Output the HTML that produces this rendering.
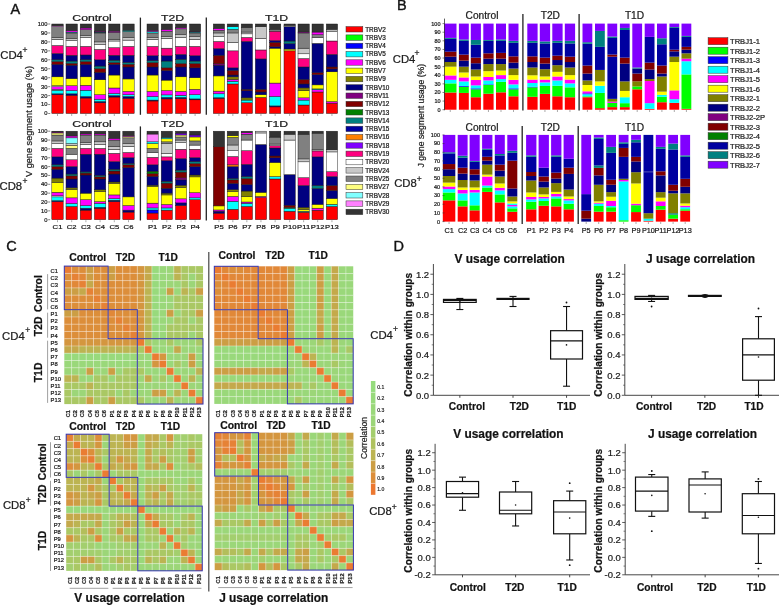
<!DOCTYPE html>
<html><head><meta charset="utf-8"><style>
html,body{margin:0;padding:0;background:#fff;width:779px;height:605px;overflow:hidden}
svg{display:block;font-family:"Liberation Sans", sans-serif;filter:blur(0.3px)}
text{stroke:#1a1a1a;stroke-width:0.22px}
</style></head><body>
<svg width="779" height="605" viewBox="0 0 779 605" font-family='"Liberation Sans", sans-serif'>
<rect width="779" height="605" fill="#fff"/>
<text x="10.6" y="13.5" font-size="14.5" text-anchor="start" fill="#111" style="stroke-width:0.4px">A</text>
<rect x="51.80" y="94.70" width="11.40" height="18.80" fill="#ff0000" stroke="#1a1a1a" stroke-width="0.45"/>
<rect x="51.80" y="93.81" width="11.40" height="0.89" fill="#000080" stroke="#1a1a1a" stroke-width="0.45"/>
<rect x="51.80" y="90.23" width="11.40" height="3.58" fill="#00ffff" stroke="#1a1a1a" stroke-width="0.45"/>
<rect x="51.80" y="89.33" width="11.40" height="0.90" fill="#ffffff" stroke="#1a1a1a" stroke-width="0.45"/>
<rect x="51.80" y="86.65" width="11.40" height="2.68" fill="#ff00ff" stroke="#1a1a1a" stroke-width="0.45"/>
<rect x="51.80" y="85.75" width="11.40" height="0.90" fill="#ffffff" stroke="#1a1a1a" stroke-width="0.45"/>
<rect x="51.80" y="76.81" width="11.40" height="8.95" fill="#ffff00" stroke="#1a1a1a" stroke-width="0.45"/>
<rect x="51.80" y="64.28" width="11.40" height="12.53" fill="#000080" stroke="#1a1a1a" stroke-width="0.45"/>
<rect x="51.80" y="61.59" width="11.40" height="2.69" fill="#800000" stroke="#1a1a1a" stroke-width="0.45"/>
<rect x="51.80" y="59.80" width="11.40" height="1.79" fill="#008080" stroke="#1a1a1a" stroke-width="0.45"/>
<rect x="51.80" y="53.53" width="11.40" height="6.27" fill="#000080" stroke="#1a1a1a" stroke-width="0.45"/>
<rect x="51.80" y="45.48" width="11.40" height="8.05" fill="#ff0080" stroke="#1a1a1a" stroke-width="0.45"/>
<rect x="51.80" y="39.22" width="11.40" height="6.27" fill="#ffffff" stroke="#1a1a1a" stroke-width="0.45"/>
<rect x="51.80" y="37.42" width="11.40" height="1.79" fill="#c8c8c8" stroke="#1a1a1a" stroke-width="0.45"/>
<rect x="51.80" y="26.69" width="11.40" height="10.74" fill="#808080" stroke="#1a1a1a" stroke-width="0.45"/>
<rect x="51.80" y="25.79" width="11.40" height="0.89" fill="#ff80ff" stroke="#1a1a1a" stroke-width="0.45"/>
<rect x="51.80" y="24.00" width="11.40" height="1.79" fill="#333333" stroke="#1a1a1a" stroke-width="0.45"/>
<rect x="66.00" y="95.24" width="11.40" height="18.26" fill="#ff0000" stroke="#1a1a1a" stroke-width="0.45"/>
<rect x="66.00" y="93.81" width="11.40" height="1.43" fill="#000080" stroke="#1a1a1a" stroke-width="0.45"/>
<rect x="66.00" y="90.59" width="11.40" height="3.22" fill="#00ffff" stroke="#1a1a1a" stroke-width="0.45"/>
<rect x="66.00" y="85.75" width="11.40" height="4.83" fill="#ff00ff" stroke="#1a1a1a" stroke-width="0.45"/>
<rect x="66.00" y="78.59" width="11.40" height="7.16" fill="#ffff00" stroke="#1a1a1a" stroke-width="0.45"/>
<rect x="66.00" y="65.17" width="11.40" height="13.43" fill="#000080" stroke="#1a1a1a" stroke-width="0.45"/>
<rect x="66.00" y="63.38" width="11.40" height="1.79" fill="#800000" stroke="#1a1a1a" stroke-width="0.45"/>
<rect x="66.00" y="61.05" width="11.40" height="2.33" fill="#008080" stroke="#1a1a1a" stroke-width="0.45"/>
<rect x="66.00" y="55.32" width="11.40" height="5.73" fill="#000080" stroke="#1a1a1a" stroke-width="0.45"/>
<rect x="66.00" y="46.38" width="11.40" height="8.95" fill="#ff0080" stroke="#1a1a1a" stroke-width="0.45"/>
<rect x="66.00" y="40.65" width="11.40" height="5.73" fill="#ffffff" stroke="#1a1a1a" stroke-width="0.45"/>
<rect x="66.00" y="38.32" width="11.40" height="2.33" fill="#c8c8c8" stroke="#1a1a1a" stroke-width="0.45"/>
<rect x="66.00" y="32.95" width="11.40" height="5.37" fill="#808080" stroke="#1a1a1a" stroke-width="0.45"/>
<rect x="66.00" y="32.05" width="11.40" height="0.90" fill="#00ffff" stroke="#1a1a1a" stroke-width="0.45"/>
<rect x="66.00" y="30.62" width="11.40" height="1.43" fill="#ff00ff" stroke="#1a1a1a" stroke-width="0.45"/>
<rect x="66.00" y="24.00" width="11.40" height="6.62" fill="#333333" stroke="#1a1a1a" stroke-width="0.45"/>
<rect x="80.20" y="98.02" width="11.40" height="15.48" fill="#ff0000" stroke="#1a1a1a" stroke-width="0.45"/>
<rect x="80.20" y="96.50" width="11.40" height="1.52" fill="#000080" stroke="#1a1a1a" stroke-width="0.45"/>
<rect x="80.20" y="90.23" width="11.40" height="6.27" fill="#00ffff" stroke="#1a1a1a" stroke-width="0.45"/>
<rect x="80.20" y="85.31" width="11.40" height="4.92" fill="#ff00ff" stroke="#1a1a1a" stroke-width="0.45"/>
<rect x="80.20" y="76.81" width="11.40" height="8.50" fill="#ffff00" stroke="#1a1a1a" stroke-width="0.45"/>
<rect x="80.20" y="64.28" width="11.40" height="12.53" fill="#000080" stroke="#1a1a1a" stroke-width="0.45"/>
<rect x="80.20" y="61.59" width="11.40" height="2.69" fill="#800000" stroke="#1a1a1a" stroke-width="0.45"/>
<rect x="80.20" y="59.80" width="11.40" height="1.79" fill="#008080" stroke="#1a1a1a" stroke-width="0.45"/>
<rect x="80.20" y="54.97" width="11.40" height="4.83" fill="#000080" stroke="#1a1a1a" stroke-width="0.45"/>
<rect x="80.20" y="46.38" width="11.40" height="8.59" fill="#ff0080" stroke="#1a1a1a" stroke-width="0.45"/>
<rect x="80.20" y="37.42" width="11.40" height="8.95" fill="#ffffff" stroke="#1a1a1a" stroke-width="0.45"/>
<rect x="80.20" y="35.64" width="11.40" height="1.79" fill="#c8c8c8" stroke="#1a1a1a" stroke-width="0.45"/>
<rect x="80.20" y="29.73" width="11.40" height="5.91" fill="#808080" stroke="#1a1a1a" stroke-width="0.45"/>
<rect x="80.20" y="28.03" width="11.40" height="1.70" fill="#ff00ff" stroke="#1a1a1a" stroke-width="0.45"/>
<rect x="80.20" y="24.00" width="11.40" height="4.03" fill="#333333" stroke="#1a1a1a" stroke-width="0.45"/>
<rect x="94.40" y="102.76" width="11.40" height="10.74" fill="#ff0000" stroke="#1a1a1a" stroke-width="0.45"/>
<rect x="94.40" y="101.51" width="11.40" height="1.25" fill="#000080" stroke="#1a1a1a" stroke-width="0.45"/>
<rect x="94.40" y="99.18" width="11.40" height="2.33" fill="#00ffff" stroke="#1a1a1a" stroke-width="0.45"/>
<rect x="94.40" y="94.70" width="11.40" height="4.48" fill="#ff00ff" stroke="#1a1a1a" stroke-width="0.45"/>
<rect x="94.40" y="79.76" width="11.40" height="14.95" fill="#ffff00" stroke="#1a1a1a" stroke-width="0.45"/>
<rect x="94.40" y="72.33" width="11.40" height="7.43" fill="#000080" stroke="#1a1a1a" stroke-width="0.45"/>
<rect x="94.40" y="68.75" width="11.40" height="3.58" fill="#800000" stroke="#1a1a1a" stroke-width="0.45"/>
<rect x="94.40" y="66.06" width="11.40" height="2.69" fill="#008080" stroke="#1a1a1a" stroke-width="0.45"/>
<rect x="94.40" y="59.80" width="11.40" height="6.26" fill="#000080" stroke="#1a1a1a" stroke-width="0.45"/>
<rect x="94.40" y="49.42" width="11.40" height="10.38" fill="#ff0080" stroke="#1a1a1a" stroke-width="0.45"/>
<rect x="94.40" y="44.58" width="11.40" height="4.83" fill="#ffffff" stroke="#1a1a1a" stroke-width="0.45"/>
<rect x="94.40" y="41.90" width="11.40" height="2.69" fill="#c8c8c8" stroke="#1a1a1a" stroke-width="0.45"/>
<rect x="94.40" y="32.95" width="11.40" height="8.95" fill="#808080" stroke="#1a1a1a" stroke-width="0.45"/>
<rect x="94.40" y="32.05" width="11.40" height="0.90" fill="#008080" stroke="#1a1a1a" stroke-width="0.45"/>
<rect x="94.40" y="31.16" width="11.40" height="0.89" fill="#ff00ff" stroke="#1a1a1a" stroke-width="0.45"/>
<rect x="94.40" y="24.00" width="11.40" height="7.16" fill="#333333" stroke="#1a1a1a" stroke-width="0.45"/>
<rect x="108.60" y="97.03" width="11.40" height="16.47" fill="#ff0000" stroke="#1a1a1a" stroke-width="0.45"/>
<rect x="108.60" y="95.60" width="11.40" height="1.43" fill="#000080" stroke="#1a1a1a" stroke-width="0.45"/>
<rect x="108.60" y="93.54" width="11.40" height="2.06" fill="#00ffff" stroke="#1a1a1a" stroke-width="0.45"/>
<rect x="108.60" y="87.99" width="11.40" height="5.55" fill="#ff00ff" stroke="#1a1a1a" stroke-width="0.45"/>
<rect x="108.60" y="75.02" width="11.40" height="12.98" fill="#ffff00" stroke="#1a1a1a" stroke-width="0.45"/>
<rect x="108.60" y="64.28" width="11.40" height="10.74" fill="#000080" stroke="#1a1a1a" stroke-width="0.45"/>
<rect x="108.60" y="62.75" width="11.40" height="1.52" fill="#800000" stroke="#1a1a1a" stroke-width="0.45"/>
<rect x="108.60" y="60.16" width="11.40" height="2.60" fill="#008080" stroke="#1a1a1a" stroke-width="0.45"/>
<rect x="108.60" y="55.32" width="11.40" height="4.83" fill="#000080" stroke="#1a1a1a" stroke-width="0.45"/>
<rect x="108.60" y="47.63" width="11.40" height="7.70" fill="#ff0080" stroke="#1a1a1a" stroke-width="0.45"/>
<rect x="108.60" y="41.00" width="11.40" height="6.62" fill="#ffffff" stroke="#1a1a1a" stroke-width="0.45"/>
<rect x="108.60" y="39.22" width="11.40" height="1.79" fill="#c8c8c8" stroke="#1a1a1a" stroke-width="0.45"/>
<rect x="108.60" y="32.32" width="11.40" height="6.89" fill="#808080" stroke="#1a1a1a" stroke-width="0.45"/>
<rect x="108.60" y="31.16" width="11.40" height="1.16" fill="#ff00ff" stroke="#1a1a1a" stroke-width="0.45"/>
<rect x="108.60" y="24.00" width="11.40" height="7.16" fill="#333333" stroke="#1a1a1a" stroke-width="0.45"/>
<rect x="122.80" y="98.28" width="11.40" height="15.22" fill="#ff0000" stroke="#1a1a1a" stroke-width="0.45"/>
<rect x="122.80" y="96.50" width="11.40" height="1.79" fill="#000080" stroke="#1a1a1a" stroke-width="0.45"/>
<rect x="122.80" y="94.70" width="11.40" height="1.79" fill="#00ffff" stroke="#1a1a1a" stroke-width="0.45"/>
<rect x="122.80" y="91.39" width="11.40" height="3.31" fill="#ff00ff" stroke="#1a1a1a" stroke-width="0.45"/>
<rect x="122.80" y="78.95" width="11.40" height="12.44" fill="#ffff00" stroke="#1a1a1a" stroke-width="0.45"/>
<rect x="122.80" y="66.96" width="11.40" height="11.99" fill="#000080" stroke="#1a1a1a" stroke-width="0.45"/>
<rect x="122.80" y="64.28" width="11.40" height="2.69" fill="#800000" stroke="#1a1a1a" stroke-width="0.45"/>
<rect x="122.80" y="62.49" width="11.40" height="1.79" fill="#008080" stroke="#1a1a1a" stroke-width="0.45"/>
<rect x="122.80" y="55.32" width="11.40" height="7.16" fill="#000080" stroke="#1a1a1a" stroke-width="0.45"/>
<rect x="122.80" y="46.38" width="11.40" height="8.95" fill="#ff0080" stroke="#1a1a1a" stroke-width="0.45"/>
<rect x="122.80" y="40.11" width="11.40" height="6.27" fill="#ffffff" stroke="#1a1a1a" stroke-width="0.45"/>
<rect x="122.80" y="37.42" width="11.40" height="2.69" fill="#c8c8c8" stroke="#1a1a1a" stroke-width="0.45"/>
<rect x="122.80" y="31.52" width="11.40" height="5.91" fill="#808080" stroke="#1a1a1a" stroke-width="0.45"/>
<rect x="122.80" y="30.27" width="11.40" height="1.25" fill="#00ffff" stroke="#1a1a1a" stroke-width="0.45"/>
<rect x="122.80" y="24.00" width="11.40" height="6.27" fill="#333333" stroke="#1a1a1a" stroke-width="0.45"/>
<rect x="147.00" y="100.97" width="11.20" height="12.53" fill="#ff0000" stroke="#1a1a1a" stroke-width="0.45"/>
<rect x="147.00" y="100.08" width="11.20" height="0.89" fill="#000080" stroke="#1a1a1a" stroke-width="0.45"/>
<rect x="147.00" y="96.50" width="11.20" height="3.58" fill="#00ffff" stroke="#1a1a1a" stroke-width="0.45"/>
<rect x="147.00" y="91.39" width="11.20" height="5.10" fill="#ff00ff" stroke="#1a1a1a" stroke-width="0.45"/>
<rect x="147.00" y="75.02" width="11.20" height="16.38" fill="#ffff00" stroke="#1a1a1a" stroke-width="0.45"/>
<rect x="147.00" y="66.96" width="11.20" height="8.05" fill="#000080" stroke="#1a1a1a" stroke-width="0.45"/>
<rect x="147.00" y="62.75" width="11.20" height="4.21" fill="#800000" stroke="#1a1a1a" stroke-width="0.45"/>
<rect x="147.00" y="60.70" width="11.20" height="2.06" fill="#008080" stroke="#1a1a1a" stroke-width="0.45"/>
<rect x="147.00" y="55.77" width="11.20" height="4.92" fill="#000080" stroke="#1a1a1a" stroke-width="0.45"/>
<rect x="147.00" y="46.38" width="11.20" height="9.40" fill="#ff0080" stroke="#1a1a1a" stroke-width="0.45"/>
<rect x="147.00" y="39.22" width="11.20" height="7.16" fill="#ffffff" stroke="#1a1a1a" stroke-width="0.45"/>
<rect x="147.00" y="37.42" width="11.20" height="1.79" fill="#c8c8c8" stroke="#1a1a1a" stroke-width="0.45"/>
<rect x="147.00" y="32.95" width="11.20" height="4.47" fill="#808080" stroke="#1a1a1a" stroke-width="0.45"/>
<rect x="147.00" y="31.52" width="11.20" height="1.43" fill="#00ffff" stroke="#1a1a1a" stroke-width="0.45"/>
<rect x="147.00" y="30.27" width="11.20" height="1.25" fill="#ff00ff" stroke="#1a1a1a" stroke-width="0.45"/>
<rect x="147.00" y="24.00" width="11.20" height="6.27" fill="#333333" stroke="#1a1a1a" stroke-width="0.45"/>
<rect x="161.20" y="98.91" width="11.20" height="14.59" fill="#ff0000" stroke="#1a1a1a" stroke-width="0.45"/>
<rect x="161.20" y="97.39" width="11.20" height="1.52" fill="#000080" stroke="#1a1a1a" stroke-width="0.45"/>
<rect x="161.20" y="94.88" width="11.20" height="2.51" fill="#00ffff" stroke="#1a1a1a" stroke-width="0.45"/>
<rect x="161.20" y="90.59" width="11.20" height="4.30" fill="#ff00ff" stroke="#1a1a1a" stroke-width="0.45"/>
<rect x="161.20" y="80.12" width="11.20" height="10.47" fill="#ffff00" stroke="#1a1a1a" stroke-width="0.45"/>
<rect x="161.20" y="70.54" width="11.20" height="9.58" fill="#000080" stroke="#1a1a1a" stroke-width="0.45"/>
<rect x="161.20" y="67.85" width="11.20" height="2.69" fill="#800000" stroke="#1a1a1a" stroke-width="0.45"/>
<rect x="161.20" y="61.05" width="11.20" height="6.80" fill="#008080" stroke="#1a1a1a" stroke-width="0.45"/>
<rect x="161.20" y="55.77" width="11.20" height="5.28" fill="#000080" stroke="#1a1a1a" stroke-width="0.45"/>
<rect x="161.20" y="48.17" width="11.20" height="7.61" fill="#ff0080" stroke="#1a1a1a" stroke-width="0.45"/>
<rect x="161.20" y="38.32" width="11.20" height="9.84" fill="#ffffff" stroke="#1a1a1a" stroke-width="0.45"/>
<rect x="161.20" y="36.53" width="11.20" height="1.79" fill="#c8c8c8" stroke="#1a1a1a" stroke-width="0.45"/>
<rect x="161.20" y="31.16" width="11.20" height="5.37" fill="#808080" stroke="#1a1a1a" stroke-width="0.45"/>
<rect x="161.20" y="29.37" width="11.20" height="1.79" fill="#ff00ff" stroke="#1a1a1a" stroke-width="0.45"/>
<rect x="161.20" y="24.00" width="11.20" height="5.37" fill="#333333" stroke="#1a1a1a" stroke-width="0.45"/>
<rect x="175.50" y="98.73" width="11.20" height="14.77" fill="#ff0000" stroke="#1a1a1a" stroke-width="0.45"/>
<rect x="175.50" y="97.39" width="11.20" height="1.34" fill="#000080" stroke="#1a1a1a" stroke-width="0.45"/>
<rect x="175.50" y="95.24" width="11.20" height="2.15" fill="#00ffff" stroke="#1a1a1a" stroke-width="0.45"/>
<rect x="175.50" y="91.39" width="11.20" height="3.85" fill="#ff00ff" stroke="#1a1a1a" stroke-width="0.45"/>
<rect x="175.50" y="76.81" width="11.20" height="14.59" fill="#ffff00" stroke="#1a1a1a" stroke-width="0.45"/>
<rect x="175.50" y="66.96" width="11.20" height="9.84" fill="#000080" stroke="#1a1a1a" stroke-width="0.45"/>
<rect x="175.50" y="63.65" width="11.20" height="3.31" fill="#800000" stroke="#1a1a1a" stroke-width="0.45"/>
<rect x="175.50" y="59.26" width="11.20" height="4.39" fill="#008080" stroke="#1a1a1a" stroke-width="0.45"/>
<rect x="175.50" y="54.43" width="11.20" height="4.83" fill="#000080" stroke="#1a1a1a" stroke-width="0.45"/>
<rect x="175.50" y="46.38" width="11.20" height="8.05" fill="#ff0080" stroke="#1a1a1a" stroke-width="0.45"/>
<rect x="175.50" y="37.42" width="11.20" height="8.95" fill="#ffffff" stroke="#1a1a1a" stroke-width="0.45"/>
<rect x="175.50" y="34.74" width="11.20" height="2.69" fill="#c8c8c8" stroke="#1a1a1a" stroke-width="0.45"/>
<rect x="175.50" y="28.83" width="11.20" height="5.91" fill="#808080" stroke="#1a1a1a" stroke-width="0.45"/>
<rect x="175.50" y="27.58" width="11.20" height="1.25" fill="#ff00ff" stroke="#1a1a1a" stroke-width="0.45"/>
<rect x="175.50" y="24.00" width="11.20" height="3.58" fill="#333333" stroke="#1a1a1a" stroke-width="0.45"/>
<rect x="189.50" y="99.81" width="11.20" height="13.69" fill="#ff0000" stroke="#1a1a1a" stroke-width="0.45"/>
<rect x="189.50" y="98.91" width="11.20" height="0.89" fill="#000080" stroke="#1a1a1a" stroke-width="0.45"/>
<rect x="189.50" y="94.70" width="11.20" height="4.21" fill="#00ffff" stroke="#1a1a1a" stroke-width="0.45"/>
<rect x="189.50" y="89.33" width="11.20" height="5.37" fill="#ff00ff" stroke="#1a1a1a" stroke-width="0.45"/>
<rect x="189.50" y="77.70" width="11.20" height="11.64" fill="#ffff00" stroke="#1a1a1a" stroke-width="0.45"/>
<rect x="189.50" y="67.85" width="11.20" height="9.84" fill="#000080" stroke="#1a1a1a" stroke-width="0.45"/>
<rect x="189.50" y="63.65" width="11.20" height="4.21" fill="#800000" stroke="#1a1a1a" stroke-width="0.45"/>
<rect x="189.50" y="61.05" width="11.20" height="2.60" fill="#008080" stroke="#1a1a1a" stroke-width="0.45"/>
<rect x="189.50" y="55.77" width="11.20" height="5.28" fill="#000080" stroke="#1a1a1a" stroke-width="0.45"/>
<rect x="189.50" y="46.38" width="11.20" height="9.40" fill="#ff0080" stroke="#1a1a1a" stroke-width="0.45"/>
<rect x="189.50" y="39.22" width="11.20" height="7.16" fill="#ffffff" stroke="#1a1a1a" stroke-width="0.45"/>
<rect x="189.50" y="36.53" width="11.20" height="2.69" fill="#c8c8c8" stroke="#1a1a1a" stroke-width="0.45"/>
<rect x="189.50" y="32.95" width="11.20" height="3.58" fill="#808080" stroke="#1a1a1a" stroke-width="0.45"/>
<rect x="189.50" y="32.05" width="11.20" height="0.90" fill="#00ffff" stroke="#1a1a1a" stroke-width="0.45"/>
<rect x="189.50" y="31.52" width="11.20" height="0.54" fill="#ff00ff" stroke="#1a1a1a" stroke-width="0.45"/>
<rect x="189.50" y="24.00" width="11.20" height="7.52" fill="#333333" stroke="#1a1a1a" stroke-width="0.45"/>
<rect x="213.30" y="98.28" width="11.30" height="15.22" fill="#ff0000" stroke="#1a1a1a" stroke-width="0.45"/>
<rect x="213.30" y="97.75" width="11.30" height="0.54" fill="#000080" stroke="#1a1a1a" stroke-width="0.45"/>
<rect x="213.30" y="93.81" width="11.30" height="3.94" fill="#00ffff" stroke="#1a1a1a" stroke-width="0.45"/>
<rect x="213.30" y="91.12" width="11.30" height="2.69" fill="#ff00ff" stroke="#1a1a1a" stroke-width="0.45"/>
<rect x="213.30" y="75.91" width="11.30" height="15.22" fill="#ffff00" stroke="#1a1a1a" stroke-width="0.45"/>
<rect x="213.30" y="65.17" width="11.30" height="10.74" fill="#000080" stroke="#1a1a1a" stroke-width="0.45"/>
<rect x="213.30" y="63.83" width="11.30" height="1.34" fill="#800080" stroke="#1a1a1a" stroke-width="0.45"/>
<rect x="213.30" y="55.32" width="11.30" height="8.50" fill="#800000" stroke="#1a1a1a" stroke-width="0.45"/>
<rect x="213.30" y="48.61" width="11.30" height="6.71" fill="#000080" stroke="#1a1a1a" stroke-width="0.45"/>
<rect x="213.30" y="41.45" width="11.30" height="7.16" fill="#ff0080" stroke="#1a1a1a" stroke-width="0.45"/>
<rect x="213.30" y="36.53" width="11.30" height="4.92" fill="#ffffff" stroke="#1a1a1a" stroke-width="0.45"/>
<rect x="213.30" y="32.95" width="11.30" height="3.58" fill="#c8c8c8" stroke="#1a1a1a" stroke-width="0.45"/>
<rect x="213.30" y="30.27" width="11.30" height="2.69" fill="#808080" stroke="#1a1a1a" stroke-width="0.45"/>
<rect x="213.30" y="28.48" width="11.30" height="1.79" fill="#ff00ff" stroke="#1a1a1a" stroke-width="0.45"/>
<rect x="213.30" y="24.00" width="11.30" height="4.48" fill="#333333" stroke="#1a1a1a" stroke-width="0.45"/>
<rect x="227.20" y="83.97" width="11.30" height="29.53" fill="#ff0000" stroke="#1a1a1a" stroke-width="0.45"/>
<rect x="227.20" y="81.28" width="11.30" height="2.69" fill="#00ffff" stroke="#1a1a1a" stroke-width="0.45"/>
<rect x="227.20" y="79.49" width="11.30" height="1.79" fill="#ff00ff" stroke="#1a1a1a" stroke-width="0.45"/>
<rect x="227.20" y="76.81" width="11.30" height="2.69" fill="#808000" stroke="#1a1a1a" stroke-width="0.45"/>
<rect x="227.20" y="75.02" width="11.30" height="1.79" fill="#000080" stroke="#1a1a1a" stroke-width="0.45"/>
<rect x="227.20" y="70.54" width="11.30" height="4.48" fill="#800000" stroke="#1a1a1a" stroke-width="0.45"/>
<rect x="227.20" y="67.85" width="11.30" height="2.69" fill="#000080" stroke="#1a1a1a" stroke-width="0.45"/>
<rect x="227.20" y="50.85" width="11.30" height="17.00" fill="#ff0080" stroke="#1a1a1a" stroke-width="0.45"/>
<rect x="227.20" y="42.35" width="11.30" height="8.50" fill="#ffffff" stroke="#1a1a1a" stroke-width="0.45"/>
<rect x="227.20" y="32.95" width="11.30" height="9.40" fill="#c8c8c8" stroke="#1a1a1a" stroke-width="0.45"/>
<rect x="227.20" y="29.37" width="11.30" height="3.58" fill="#808080" stroke="#1a1a1a" stroke-width="0.45"/>
<rect x="227.20" y="26.69" width="11.30" height="2.69" fill="#00ffff" stroke="#1a1a1a" stroke-width="0.45"/>
<rect x="227.20" y="24.00" width="11.30" height="2.69" fill="#333333" stroke="#1a1a1a" stroke-width="0.45"/>
<rect x="241.20" y="102.76" width="11.30" height="10.74" fill="#ff0000" stroke="#1a1a1a" stroke-width="0.45"/>
<rect x="241.20" y="100.08" width="11.30" height="2.69" fill="#00ffff" stroke="#1a1a1a" stroke-width="0.45"/>
<rect x="241.20" y="97.84" width="11.30" height="2.24" fill="#808000" stroke="#1a1a1a" stroke-width="0.45"/>
<rect x="241.20" y="90.77" width="11.30" height="7.07" fill="#000080" stroke="#1a1a1a" stroke-width="0.45"/>
<rect x="241.20" y="89.33" width="11.30" height="1.43" fill="#800000" stroke="#1a1a1a" stroke-width="0.45"/>
<rect x="241.20" y="41.45" width="11.30" height="47.88" fill="#000080" stroke="#1a1a1a" stroke-width="0.45"/>
<rect x="241.20" y="37.42" width="11.30" height="4.03" fill="#ff0080" stroke="#1a1a1a" stroke-width="0.45"/>
<rect x="241.20" y="33.84" width="11.30" height="3.58" fill="#ffffff" stroke="#1a1a1a" stroke-width="0.45"/>
<rect x="241.20" y="32.05" width="11.30" height="1.79" fill="#c8c8c8" stroke="#1a1a1a" stroke-width="0.45"/>
<rect x="241.20" y="27.58" width="11.30" height="4.47" fill="#808080" stroke="#1a1a1a" stroke-width="0.45"/>
<rect x="241.20" y="24.00" width="11.30" height="3.58" fill="#333333" stroke="#1a1a1a" stroke-width="0.45"/>
<rect x="255.30" y="97.39" width="11.30" height="16.11" fill="#ff0000" stroke="#1a1a1a" stroke-width="0.45"/>
<rect x="255.30" y="94.70" width="11.30" height="2.69" fill="#ffff00" stroke="#1a1a1a" stroke-width="0.45"/>
<rect x="255.30" y="92.02" width="11.30" height="2.69" fill="#000080" stroke="#1a1a1a" stroke-width="0.45"/>
<rect x="255.30" y="89.33" width="11.30" height="2.69" fill="#800000" stroke="#1a1a1a" stroke-width="0.45"/>
<rect x="255.30" y="58.91" width="11.30" height="30.43" fill="#000080" stroke="#1a1a1a" stroke-width="0.45"/>
<rect x="255.30" y="49.96" width="11.30" height="8.95" fill="#ff0080" stroke="#1a1a1a" stroke-width="0.45"/>
<rect x="255.30" y="38.32" width="11.30" height="11.63" fill="#ffffff" stroke="#1a1a1a" stroke-width="0.45"/>
<rect x="255.30" y="26.69" width="11.30" height="11.64" fill="#c8c8c8" stroke="#1a1a1a" stroke-width="0.45"/>
<rect x="255.30" y="24.00" width="11.30" height="2.69" fill="#333333" stroke="#1a1a1a" stroke-width="0.45"/>
<rect x="269.50" y="106.88" width="11.30" height="6.62" fill="#ff0000" stroke="#1a1a1a" stroke-width="0.45"/>
<rect x="269.50" y="105.89" width="11.30" height="0.98" fill="#000080" stroke="#1a1a1a" stroke-width="0.45"/>
<rect x="269.50" y="96.50" width="11.30" height="9.40" fill="#00ffff" stroke="#1a1a1a" stroke-width="0.45"/>
<rect x="269.50" y="83.07" width="11.30" height="13.43" fill="#ff00ff" stroke="#1a1a1a" stroke-width="0.45"/>
<rect x="269.50" y="48.17" width="11.30" height="34.90" fill="#ffff00" stroke="#1a1a1a" stroke-width="0.45"/>
<rect x="269.50" y="46.82" width="11.30" height="1.34" fill="#000080" stroke="#1a1a1a" stroke-width="0.45"/>
<rect x="269.50" y="42.35" width="11.30" height="4.48" fill="#800000" stroke="#1a1a1a" stroke-width="0.45"/>
<rect x="269.50" y="40.56" width="11.30" height="1.79" fill="#000080" stroke="#1a1a1a" stroke-width="0.45"/>
<rect x="269.50" y="31.16" width="11.30" height="9.40" fill="#ff0080" stroke="#1a1a1a" stroke-width="0.45"/>
<rect x="269.50" y="29.37" width="11.30" height="1.79" fill="#808080" stroke="#1a1a1a" stroke-width="0.45"/>
<rect x="269.50" y="24.00" width="11.30" height="5.37" fill="#333333" stroke="#1a1a1a" stroke-width="0.45"/>
<rect x="284.00" y="50.85" width="11.30" height="62.65" fill="#ff0000" stroke="#1a1a1a" stroke-width="0.45"/>
<rect x="284.00" y="49.06" width="11.30" height="1.79" fill="#ffff00" stroke="#1a1a1a" stroke-width="0.45"/>
<rect x="284.00" y="43.69" width="11.30" height="5.37" fill="#000080" stroke="#1a1a1a" stroke-width="0.45"/>
<rect x="284.00" y="41.00" width="11.30" height="2.69" fill="#008080" stroke="#1a1a1a" stroke-width="0.45"/>
<rect x="284.00" y="26.69" width="11.30" height="14.32" fill="#000080" stroke="#1a1a1a" stroke-width="0.45"/>
<rect x="284.00" y="25.34" width="11.30" height="1.34" fill="#c8c8c8" stroke="#1a1a1a" stroke-width="0.45"/>
<rect x="284.00" y="24.00" width="11.30" height="1.34" fill="#333333" stroke="#1a1a1a" stroke-width="0.45"/>
<rect x="298.00" y="105.00" width="11.30" height="8.50" fill="#ff0000" stroke="#1a1a1a" stroke-width="0.45"/>
<rect x="298.00" y="100.08" width="11.30" height="4.92" fill="#00ffff" stroke="#1a1a1a" stroke-width="0.45"/>
<rect x="298.00" y="97.84" width="11.30" height="2.24" fill="#ff00ff" stroke="#1a1a1a" stroke-width="0.45"/>
<rect x="298.00" y="90.77" width="11.30" height="7.07" fill="#ffff00" stroke="#1a1a1a" stroke-width="0.45"/>
<rect x="298.00" y="87.90" width="11.30" height="2.86" fill="#808000" stroke="#1a1a1a" stroke-width="0.45"/>
<rect x="298.00" y="83.97" width="11.30" height="3.94" fill="#000080" stroke="#1a1a1a" stroke-width="0.45"/>
<rect x="298.00" y="79.49" width="11.30" height="4.47" fill="#800000" stroke="#1a1a1a" stroke-width="0.45"/>
<rect x="298.00" y="66.96" width="11.30" height="12.53" fill="#000080" stroke="#1a1a1a" stroke-width="0.45"/>
<rect x="298.00" y="58.55" width="11.30" height="8.41" fill="#ff0080" stroke="#1a1a1a" stroke-width="0.45"/>
<rect x="298.00" y="53.80" width="11.30" height="4.74" fill="#ffffff" stroke="#1a1a1a" stroke-width="0.45"/>
<rect x="298.00" y="48.17" width="11.30" height="5.64" fill="#c8c8c8" stroke="#1a1a1a" stroke-width="0.45"/>
<rect x="298.00" y="32.95" width="11.30" height="15.22" fill="#808080" stroke="#1a1a1a" stroke-width="0.45"/>
<rect x="298.00" y="32.05" width="11.30" height="0.90" fill="#ff00ff" stroke="#1a1a1a" stroke-width="0.45"/>
<rect x="298.00" y="24.00" width="11.30" height="8.05" fill="#333333" stroke="#1a1a1a" stroke-width="0.45"/>
<rect x="312.00" y="92.02" width="11.30" height="21.48" fill="#ff0000" stroke="#1a1a1a" stroke-width="0.45"/>
<rect x="312.00" y="89.78" width="11.30" height="2.24" fill="#ff00ff" stroke="#1a1a1a" stroke-width="0.45"/>
<rect x="312.00" y="88.89" width="11.30" height="0.89" fill="#00ffff" stroke="#1a1a1a" stroke-width="0.45"/>
<rect x="312.00" y="84.86" width="11.30" height="4.03" fill="#ffff00" stroke="#1a1a1a" stroke-width="0.45"/>
<rect x="312.00" y="74.66" width="11.30" height="10.20" fill="#000080" stroke="#1a1a1a" stroke-width="0.45"/>
<rect x="312.00" y="72.78" width="11.30" height="1.88" fill="#800000" stroke="#1a1a1a" stroke-width="0.45"/>
<rect x="312.00" y="43.33" width="11.30" height="29.45" fill="#000080" stroke="#1a1a1a" stroke-width="0.45"/>
<rect x="312.00" y="37.69" width="11.30" height="5.64" fill="#ffffff" stroke="#1a1a1a" stroke-width="0.45"/>
<rect x="312.00" y="34.74" width="11.30" height="2.95" fill="#808080" stroke="#1a1a1a" stroke-width="0.45"/>
<rect x="312.00" y="32.05" width="11.30" height="2.69" fill="#ff00ff" stroke="#1a1a1a" stroke-width="0.45"/>
<rect x="312.00" y="24.00" width="11.30" height="8.05" fill="#333333" stroke="#1a1a1a" stroke-width="0.45"/>
<rect x="326.30" y="103.12" width="11.30" height="10.38" fill="#ff0000" stroke="#1a1a1a" stroke-width="0.45"/>
<rect x="326.30" y="101.60" width="11.30" height="1.52" fill="#ff00ff" stroke="#1a1a1a" stroke-width="0.45"/>
<rect x="326.30" y="71.79" width="11.30" height="29.80" fill="#ffff00" stroke="#1a1a1a" stroke-width="0.45"/>
<rect x="326.30" y="68.93" width="11.30" height="2.86" fill="#000080" stroke="#1a1a1a" stroke-width="0.45"/>
<rect x="326.30" y="66.96" width="11.30" height="1.97" fill="#800000" stroke="#1a1a1a" stroke-width="0.45"/>
<rect x="326.30" y="54.43" width="11.30" height="12.53" fill="#000080" stroke="#1a1a1a" stroke-width="0.45"/>
<rect x="326.30" y="41.00" width="11.30" height="13.43" fill="#ff0080" stroke="#1a1a1a" stroke-width="0.45"/>
<rect x="326.30" y="31.16" width="11.30" height="9.84" fill="#ffffff" stroke="#1a1a1a" stroke-width="0.45"/>
<rect x="326.30" y="29.37" width="11.30" height="1.79" fill="#c8c8c8" stroke="#1a1a1a" stroke-width="0.45"/>
<rect x="326.30" y="24.00" width="11.30" height="5.37" fill="#333333" stroke="#1a1a1a" stroke-width="0.45"/>
<rect x="51.80" y="201.65" width="11.40" height="18.05" fill="#ff0000" stroke="#1a1a1a" stroke-width="0.45"/>
<rect x="51.80" y="200.67" width="11.40" height="0.97" fill="#000080" stroke="#1a1a1a" stroke-width="0.45"/>
<rect x="51.80" y="196.87" width="11.40" height="3.81" fill="#00ffff" stroke="#1a1a1a" stroke-width="0.45"/>
<rect x="51.80" y="195.80" width="11.40" height="1.06" fill="#ffffff" stroke="#1a1a1a" stroke-width="0.45"/>
<rect x="51.80" y="192.26" width="11.40" height="3.54" fill="#ff00ff" stroke="#1a1a1a" stroke-width="0.45"/>
<rect x="51.80" y="182.53" width="11.40" height="9.74" fill="#ffff00" stroke="#1a1a1a" stroke-width="0.45"/>
<rect x="51.80" y="178.10" width="11.40" height="4.42" fill="#808000" stroke="#1a1a1a" stroke-width="0.45"/>
<rect x="51.80" y="169.25" width="11.40" height="8.85" fill="#000080" stroke="#1a1a1a" stroke-width="0.45"/>
<rect x="51.80" y="166.60" width="11.40" height="2.66" fill="#800000" stroke="#1a1a1a" stroke-width="0.45"/>
<rect x="51.80" y="164.83" width="11.40" height="1.77" fill="#008080" stroke="#1a1a1a" stroke-width="0.45"/>
<rect x="51.80" y="156.87" width="11.40" height="7.96" fill="#000080" stroke="#1a1a1a" stroke-width="0.45"/>
<rect x="51.80" y="148.37" width="11.40" height="8.50" fill="#ff0080" stroke="#1a1a1a" stroke-width="0.45"/>
<rect x="51.80" y="143.59" width="11.40" height="4.78" fill="#ffffff" stroke="#1a1a1a" stroke-width="0.45"/>
<rect x="51.80" y="140.94" width="11.40" height="2.65" fill="#c8c8c8" stroke="#1a1a1a" stroke-width="0.45"/>
<rect x="51.80" y="135.01" width="11.40" height="5.93" fill="#808080" stroke="#1a1a1a" stroke-width="0.45"/>
<rect x="51.80" y="132.97" width="11.40" height="2.04" fill="#ffff80" stroke="#1a1a1a" stroke-width="0.45"/>
<rect x="51.80" y="132.08" width="11.40" height="0.88" fill="#ff00ff" stroke="#1a1a1a" stroke-width="0.45"/>
<rect x="51.80" y="131.20" width="11.40" height="0.88" fill="#333333" stroke="#1a1a1a" stroke-width="0.45"/>
<rect x="66.00" y="206.42" width="11.40" height="13.28" fill="#ff0000" stroke="#1a1a1a" stroke-width="0.45"/>
<rect x="66.00" y="203.50" width="11.40" height="2.92" fill="#00ffff" stroke="#1a1a1a" stroke-width="0.45"/>
<rect x="66.00" y="197.84" width="11.40" height="5.66" fill="#ff00ff" stroke="#1a1a1a" stroke-width="0.45"/>
<rect x="66.00" y="189.26" width="11.40" height="8.58" fill="#ffff00" stroke="#1a1a1a" stroke-width="0.45"/>
<rect x="66.00" y="187.84" width="11.40" height="1.42" fill="#808000" stroke="#1a1a1a" stroke-width="0.45"/>
<rect x="66.00" y="178.99" width="11.40" height="8.85" fill="#000080" stroke="#1a1a1a" stroke-width="0.45"/>
<rect x="66.00" y="175.89" width="11.40" height="3.10" fill="#800000" stroke="#1a1a1a" stroke-width="0.45"/>
<rect x="66.00" y="174.03" width="11.40" height="1.86" fill="#008080" stroke="#1a1a1a" stroke-width="0.45"/>
<rect x="66.00" y="166.60" width="11.40" height="7.43" fill="#000080" stroke="#1a1a1a" stroke-width="0.45"/>
<rect x="66.00" y="159.79" width="11.40" height="6.81" fill="#ff0080" stroke="#1a1a1a" stroke-width="0.45"/>
<rect x="66.00" y="154.21" width="11.40" height="5.58" fill="#ffffff" stroke="#1a1a1a" stroke-width="0.45"/>
<rect x="66.00" y="148.37" width="11.40" height="5.84" fill="#808080" stroke="#1a1a1a" stroke-width="0.45"/>
<rect x="66.00" y="145.36" width="11.40" height="3.01" fill="#ffff80" stroke="#1a1a1a" stroke-width="0.45"/>
<rect x="66.00" y="143.59" width="11.40" height="1.77" fill="#c8c8c8" stroke="#1a1a1a" stroke-width="0.45"/>
<rect x="66.00" y="137.84" width="11.40" height="5.75" fill="#80ffff" stroke="#1a1a1a" stroke-width="0.45"/>
<rect x="66.00" y="135.98" width="11.40" height="1.86" fill="#ff00ff" stroke="#1a1a1a" stroke-width="0.45"/>
<rect x="66.00" y="131.20" width="11.40" height="4.78" fill="#333333" stroke="#1a1a1a" stroke-width="0.45"/>
<rect x="80.20" y="210.14" width="11.40" height="9.56" fill="#ff0000" stroke="#1a1a1a" stroke-width="0.45"/>
<rect x="80.20" y="208.19" width="11.40" height="1.95" fill="#000080" stroke="#1a1a1a" stroke-width="0.45"/>
<rect x="80.20" y="205.54" width="11.40" height="2.66" fill="#00ffff" stroke="#1a1a1a" stroke-width="0.45"/>
<rect x="80.20" y="199.70" width="11.40" height="5.84" fill="#ff00ff" stroke="#1a1a1a" stroke-width="0.45"/>
<rect x="80.20" y="193.15" width="11.40" height="6.55" fill="#ffff00" stroke="#1a1a1a" stroke-width="0.45"/>
<rect x="80.20" y="175.01" width="11.40" height="18.14" fill="#000080" stroke="#1a1a1a" stroke-width="0.45"/>
<rect x="80.20" y="173.06" width="11.40" height="1.95" fill="#800000" stroke="#1a1a1a" stroke-width="0.45"/>
<rect x="80.20" y="171.91" width="11.40" height="1.15" fill="#008080" stroke="#1a1a1a" stroke-width="0.45"/>
<rect x="80.20" y="154.21" width="11.40" height="17.70" fill="#000080" stroke="#1a1a1a" stroke-width="0.45"/>
<rect x="80.20" y="148.37" width="11.40" height="5.84" fill="#ff0080" stroke="#1a1a1a" stroke-width="0.45"/>
<rect x="80.20" y="144.47" width="11.40" height="3.89" fill="#ffffff" stroke="#1a1a1a" stroke-width="0.45"/>
<rect x="80.20" y="142.70" width="11.40" height="1.77" fill="#c8c8c8" stroke="#1a1a1a" stroke-width="0.45"/>
<rect x="80.20" y="135.01" width="11.40" height="7.70" fill="#808080" stroke="#1a1a1a" stroke-width="0.45"/>
<rect x="80.20" y="133.85" width="11.40" height="1.15" fill="#ff00ff" stroke="#1a1a1a" stroke-width="0.45"/>
<rect x="80.20" y="131.20" width="11.40" height="2.66" fill="#333333" stroke="#1a1a1a" stroke-width="0.45"/>
<rect x="94.40" y="208.19" width="11.40" height="11.50" fill="#ff0000" stroke="#1a1a1a" stroke-width="0.45"/>
<rect x="94.40" y="207.31" width="11.40" height="0.88" fill="#000080" stroke="#1a1a1a" stroke-width="0.45"/>
<rect x="94.40" y="203.50" width="11.40" height="3.81" fill="#00ffff" stroke="#1a1a1a" stroke-width="0.45"/>
<rect x="94.40" y="201.65" width="11.40" height="1.86" fill="#ff00ff" stroke="#1a1a1a" stroke-width="0.45"/>
<rect x="94.40" y="191.38" width="11.40" height="10.27" fill="#ffff00" stroke="#1a1a1a" stroke-width="0.45"/>
<rect x="94.40" y="189.79" width="11.40" height="1.59" fill="#808000" stroke="#1a1a1a" stroke-width="0.45"/>
<rect x="94.40" y="178.99" width="11.40" height="10.80" fill="#000080" stroke="#1a1a1a" stroke-width="0.45"/>
<rect x="94.40" y="176.87" width="11.40" height="2.12" fill="#800000" stroke="#1a1a1a" stroke-width="0.45"/>
<rect x="94.40" y="175.45" width="11.40" height="1.42" fill="#008080" stroke="#1a1a1a" stroke-width="0.45"/>
<rect x="94.40" y="154.21" width="11.40" height="21.24" fill="#000080" stroke="#1a1a1a" stroke-width="0.45"/>
<rect x="94.40" y="148.37" width="11.40" height="5.84" fill="#ff0080" stroke="#1a1a1a" stroke-width="0.45"/>
<rect x="94.40" y="144.47" width="11.40" height="3.89" fill="#ffffff" stroke="#1a1a1a" stroke-width="0.45"/>
<rect x="94.40" y="141.82" width="11.40" height="2.66" fill="#c8c8c8" stroke="#1a1a1a" stroke-width="0.45"/>
<rect x="94.40" y="135.01" width="11.40" height="6.81" fill="#808080" stroke="#1a1a1a" stroke-width="0.45"/>
<rect x="94.40" y="133.85" width="11.40" height="1.15" fill="#ff00ff" stroke="#1a1a1a" stroke-width="0.45"/>
<rect x="94.40" y="131.20" width="11.40" height="2.66" fill="#333333" stroke="#1a1a1a" stroke-width="0.45"/>
<rect x="108.60" y="201.65" width="11.40" height="18.05" fill="#ff0000" stroke="#1a1a1a" stroke-width="0.45"/>
<rect x="108.60" y="200.23" width="11.40" height="1.42" fill="#000080" stroke="#1a1a1a" stroke-width="0.45"/>
<rect x="108.60" y="198.73" width="11.40" height="1.50" fill="#00ffff" stroke="#1a1a1a" stroke-width="0.45"/>
<rect x="108.60" y="194.92" width="11.40" height="3.81" fill="#ff00ff" stroke="#1a1a1a" stroke-width="0.45"/>
<rect x="108.60" y="183.41" width="11.40" height="11.50" fill="#ffff00" stroke="#1a1a1a" stroke-width="0.45"/>
<rect x="108.60" y="182.00" width="11.40" height="1.42" fill="#808000" stroke="#1a1a1a" stroke-width="0.45"/>
<rect x="108.60" y="174.03" width="11.40" height="7.97" fill="#000080" stroke="#1a1a1a" stroke-width="0.45"/>
<rect x="108.60" y="171.02" width="11.40" height="3.01" fill="#800000" stroke="#1a1a1a" stroke-width="0.45"/>
<rect x="108.60" y="169.25" width="11.40" height="1.77" fill="#008080" stroke="#1a1a1a" stroke-width="0.45"/>
<rect x="108.60" y="161.64" width="11.40" height="7.61" fill="#000080" stroke="#1a1a1a" stroke-width="0.45"/>
<rect x="108.60" y="153.32" width="11.40" height="8.32" fill="#ff0080" stroke="#1a1a1a" stroke-width="0.45"/>
<rect x="108.60" y="149.25" width="11.40" height="4.07" fill="#ffffff" stroke="#1a1a1a" stroke-width="0.45"/>
<rect x="108.60" y="146.25" width="11.40" height="3.01" fill="#c8c8c8" stroke="#1a1a1a" stroke-width="0.45"/>
<rect x="108.60" y="140.05" width="11.40" height="6.20" fill="#808080" stroke="#1a1a1a" stroke-width="0.45"/>
<rect x="108.60" y="138.28" width="11.40" height="1.77" fill="#ff00ff" stroke="#1a1a1a" stroke-width="0.45"/>
<rect x="108.60" y="131.20" width="11.40" height="7.08" fill="#333333" stroke="#1a1a1a" stroke-width="0.45"/>
<rect x="122.80" y="212.09" width="11.40" height="7.61" fill="#ff0000" stroke="#1a1a1a" stroke-width="0.45"/>
<rect x="122.80" y="210.14" width="11.40" height="1.95" fill="#000080" stroke="#1a1a1a" stroke-width="0.45"/>
<rect x="122.80" y="205.54" width="11.40" height="4.60" fill="#ff00ff" stroke="#1a1a1a" stroke-width="0.45"/>
<rect x="122.80" y="196.87" width="11.40" height="8.67" fill="#ffff00" stroke="#1a1a1a" stroke-width="0.45"/>
<rect x="122.80" y="167.48" width="11.40" height="29.38" fill="#000080" stroke="#1a1a1a" stroke-width="0.45"/>
<rect x="122.80" y="164.83" width="11.40" height="2.66" fill="#800000" stroke="#1a1a1a" stroke-width="0.45"/>
<rect x="122.80" y="163.59" width="11.40" height="1.24" fill="#008080" stroke="#1a1a1a" stroke-width="0.45"/>
<rect x="122.80" y="157.75" width="11.40" height="5.84" fill="#000080" stroke="#1a1a1a" stroke-width="0.45"/>
<rect x="122.80" y="152.44" width="11.40" height="5.31" fill="#ff0080" stroke="#1a1a1a" stroke-width="0.45"/>
<rect x="122.80" y="146.25" width="11.40" height="6.19" fill="#ffffff" stroke="#1a1a1a" stroke-width="0.45"/>
<rect x="122.80" y="143.59" width="11.40" height="2.66" fill="#c8c8c8" stroke="#1a1a1a" stroke-width="0.45"/>
<rect x="122.80" y="137.84" width="11.40" height="5.75" fill="#808080" stroke="#1a1a1a" stroke-width="0.45"/>
<rect x="122.80" y="136.51" width="11.40" height="1.33" fill="#ffff80" stroke="#1a1a1a" stroke-width="0.45"/>
<rect x="122.80" y="135.62" width="11.40" height="0.88" fill="#ff00ff" stroke="#1a1a1a" stroke-width="0.45"/>
<rect x="122.80" y="131.20" width="11.40" height="4.43" fill="#333333" stroke="#1a1a1a" stroke-width="0.45"/>
<rect x="147.00" y="213.06" width="11.20" height="6.64" fill="#ff0000" stroke="#1a1a1a" stroke-width="0.45"/>
<rect x="147.00" y="209.96" width="11.20" height="3.10" fill="#0000ff" stroke="#1a1a1a" stroke-width="0.45"/>
<rect x="147.00" y="207.93" width="11.20" height="2.04" fill="#00ffff" stroke="#1a1a1a" stroke-width="0.45"/>
<rect x="147.00" y="203.15" width="11.20" height="4.78" fill="#ff00ff" stroke="#1a1a1a" stroke-width="0.45"/>
<rect x="147.00" y="186.42" width="11.20" height="16.73" fill="#ffff00" stroke="#1a1a1a" stroke-width="0.45"/>
<rect x="147.00" y="185.19" width="11.20" height="1.24" fill="#808000" stroke="#1a1a1a" stroke-width="0.45"/>
<rect x="147.00" y="176.33" width="11.20" height="8.85" fill="#000080" stroke="#1a1a1a" stroke-width="0.45"/>
<rect x="147.00" y="173.68" width="11.20" height="2.66" fill="#800000" stroke="#1a1a1a" stroke-width="0.45"/>
<rect x="147.00" y="171.20" width="11.20" height="2.48" fill="#008000" stroke="#1a1a1a" stroke-width="0.45"/>
<rect x="147.00" y="164.83" width="11.20" height="6.37" fill="#000080" stroke="#1a1a1a" stroke-width="0.45"/>
<rect x="147.00" y="157.31" width="11.20" height="7.52" fill="#ff0080" stroke="#1a1a1a" stroke-width="0.45"/>
<rect x="147.00" y="152.71" width="11.20" height="4.60" fill="#ffffff" stroke="#1a1a1a" stroke-width="0.45"/>
<rect x="147.00" y="148.37" width="11.20" height="4.34" fill="#808080" stroke="#1a1a1a" stroke-width="0.45"/>
<rect x="147.00" y="143.59" width="11.20" height="4.78" fill="#ffff00" stroke="#1a1a1a" stroke-width="0.45"/>
<rect x="147.00" y="141.82" width="11.20" height="1.77" fill="#00ffff" stroke="#1a1a1a" stroke-width="0.45"/>
<rect x="147.00" y="134.03" width="11.20" height="7.79" fill="#ff80ff" stroke="#1a1a1a" stroke-width="0.45"/>
<rect x="147.00" y="131.20" width="11.20" height="2.83" fill="#333333" stroke="#1a1a1a" stroke-width="0.45"/>
<rect x="161.20" y="210.14" width="11.20" height="9.56" fill="#ff0000" stroke="#1a1a1a" stroke-width="0.45"/>
<rect x="161.20" y="207.93" width="11.20" height="2.21" fill="#00ffff" stroke="#1a1a1a" stroke-width="0.45"/>
<rect x="161.20" y="204.48" width="11.20" height="3.45" fill="#ff00ff" stroke="#1a1a1a" stroke-width="0.45"/>
<rect x="161.20" y="194.92" width="11.20" height="9.56" fill="#ffff00" stroke="#1a1a1a" stroke-width="0.45"/>
<rect x="161.20" y="193.15" width="11.20" height="1.77" fill="#808000" stroke="#1a1a1a" stroke-width="0.45"/>
<rect x="161.20" y="188.28" width="11.20" height="4.87" fill="#000080" stroke="#1a1a1a" stroke-width="0.45"/>
<rect x="161.20" y="183.15" width="11.20" height="5.13" fill="#800000" stroke="#1a1a1a" stroke-width="0.45"/>
<rect x="161.20" y="181.29" width="11.20" height="1.86" fill="#008080" stroke="#1a1a1a" stroke-width="0.45"/>
<rect x="161.20" y="160.67" width="11.20" height="20.62" fill="#000080" stroke="#1a1a1a" stroke-width="0.45"/>
<rect x="161.20" y="156.87" width="11.20" height="3.81" fill="#ff0080" stroke="#1a1a1a" stroke-width="0.45"/>
<rect x="161.20" y="153.32" width="11.20" height="3.54" fill="#ffffff" stroke="#1a1a1a" stroke-width="0.45"/>
<rect x="161.20" y="143.59" width="11.20" height="9.74" fill="#c8c8c8" stroke="#1a1a1a" stroke-width="0.45"/>
<rect x="161.20" y="141.82" width="11.20" height="1.77" fill="#808080" stroke="#1a1a1a" stroke-width="0.45"/>
<rect x="161.20" y="138.81" width="11.20" height="3.01" fill="#ffff00" stroke="#1a1a1a" stroke-width="0.45"/>
<rect x="161.20" y="137.39" width="11.20" height="1.42" fill="#00ffff" stroke="#1a1a1a" stroke-width="0.45"/>
<rect x="161.20" y="131.20" width="11.20" height="6.19" fill="#333333" stroke="#1a1a1a" stroke-width="0.45"/>
<rect x="175.50" y="205.54" width="11.20" height="14.16" fill="#ff0000" stroke="#1a1a1a" stroke-width="0.45"/>
<rect x="175.50" y="202.88" width="11.20" height="2.66" fill="#000080" stroke="#1a1a1a" stroke-width="0.45"/>
<rect x="175.50" y="198.81" width="11.20" height="4.07" fill="#ff00ff" stroke="#1a1a1a" stroke-width="0.45"/>
<rect x="175.50" y="187.40" width="11.20" height="11.42" fill="#ffff00" stroke="#1a1a1a" stroke-width="0.45"/>
<rect x="175.50" y="185.19" width="11.20" height="2.21" fill="#808000" stroke="#1a1a1a" stroke-width="0.45"/>
<rect x="175.50" y="179.88" width="11.20" height="5.31" fill="#000080" stroke="#1a1a1a" stroke-width="0.45"/>
<rect x="175.50" y="177.84" width="11.20" height="2.04" fill="#800080" stroke="#1a1a1a" stroke-width="0.45"/>
<rect x="175.50" y="172.09" width="11.20" height="5.75" fill="#800000" stroke="#1a1a1a" stroke-width="0.45"/>
<rect x="175.50" y="170.14" width="11.20" height="1.95" fill="#008080" stroke="#1a1a1a" stroke-width="0.45"/>
<rect x="175.50" y="158.63" width="11.20" height="11.50" fill="#000080" stroke="#1a1a1a" stroke-width="0.45"/>
<rect x="175.50" y="149.25" width="11.20" height="9.38" fill="#ff0080" stroke="#1a1a1a" stroke-width="0.45"/>
<rect x="175.50" y="142.70" width="11.20" height="6.55" fill="#ffffff" stroke="#1a1a1a" stroke-width="0.45"/>
<rect x="175.50" y="140.05" width="11.20" height="2.66" fill="#c8c8c8" stroke="#1a1a1a" stroke-width="0.45"/>
<rect x="175.50" y="136.95" width="11.20" height="3.10" fill="#808080" stroke="#1a1a1a" stroke-width="0.45"/>
<rect x="175.50" y="135.01" width="11.20" height="1.95" fill="#ffff80" stroke="#1a1a1a" stroke-width="0.45"/>
<rect x="175.50" y="133.15" width="11.20" height="1.86" fill="#8000ff" stroke="#1a1a1a" stroke-width="0.45"/>
<rect x="175.50" y="131.20" width="11.20" height="1.95" fill="#333333" stroke="#1a1a1a" stroke-width="0.45"/>
<rect x="189.50" y="199.70" width="11.20" height="20.00" fill="#ff0000" stroke="#1a1a1a" stroke-width="0.45"/>
<rect x="189.50" y="197.84" width="11.20" height="1.86" fill="#00ffff" stroke="#1a1a1a" stroke-width="0.45"/>
<rect x="189.50" y="192.71" width="11.20" height="5.13" fill="#ff00ff" stroke="#1a1a1a" stroke-width="0.45"/>
<rect x="189.50" y="176.87" width="11.20" height="15.84" fill="#ffff00" stroke="#1a1a1a" stroke-width="0.45"/>
<rect x="189.50" y="175.01" width="11.20" height="1.86" fill="#808000" stroke="#1a1a1a" stroke-width="0.45"/>
<rect x="189.50" y="166.60" width="11.20" height="8.41" fill="#000080" stroke="#1a1a1a" stroke-width="0.45"/>
<rect x="189.50" y="163.59" width="11.20" height="3.01" fill="#800000" stroke="#1a1a1a" stroke-width="0.45"/>
<rect x="189.50" y="161.64" width="11.20" height="1.95" fill="#008080" stroke="#1a1a1a" stroke-width="0.45"/>
<rect x="189.50" y="157.75" width="11.20" height="3.89" fill="#000080" stroke="#1a1a1a" stroke-width="0.45"/>
<rect x="189.50" y="149.25" width="11.20" height="8.50" fill="#ff0080" stroke="#1a1a1a" stroke-width="0.45"/>
<rect x="189.50" y="145.09" width="11.20" height="4.16" fill="#ffffff" stroke="#1a1a1a" stroke-width="0.45"/>
<rect x="189.50" y="140.94" width="11.20" height="4.16" fill="#808080" stroke="#1a1a1a" stroke-width="0.45"/>
<rect x="189.50" y="136.95" width="11.20" height="3.98" fill="#ffff00" stroke="#1a1a1a" stroke-width="0.45"/>
<rect x="189.50" y="135.01" width="11.20" height="1.95" fill="#8000ff" stroke="#1a1a1a" stroke-width="0.45"/>
<rect x="189.50" y="131.20" width="11.20" height="3.81" fill="#333333" stroke="#1a1a1a" stroke-width="0.45"/>
<rect x="213.30" y="213.15" width="11.30" height="6.55" fill="#ff0000" stroke="#1a1a1a" stroke-width="0.45"/>
<rect x="213.30" y="211.20" width="11.30" height="1.95" fill="#000080" stroke="#1a1a1a" stroke-width="0.45"/>
<rect x="213.30" y="209.96" width="11.30" height="1.24" fill="#ff00ff" stroke="#1a1a1a" stroke-width="0.45"/>
<rect x="213.30" y="205.89" width="11.30" height="4.07" fill="#ffff00" stroke="#1a1a1a" stroke-width="0.45"/>
<rect x="213.30" y="146.60" width="11.30" height="59.29" fill="#800000" stroke="#1a1a1a" stroke-width="0.45"/>
<rect x="213.30" y="131.20" width="11.30" height="15.40" fill="#333333" stroke="#1a1a1a" stroke-width="0.45"/>
<rect x="227.20" y="209.26" width="11.30" height="10.44" fill="#ff0000" stroke="#1a1a1a" stroke-width="0.45"/>
<rect x="227.20" y="201.29" width="11.30" height="7.97" fill="#00ffff" stroke="#1a1a1a" stroke-width="0.45"/>
<rect x="227.20" y="196.42" width="11.30" height="4.87" fill="#ff00ff" stroke="#1a1a1a" stroke-width="0.45"/>
<rect x="227.20" y="191.38" width="11.30" height="5.04" fill="#ffff00" stroke="#1a1a1a" stroke-width="0.45"/>
<rect x="227.20" y="189.61" width="11.30" height="1.77" fill="#808000" stroke="#1a1a1a" stroke-width="0.45"/>
<rect x="227.20" y="183.41" width="11.30" height="6.19" fill="#000080" stroke="#1a1a1a" stroke-width="0.45"/>
<rect x="227.20" y="179.88" width="11.30" height="3.54" fill="#800000" stroke="#1a1a1a" stroke-width="0.45"/>
<rect x="227.20" y="178.64" width="11.30" height="1.24" fill="#008080" stroke="#1a1a1a" stroke-width="0.45"/>
<rect x="227.20" y="166.60" width="11.30" height="12.04" fill="#000080" stroke="#1a1a1a" stroke-width="0.45"/>
<rect x="227.20" y="164.83" width="11.30" height="1.77" fill="#ff8000" stroke="#1a1a1a" stroke-width="0.45"/>
<rect x="227.20" y="156.51" width="11.30" height="8.32" fill="#ff0080" stroke="#1a1a1a" stroke-width="0.45"/>
<rect x="227.20" y="150.67" width="11.30" height="5.84" fill="#ffffff" stroke="#1a1a1a" stroke-width="0.45"/>
<rect x="227.20" y="145.01" width="11.30" height="5.66" fill="#c8c8c8" stroke="#1a1a1a" stroke-width="0.45"/>
<rect x="227.20" y="137.39" width="11.30" height="7.61" fill="#808080" stroke="#1a1a1a" stroke-width="0.45"/>
<rect x="227.20" y="135.62" width="11.30" height="1.77" fill="#ffff00" stroke="#1a1a1a" stroke-width="0.45"/>
<rect x="227.20" y="131.20" width="11.30" height="4.43" fill="#333333" stroke="#1a1a1a" stroke-width="0.45"/>
<rect x="241.20" y="206.42" width="11.30" height="13.28" fill="#ff0000" stroke="#1a1a1a" stroke-width="0.45"/>
<rect x="241.20" y="203.33" width="11.30" height="3.10" fill="#00ffff" stroke="#1a1a1a" stroke-width="0.45"/>
<rect x="241.20" y="202.00" width="11.30" height="1.33" fill="#ff00ff" stroke="#1a1a1a" stroke-width="0.45"/>
<rect x="241.20" y="196.69" width="11.30" height="5.31" fill="#ffff00" stroke="#1a1a1a" stroke-width="0.45"/>
<rect x="241.20" y="191.03" width="11.30" height="5.66" fill="#808000" stroke="#1a1a1a" stroke-width="0.45"/>
<rect x="241.20" y="184.57" width="11.30" height="6.46" fill="#000080" stroke="#1a1a1a" stroke-width="0.45"/>
<rect x="241.20" y="178.64" width="11.30" height="5.93" fill="#800000" stroke="#1a1a1a" stroke-width="0.45"/>
<rect x="241.20" y="176.60" width="11.30" height="2.04" fill="#008080" stroke="#1a1a1a" stroke-width="0.45"/>
<rect x="241.20" y="164.39" width="11.30" height="12.21" fill="#000080" stroke="#1a1a1a" stroke-width="0.45"/>
<rect x="241.20" y="150.67" width="11.30" height="13.72" fill="#ff0080" stroke="#1a1a1a" stroke-width="0.45"/>
<rect x="241.20" y="140.05" width="11.30" height="10.62" fill="#ffffff" stroke="#1a1a1a" stroke-width="0.45"/>
<rect x="241.20" y="134.21" width="11.30" height="5.84" fill="#808080" stroke="#1a1a1a" stroke-width="0.45"/>
<rect x="241.20" y="132.53" width="11.30" height="1.68" fill="#ff00ff" stroke="#1a1a1a" stroke-width="0.45"/>
<rect x="241.20" y="131.20" width="11.30" height="1.33" fill="#333333" stroke="#1a1a1a" stroke-width="0.45"/>
<rect x="255.30" y="197.57" width="11.30" height="22.12" fill="#ff0000" stroke="#1a1a1a" stroke-width="0.45"/>
<rect x="255.30" y="196.42" width="11.30" height="1.15" fill="#ff00ff" stroke="#1a1a1a" stroke-width="0.45"/>
<rect x="255.30" y="192.26" width="11.30" height="4.16" fill="#ffff00" stroke="#1a1a1a" stroke-width="0.45"/>
<rect x="255.30" y="144.47" width="11.30" height="47.79" fill="#000080" stroke="#1a1a1a" stroke-width="0.45"/>
<rect x="255.30" y="132.97" width="11.30" height="11.51" fill="#ffffff" stroke="#1a1a1a" stroke-width="0.45"/>
<rect x="255.30" y="131.20" width="11.30" height="1.77" fill="#c8c8c8" stroke="#1a1a1a" stroke-width="0.45"/>
<rect x="269.50" y="178.99" width="11.30" height="40.71" fill="#ff0000" stroke="#1a1a1a" stroke-width="0.45"/>
<rect x="269.50" y="176.60" width="11.30" height="2.39" fill="#00ffff" stroke="#1a1a1a" stroke-width="0.45"/>
<rect x="269.50" y="162.44" width="11.30" height="14.16" fill="#ffff00" stroke="#1a1a1a" stroke-width="0.45"/>
<rect x="269.50" y="157.75" width="11.30" height="4.69" fill="#000080" stroke="#1a1a1a" stroke-width="0.45"/>
<rect x="269.50" y="155.98" width="11.30" height="1.77" fill="#800000" stroke="#1a1a1a" stroke-width="0.45"/>
<rect x="269.50" y="148.01" width="11.30" height="7.97" fill="#000080" stroke="#1a1a1a" stroke-width="0.45"/>
<rect x="269.50" y="145.80" width="11.30" height="2.21" fill="#ff0080" stroke="#1a1a1a" stroke-width="0.45"/>
<rect x="269.50" y="144.03" width="11.30" height="1.77" fill="#c8c8c8" stroke="#1a1a1a" stroke-width="0.45"/>
<rect x="269.50" y="137.13" width="11.30" height="6.90" fill="#808080" stroke="#1a1a1a" stroke-width="0.45"/>
<rect x="269.50" y="131.20" width="11.30" height="5.93" fill="#333333" stroke="#1a1a1a" stroke-width="0.45"/>
<rect x="284.00" y="211.20" width="11.30" height="8.50" fill="#ff0000" stroke="#1a1a1a" stroke-width="0.45"/>
<rect x="284.00" y="208.19" width="11.30" height="3.01" fill="#00ffff" stroke="#1a1a1a" stroke-width="0.45"/>
<rect x="284.00" y="207.31" width="11.30" height="0.88" fill="#808000" stroke="#1a1a1a" stroke-width="0.45"/>
<rect x="284.00" y="205.27" width="11.30" height="2.04" fill="#800000" stroke="#1a1a1a" stroke-width="0.45"/>
<rect x="284.00" y="174.56" width="11.30" height="30.71" fill="#000080" stroke="#1a1a1a" stroke-width="0.45"/>
<rect x="284.00" y="140.05" width="11.30" height="34.52" fill="#ffffff" stroke="#1a1a1a" stroke-width="0.45"/>
<rect x="284.00" y="134.21" width="11.30" height="5.84" fill="#c8c8c8" stroke="#1a1a1a" stroke-width="0.45"/>
<rect x="284.00" y="131.20" width="11.30" height="3.01" fill="#333333" stroke="#1a1a1a" stroke-width="0.45"/>
<rect x="298.00" y="212.18" width="11.30" height="7.52" fill="#ff0000" stroke="#1a1a1a" stroke-width="0.45"/>
<rect x="298.00" y="211.20" width="11.30" height="0.97" fill="#00ffff" stroke="#1a1a1a" stroke-width="0.45"/>
<rect x="298.00" y="209.26" width="11.30" height="1.95" fill="#ffff00" stroke="#1a1a1a" stroke-width="0.45"/>
<rect x="298.00" y="207.31" width="11.30" height="1.95" fill="#808000" stroke="#1a1a1a" stroke-width="0.45"/>
<rect x="298.00" y="185.54" width="11.30" height="21.77" fill="#000080" stroke="#1a1a1a" stroke-width="0.45"/>
<rect x="298.00" y="177.66" width="11.30" height="7.88" fill="#ff0080" stroke="#1a1a1a" stroke-width="0.45"/>
<rect x="298.00" y="161.82" width="11.30" height="15.84" fill="#ffffff" stroke="#1a1a1a" stroke-width="0.45"/>
<rect x="298.00" y="158.90" width="11.30" height="2.92" fill="#c8c8c8" stroke="#1a1a1a" stroke-width="0.45"/>
<rect x="298.00" y="134.21" width="11.30" height="24.69" fill="#808080" stroke="#1a1a1a" stroke-width="0.45"/>
<rect x="298.00" y="131.20" width="11.30" height="3.01" fill="#333333" stroke="#1a1a1a" stroke-width="0.45"/>
<rect x="312.00" y="210.23" width="11.30" height="9.47" fill="#ff0000" stroke="#1a1a1a" stroke-width="0.45"/>
<rect x="312.00" y="208.19" width="11.30" height="2.04" fill="#ff00ff" stroke="#1a1a1a" stroke-width="0.45"/>
<rect x="312.00" y="204.30" width="11.30" height="3.89" fill="#ffff00" stroke="#1a1a1a" stroke-width="0.45"/>
<rect x="312.00" y="188.46" width="11.30" height="15.84" fill="#000080" stroke="#1a1a1a" stroke-width="0.45"/>
<rect x="312.00" y="185.54" width="11.30" height="2.92" fill="#008080" stroke="#1a1a1a" stroke-width="0.45"/>
<rect x="312.00" y="156.87" width="11.30" height="28.67" fill="#000080" stroke="#1a1a1a" stroke-width="0.45"/>
<rect x="312.00" y="150.94" width="11.30" height="5.93" fill="#ff0080" stroke="#1a1a1a" stroke-width="0.45"/>
<rect x="312.00" y="149.78" width="11.30" height="1.15" fill="#c8c8c8" stroke="#1a1a1a" stroke-width="0.45"/>
<rect x="312.00" y="133.15" width="11.30" height="16.64" fill="#808080" stroke="#1a1a1a" stroke-width="0.45"/>
<rect x="312.00" y="131.20" width="11.30" height="1.95" fill="#333333" stroke="#1a1a1a" stroke-width="0.45"/>
<rect x="326.30" y="206.42" width="11.30" height="13.28" fill="#ff0000" stroke="#1a1a1a" stroke-width="0.45"/>
<rect x="326.30" y="204.30" width="11.30" height="2.12" fill="#00ffff" stroke="#1a1a1a" stroke-width="0.45"/>
<rect x="326.30" y="198.46" width="11.30" height="5.84" fill="#ffff00" stroke="#1a1a1a" stroke-width="0.45"/>
<rect x="326.30" y="190.49" width="11.30" height="7.97" fill="#000080" stroke="#1a1a1a" stroke-width="0.45"/>
<rect x="326.30" y="185.54" width="11.30" height="4.96" fill="#800000" stroke="#1a1a1a" stroke-width="0.45"/>
<rect x="326.30" y="176.60" width="11.30" height="8.94" fill="#000080" stroke="#1a1a1a" stroke-width="0.45"/>
<rect x="326.30" y="171.64" width="11.30" height="4.96" fill="#ff0080" stroke="#1a1a1a" stroke-width="0.45"/>
<rect x="326.30" y="151.91" width="11.30" height="19.74" fill="#ffffff" stroke="#1a1a1a" stroke-width="0.45"/>
<rect x="326.30" y="149.78" width="11.30" height="2.12" fill="#c8c8c8" stroke="#1a1a1a" stroke-width="0.45"/>
<rect x="326.30" y="131.20" width="11.30" height="18.58" fill="#333333" stroke="#1a1a1a" stroke-width="0.45"/>
<line x1="48.2" y1="113.5" x2="50.2" y2="113.5" stroke="#333" stroke-width="0.6"/>
<text x="47.4" y="115.4" font-size="5.8" text-anchor="end" fill="#222">0</text>
<line x1="48.2" y1="104.55" x2="50.2" y2="104.55" stroke="#333" stroke-width="0.6"/>
<text x="47.4" y="106.45" font-size="5.8" text-anchor="end" fill="#222">10</text>
<line x1="48.2" y1="95.6" x2="50.2" y2="95.6" stroke="#333" stroke-width="0.6"/>
<text x="47.4" y="97.5" font-size="5.8" text-anchor="end" fill="#222">20</text>
<line x1="48.2" y1="86.65" x2="50.2" y2="86.65" stroke="#333" stroke-width="0.6"/>
<text x="47.4" y="88.55000000000001" font-size="5.8" text-anchor="end" fill="#222">30</text>
<line x1="48.2" y1="77.69999999999999" x2="50.2" y2="77.69999999999999" stroke="#333" stroke-width="0.6"/>
<text x="47.4" y="79.6" font-size="5.8" text-anchor="end" fill="#222">40</text>
<line x1="48.2" y1="68.75" x2="50.2" y2="68.75" stroke="#333" stroke-width="0.6"/>
<text x="47.4" y="70.65" font-size="5.8" text-anchor="end" fill="#222">50</text>
<line x1="48.2" y1="59.800000000000004" x2="50.2" y2="59.800000000000004" stroke="#333" stroke-width="0.6"/>
<text x="47.4" y="61.7" font-size="5.8" text-anchor="end" fill="#222">60</text>
<line x1="48.2" y1="50.85" x2="50.2" y2="50.85" stroke="#333" stroke-width="0.6"/>
<text x="47.4" y="52.75" font-size="5.8" text-anchor="end" fill="#222">70</text>
<line x1="48.2" y1="41.89999999999999" x2="50.2" y2="41.89999999999999" stroke="#333" stroke-width="0.6"/>
<text x="47.4" y="43.79999999999999" font-size="5.8" text-anchor="end" fill="#222">80</text>
<line x1="48.2" y1="32.95" x2="50.2" y2="32.95" stroke="#333" stroke-width="0.6"/>
<text x="47.4" y="34.85" font-size="5.8" text-anchor="end" fill="#222">90</text>
<line x1="48.2" y1="24.0" x2="50.2" y2="24.0" stroke="#333" stroke-width="0.6"/>
<text x="47.4" y="25.9" font-size="5.8" text-anchor="end" fill="#222">100</text>
<line x1="48.2" y1="219.7" x2="50.2" y2="219.7" stroke="#333" stroke-width="0.6"/>
<text x="47.4" y="221.6" font-size="5.8" text-anchor="end" fill="#222">0</text>
<line x1="48.2" y1="210.85" x2="50.2" y2="210.85" stroke="#333" stroke-width="0.6"/>
<text x="47.4" y="212.75" font-size="5.8" text-anchor="end" fill="#222">10</text>
<line x1="48.2" y1="202.0" x2="50.2" y2="202.0" stroke="#333" stroke-width="0.6"/>
<text x="47.4" y="203.9" font-size="5.8" text-anchor="end" fill="#222">20</text>
<line x1="48.2" y1="193.14999999999998" x2="50.2" y2="193.14999999999998" stroke="#333" stroke-width="0.6"/>
<text x="47.4" y="195.04999999999998" font-size="5.8" text-anchor="end" fill="#222">30</text>
<line x1="48.2" y1="184.29999999999998" x2="50.2" y2="184.29999999999998" stroke="#333" stroke-width="0.6"/>
<text x="47.4" y="186.2" font-size="5.8" text-anchor="end" fill="#222">40</text>
<line x1="48.2" y1="175.45" x2="50.2" y2="175.45" stroke="#333" stroke-width="0.6"/>
<text x="47.4" y="177.35" font-size="5.8" text-anchor="end" fill="#222">50</text>
<line x1="48.2" y1="166.6" x2="50.2" y2="166.6" stroke="#333" stroke-width="0.6"/>
<text x="47.4" y="168.5" font-size="5.8" text-anchor="end" fill="#222">60</text>
<line x1="48.2" y1="157.75" x2="50.2" y2="157.75" stroke="#333" stroke-width="0.6"/>
<text x="47.4" y="159.65" font-size="5.8" text-anchor="end" fill="#222">70</text>
<line x1="48.2" y1="148.89999999999998" x2="50.2" y2="148.89999999999998" stroke="#333" stroke-width="0.6"/>
<text x="47.4" y="150.79999999999998" font-size="5.8" text-anchor="end" fill="#222">80</text>
<line x1="48.2" y1="140.04999999999998" x2="50.2" y2="140.04999999999998" stroke="#333" stroke-width="0.6"/>
<text x="47.4" y="141.95" font-size="5.8" text-anchor="end" fill="#222">90</text>
<line x1="48.2" y1="131.2" x2="50.2" y2="131.2" stroke="#333" stroke-width="0.6"/>
<text x="47.4" y="133.1" font-size="5.8" text-anchor="end" fill="#222">100</text>
<line x1="140.4" y1="17.6" x2="140.4" y2="114.8" stroke="#222" stroke-width="1.3"/>
<line x1="206.3" y1="17.6" x2="206.3" y2="114.8" stroke="#222" stroke-width="1.3"/>
<line x1="140.4" y1="126.4" x2="140.4" y2="220.5" stroke="#222" stroke-width="1.3"/>
<line x1="206.3" y1="126.4" x2="206.3" y2="220.5" stroke="#222" stroke-width="1.3"/>
<line x1="57.5" y1="114" x2="57.5" y2="116" stroke="#555" stroke-width="0.5"/>
<line x1="57.5" y1="220.2" x2="57.5" y2="222.2" stroke="#555" stroke-width="0.5"/>
<line x1="71.7" y1="114" x2="71.7" y2="116" stroke="#555" stroke-width="0.5"/>
<line x1="71.7" y1="220.2" x2="71.7" y2="222.2" stroke="#555" stroke-width="0.5"/>
<line x1="85.9" y1="114" x2="85.9" y2="116" stroke="#555" stroke-width="0.5"/>
<line x1="85.9" y1="220.2" x2="85.9" y2="222.2" stroke="#555" stroke-width="0.5"/>
<line x1="100.10000000000001" y1="114" x2="100.10000000000001" y2="116" stroke="#555" stroke-width="0.5"/>
<line x1="100.10000000000001" y1="220.2" x2="100.10000000000001" y2="222.2" stroke="#555" stroke-width="0.5"/>
<line x1="114.3" y1="114" x2="114.3" y2="116" stroke="#555" stroke-width="0.5"/>
<line x1="114.3" y1="220.2" x2="114.3" y2="222.2" stroke="#555" stroke-width="0.5"/>
<line x1="128.5" y1="114" x2="128.5" y2="116" stroke="#555" stroke-width="0.5"/>
<line x1="128.5" y1="220.2" x2="128.5" y2="222.2" stroke="#555" stroke-width="0.5"/>
<line x1="152.6" y1="114" x2="152.6" y2="116" stroke="#555" stroke-width="0.5"/>
<line x1="152.6" y1="220.2" x2="152.6" y2="222.2" stroke="#555" stroke-width="0.5"/>
<line x1="166.79999999999998" y1="114" x2="166.79999999999998" y2="116" stroke="#555" stroke-width="0.5"/>
<line x1="166.79999999999998" y1="220.2" x2="166.79999999999998" y2="222.2" stroke="#555" stroke-width="0.5"/>
<line x1="181.1" y1="114" x2="181.1" y2="116" stroke="#555" stroke-width="0.5"/>
<line x1="181.1" y1="220.2" x2="181.1" y2="222.2" stroke="#555" stroke-width="0.5"/>
<line x1="195.1" y1="114" x2="195.1" y2="116" stroke="#555" stroke-width="0.5"/>
<line x1="195.1" y1="220.2" x2="195.1" y2="222.2" stroke="#555" stroke-width="0.5"/>
<line x1="218.95000000000002" y1="114" x2="218.95000000000002" y2="116" stroke="#555" stroke-width="0.5"/>
<line x1="218.95000000000002" y1="220.2" x2="218.95000000000002" y2="222.2" stroke="#555" stroke-width="0.5"/>
<line x1="232.85" y1="114" x2="232.85" y2="116" stroke="#555" stroke-width="0.5"/>
<line x1="232.85" y1="220.2" x2="232.85" y2="222.2" stroke="#555" stroke-width="0.5"/>
<line x1="246.85" y1="114" x2="246.85" y2="116" stroke="#555" stroke-width="0.5"/>
<line x1="246.85" y1="220.2" x2="246.85" y2="222.2" stroke="#555" stroke-width="0.5"/>
<line x1="260.95" y1="114" x2="260.95" y2="116" stroke="#555" stroke-width="0.5"/>
<line x1="260.95" y1="220.2" x2="260.95" y2="222.2" stroke="#555" stroke-width="0.5"/>
<line x1="275.15" y1="114" x2="275.15" y2="116" stroke="#555" stroke-width="0.5"/>
<line x1="275.15" y1="220.2" x2="275.15" y2="222.2" stroke="#555" stroke-width="0.5"/>
<line x1="289.65" y1="114" x2="289.65" y2="116" stroke="#555" stroke-width="0.5"/>
<line x1="289.65" y1="220.2" x2="289.65" y2="222.2" stroke="#555" stroke-width="0.5"/>
<line x1="303.65" y1="114" x2="303.65" y2="116" stroke="#555" stroke-width="0.5"/>
<line x1="303.65" y1="220.2" x2="303.65" y2="222.2" stroke="#555" stroke-width="0.5"/>
<line x1="317.65" y1="114" x2="317.65" y2="116" stroke="#555" stroke-width="0.5"/>
<line x1="317.65" y1="220.2" x2="317.65" y2="222.2" stroke="#555" stroke-width="0.5"/>
<line x1="331.95" y1="114" x2="331.95" y2="116" stroke="#555" stroke-width="0.5"/>
<line x1="331.95" y1="220.2" x2="331.95" y2="222.2" stroke="#555" stroke-width="0.5"/>
<text x="0" y="0" font-size="9.2" text-anchor="middle" fill="#222" transform="translate(92 20.5) scale(1.33 1)">Control</text>
<text x="0" y="0" font-size="9.2" text-anchor="middle" fill="#222" transform="translate(92 126.6) scale(1.33 1)">Control</text>
<text x="0" y="0" font-size="9.2" text-anchor="middle" fill="#222" transform="translate(172.5 20.5) scale(1.33 1)">T2D</text>
<text x="0" y="0" font-size="9.2" text-anchor="middle" fill="#222" transform="translate(172.5 126.6) scale(1.33 1)">T2D</text>
<text x="0" y="0" font-size="9.2" text-anchor="middle" fill="#222" transform="translate(276.5 20.5) scale(1.33 1)">T1D</text>
<text x="0" y="0" font-size="9.2" text-anchor="middle" fill="#222" transform="translate(276.5 126.6) scale(1.33 1)">T1D</text>
<text x="0" y="0" font-size="6.25" text-anchor="middle" fill="#222" transform="translate(57.5 228.8) scale(1.23 1)">C1</text>
<text x="0" y="0" font-size="6.25" text-anchor="middle" fill="#222" transform="translate(71.7 228.8) scale(1.23 1)">C2</text>
<text x="0" y="0" font-size="6.25" text-anchor="middle" fill="#222" transform="translate(85.9 228.8) scale(1.23 1)">C3</text>
<text x="0" y="0" font-size="6.25" text-anchor="middle" fill="#222" transform="translate(100.10000000000001 228.8) scale(1.23 1)">C4</text>
<text x="0" y="0" font-size="6.25" text-anchor="middle" fill="#222" transform="translate(114.3 228.8) scale(1.23 1)">C5</text>
<text x="0" y="0" font-size="6.25" text-anchor="middle" fill="#222" transform="translate(128.5 228.8) scale(1.23 1)">C6</text>
<text x="0" y="0" font-size="6.25" text-anchor="middle" fill="#222" transform="translate(152.6 228.8) scale(1.23 1)">P1</text>
<text x="0" y="0" font-size="6.25" text-anchor="middle" fill="#222" transform="translate(166.79999999999998 228.8) scale(1.23 1)">P2</text>
<text x="0" y="0" font-size="6.25" text-anchor="middle" fill="#222" transform="translate(181.1 228.8) scale(1.23 1)">P3</text>
<text x="0" y="0" font-size="6.25" text-anchor="middle" fill="#222" transform="translate(195.1 228.8) scale(1.23 1)">P4</text>
<text x="0" y="0" font-size="6.25" text-anchor="middle" fill="#222" transform="translate(218.95000000000002 228.8) scale(1.23 1)">P5</text>
<text x="0" y="0" font-size="6.25" text-anchor="middle" fill="#222" transform="translate(232.85 228.8) scale(1.23 1)">P6</text>
<text x="0" y="0" font-size="6.25" text-anchor="middle" fill="#222" transform="translate(246.85 228.8) scale(1.23 1)">P7</text>
<text x="0" y="0" font-size="6.25" text-anchor="middle" fill="#222" transform="translate(260.95 228.8) scale(1.23 1)">P8</text>
<text x="0" y="0" font-size="6.25" text-anchor="middle" fill="#222" transform="translate(275.15 228.8) scale(1.23 1)">P9</text>
<text x="0" y="0" font-size="6.25" text-anchor="middle" fill="#222" transform="translate(289.65 228.8) scale(1.23 1)">P10</text>
<text x="0" y="0" font-size="6.25" text-anchor="middle" fill="#222" transform="translate(303.65 228.8) scale(1.23 1)">P11</text>
<text x="0" y="0" font-size="6.25" text-anchor="middle" fill="#222" transform="translate(317.65 228.8) scale(1.23 1)">P12</text>
<text x="0" y="0" font-size="6.25" text-anchor="middle" fill="#222" transform="translate(331.95 228.8) scale(1.23 1)">P13</text>
<text x="0.3" y="59" font-size="11.3" text-anchor="start" fill="#222">CD4</text>
<text x="22.6" y="52.6" font-size="8.5" text-anchor="start" fill="#222">+</text>
<text x="-0.5" y="189.8" font-size="11.3" text-anchor="start" fill="#222">CD8</text>
<text x="22.6" y="183.8" font-size="8.5" text-anchor="start" fill="#222">+</text>
<text x="31.8" y="121.5" font-size="9.16" text-anchor="middle" fill="#222" transform="rotate(-90 31.8 121.5)">V gene segment usage (%)</text>
<rect x="346.00" y="26.60" width="16.80" height="5.40" fill="#ff0000" stroke="#333" stroke-width="0.5"/>
<text x="365.2" y="31.5" font-size="6.4" text-anchor="start" fill="#222">TRBV2</text>
<rect x="346.00" y="34.90" width="16.80" height="5.40" fill="#00ff00" stroke="#333" stroke-width="0.5"/>
<text x="365.2" y="39.800000000000004" font-size="6.4" text-anchor="start" fill="#222">TRBV3</text>
<rect x="346.00" y="43.20" width="16.80" height="5.40" fill="#0000ff" stroke="#333" stroke-width="0.5"/>
<text x="365.2" y="48.10000000000001" font-size="6.4" text-anchor="start" fill="#222">TRBV4</text>
<rect x="346.00" y="51.50" width="16.80" height="5.40" fill="#00ffff" stroke="#333" stroke-width="0.5"/>
<text x="365.2" y="56.400000000000006" font-size="6.4" text-anchor="start" fill="#222">TRBV5</text>
<rect x="346.00" y="59.80" width="16.80" height="5.40" fill="#ff00ff" stroke="#333" stroke-width="0.5"/>
<text x="365.2" y="64.7" font-size="6.4" text-anchor="start" fill="#222">TRBV6</text>
<rect x="346.00" y="68.10" width="16.80" height="5.40" fill="#ffff00" stroke="#333" stroke-width="0.5"/>
<text x="365.2" y="73.0" font-size="6.4" text-anchor="start" fill="#222">TRBV7</text>
<rect x="346.00" y="76.40" width="16.80" height="5.40" fill="#808000" stroke="#333" stroke-width="0.5"/>
<text x="365.2" y="81.30000000000001" font-size="6.4" text-anchor="start" fill="#222">TRBV9</text>
<rect x="346.00" y="84.70" width="16.80" height="5.40" fill="#000080" stroke="#333" stroke-width="0.5"/>
<text x="365.2" y="89.60000000000001" font-size="6.4" text-anchor="start" fill="#222">TRBV10</text>
<rect x="346.00" y="93.00" width="16.80" height="5.40" fill="#800080" stroke="#333" stroke-width="0.5"/>
<text x="365.2" y="97.9" font-size="6.4" text-anchor="start" fill="#222">TRBV11</text>
<rect x="346.00" y="101.30" width="16.80" height="5.40" fill="#800000" stroke="#333" stroke-width="0.5"/>
<text x="365.2" y="106.2" font-size="6.4" text-anchor="start" fill="#222">TRBV12</text>
<rect x="346.00" y="109.60" width="16.80" height="5.40" fill="#008000" stroke="#333" stroke-width="0.5"/>
<text x="365.2" y="114.5" font-size="6.4" text-anchor="start" fill="#222">TRBV13</text>
<rect x="346.00" y="117.90" width="16.80" height="5.40" fill="#008080" stroke="#333" stroke-width="0.5"/>
<text x="365.2" y="122.80000000000001" font-size="6.4" text-anchor="start" fill="#222">TRBV14</text>
<rect x="346.00" y="126.20" width="16.80" height="5.40" fill="#0000a0" stroke="#333" stroke-width="0.5"/>
<text x="365.2" y="131.1" font-size="6.4" text-anchor="start" fill="#222">TRBV15</text>
<rect x="346.00" y="134.50" width="16.80" height="5.40" fill="#ff8000" stroke="#333" stroke-width="0.5"/>
<text x="365.2" y="139.4" font-size="6.4" text-anchor="start" fill="#222">TRBV16</text>
<rect x="346.00" y="142.80" width="16.80" height="5.40" fill="#8000ff" stroke="#333" stroke-width="0.5"/>
<text x="365.2" y="147.70000000000002" font-size="6.4" text-anchor="start" fill="#222">TRBV18</text>
<rect x="346.00" y="151.10" width="16.80" height="5.40" fill="#ff0080" stroke="#333" stroke-width="0.5"/>
<text x="365.2" y="156.0" font-size="6.4" text-anchor="start" fill="#222">TRBV19</text>
<rect x="346.00" y="159.40" width="16.80" height="5.40" fill="#ffffff" stroke="#333" stroke-width="0.5"/>
<text x="365.2" y="164.3" font-size="6.4" text-anchor="start" fill="#222">TRBV20</text>
<rect x="346.00" y="167.70" width="16.80" height="5.40" fill="#c8c8c8" stroke="#333" stroke-width="0.5"/>
<text x="365.2" y="172.60000000000002" font-size="6.4" text-anchor="start" fill="#222">TRBV24</text>
<rect x="346.00" y="176.00" width="16.80" height="5.40" fill="#808080" stroke="#333" stroke-width="0.5"/>
<text x="365.2" y="180.9" font-size="6.4" text-anchor="start" fill="#222">TRBV25</text>
<rect x="346.00" y="184.30" width="16.80" height="5.40" fill="#ffff80" stroke="#333" stroke-width="0.5"/>
<text x="365.2" y="189.20000000000002" font-size="6.4" text-anchor="start" fill="#222">TRBV27</text>
<rect x="346.00" y="192.60" width="16.80" height="5.40" fill="#80ffff" stroke="#333" stroke-width="0.5"/>
<text x="365.2" y="197.5" font-size="6.4" text-anchor="start" fill="#222">TRBV28</text>
<rect x="346.00" y="200.90" width="16.80" height="5.40" fill="#ff80ff" stroke="#333" stroke-width="0.5"/>
<text x="365.2" y="205.8" font-size="6.4" text-anchor="start" fill="#222">TRBV29</text>
<rect x="346.00" y="209.20" width="16.80" height="5.40" fill="#333333" stroke="#333" stroke-width="0.5"/>
<text x="365.2" y="214.10000000000002" font-size="6.4" text-anchor="start" fill="#222">TRBV30</text>
<text x="397.0" y="9.7" font-size="14.5" text-anchor="start" fill="#111" style="stroke-width:0.4px">B</text>
<rect x="444.00" y="92.48" width="12.50" height="17.24" fill="#ff0000"/>
<rect x="444.00" y="83.35" width="12.50" height="9.15" fill="#00ff00"/>
<rect x="444.00" y="79.82" width="12.50" height="3.55" fill="#00ffff"/>
<rect x="444.00" y="75.43" width="12.50" height="4.41" fill="#ff00ff"/>
<rect x="444.00" y="66.65" width="12.50" height="8.80" fill="#ffff00"/>
<rect x="444.00" y="62.00" width="12.50" height="4.67" fill="#808000"/>
<rect x="444.00" y="56.66" width="12.50" height="5.36" fill="#000080"/>
<rect x="444.00" y="51.67" width="12.50" height="5.01" fill="#800000"/>
<rect x="444.00" y="38.84" width="12.50" height="12.85" fill="#0000a0"/>
<rect x="444.00" y="37.89" width="12.50" height="0.97" fill="#008080"/>
<rect x="444.00" y="23.60" width="12.50" height="14.31" fill="#8000ff"/>
<rect x="458.90" y="92.91" width="9.90" height="16.81" fill="#ff0000"/>
<rect x="458.90" y="86.71" width="9.90" height="6.22" fill="#00ff00"/>
<rect x="458.90" y="85.94" width="9.90" height="0.79" fill="#0000ff"/>
<rect x="458.90" y="81.37" width="9.90" height="4.58" fill="#00ffff"/>
<rect x="458.90" y="77.41" width="9.90" height="3.98" fill="#ff00ff"/>
<rect x="458.90" y="72.50" width="9.90" height="4.93" fill="#ffff00"/>
<rect x="458.90" y="66.65" width="9.90" height="5.87" fill="#808000"/>
<rect x="458.90" y="60.62" width="9.90" height="6.05" fill="#000080"/>
<rect x="458.90" y="54.60" width="9.90" height="6.05" fill="#800000"/>
<rect x="458.90" y="40.82" width="9.90" height="13.80" fill="#0000a0"/>
<rect x="458.90" y="39.44" width="9.90" height="1.40" fill="#008080"/>
<rect x="458.90" y="23.60" width="9.90" height="15.86" fill="#8000ff"/>
<rect x="470.80" y="97.22" width="10.10" height="12.50" fill="#ff0000"/>
<rect x="470.80" y="89.29" width="10.10" height="7.94" fill="#00ff00"/>
<rect x="470.80" y="88.35" width="10.10" height="0.97" fill="#0000ff"/>
<rect x="470.80" y="85.33" width="10.10" height="3.03" fill="#00ffff"/>
<rect x="470.80" y="80.00" width="10.10" height="5.36" fill="#ff00ff"/>
<rect x="470.80" y="76.47" width="10.10" height="3.55" fill="#ffff00"/>
<rect x="470.80" y="69.49" width="10.10" height="6.99" fill="#808000"/>
<rect x="470.80" y="63.21" width="10.10" height="6.31" fill="#000080"/>
<rect x="470.80" y="57.61" width="10.10" height="5.62" fill="#800000"/>
<rect x="470.80" y="44.78" width="10.10" height="12.85" fill="#0000a0"/>
<rect x="470.80" y="39.96" width="10.10" height="4.84" fill="#008080"/>
<rect x="470.80" y="23.60" width="10.10" height="16.38" fill="#8000ff"/>
<rect x="483.30" y="93.69" width="10.30" height="16.03" fill="#ff0000"/>
<rect x="483.30" y="84.99" width="10.30" height="8.72" fill="#00ff00"/>
<rect x="483.30" y="84.39" width="10.30" height="0.62" fill="#0000ff"/>
<rect x="483.30" y="80.43" width="10.30" height="3.98" fill="#00ffff"/>
<rect x="483.30" y="76.98" width="10.30" height="3.46" fill="#ff00ff"/>
<rect x="483.30" y="71.13" width="10.30" height="5.87" fill="#ffff00"/>
<rect x="483.30" y="64.07" width="10.30" height="7.08" fill="#808000"/>
<rect x="483.30" y="58.64" width="10.30" height="5.44" fill="#000080"/>
<rect x="483.30" y="53.30" width="10.30" height="5.36" fill="#800000"/>
<rect x="483.30" y="40.82" width="10.30" height="12.50" fill="#0000a0"/>
<rect x="483.30" y="39.96" width="10.30" height="0.88" fill="#008080"/>
<rect x="483.30" y="23.60" width="10.30" height="16.38" fill="#8000ff"/>
<rect x="496.00" y="92.31" width="10.00" height="17.41" fill="#ff0000"/>
<rect x="496.00" y="81.80" width="10.00" height="10.52" fill="#00ff00"/>
<rect x="496.00" y="79.05" width="10.00" height="2.78" fill="#00ffff"/>
<rect x="496.00" y="75.09" width="10.00" height="3.98" fill="#ff00ff"/>
<rect x="496.00" y="70.52" width="10.00" height="4.58" fill="#ffff00"/>
<rect x="496.00" y="64.07" width="10.00" height="6.48" fill="#808000"/>
<rect x="496.00" y="58.64" width="10.00" height="5.44" fill="#000080"/>
<rect x="496.00" y="52.87" width="10.00" height="5.79" fill="#800000"/>
<rect x="496.00" y="40.82" width="10.00" height="12.07" fill="#0000a0"/>
<rect x="496.00" y="39.44" width="10.00" height="1.40" fill="#008080"/>
<rect x="496.00" y="23.60" width="10.00" height="15.86" fill="#8000ff"/>
<rect x="508.50" y="96.27" width="10.00" height="13.45" fill="#ff0000"/>
<rect x="508.50" y="89.29" width="10.00" height="6.99" fill="#00ff00"/>
<rect x="508.50" y="88.35" width="10.00" height="0.97" fill="#0000ff"/>
<rect x="508.50" y="84.39" width="10.00" height="3.98" fill="#00ffff"/>
<rect x="508.50" y="79.82" width="10.00" height="4.58" fill="#ff00ff"/>
<rect x="508.50" y="75.09" width="10.00" height="4.76" fill="#ffff00"/>
<rect x="508.50" y="68.54" width="10.00" height="6.56" fill="#808000"/>
<rect x="508.50" y="62.60" width="10.00" height="5.96" fill="#000080"/>
<rect x="508.50" y="56.32" width="10.00" height="6.31" fill="#800000"/>
<rect x="508.50" y="42.80" width="10.00" height="13.54" fill="#0000a0"/>
<rect x="508.50" y="40.82" width="10.00" height="2.00" fill="#008080"/>
<rect x="508.50" y="23.60" width="10.00" height="17.24" fill="#8000ff"/>
<rect x="527.30" y="96.78" width="10.30" height="12.94" fill="#ff0000"/>
<rect x="527.30" y="87.31" width="10.30" height="9.49" fill="#00ff00"/>
<rect x="527.30" y="86.71" width="10.30" height="0.62" fill="#0000ff"/>
<rect x="527.30" y="83.01" width="10.30" height="3.72" fill="#00ffff"/>
<rect x="527.30" y="79.57" width="10.30" height="3.46" fill="#ff00ff"/>
<rect x="527.30" y="75.26" width="10.30" height="4.33" fill="#ffff00"/>
<rect x="527.30" y="67.51" width="10.30" height="7.77" fill="#808000"/>
<rect x="527.30" y="62.00" width="10.30" height="5.53" fill="#000080"/>
<rect x="527.30" y="56.32" width="10.30" height="5.70" fill="#800000"/>
<rect x="527.30" y="42.80" width="10.30" height="13.54" fill="#0000a0"/>
<rect x="527.30" y="40.82" width="10.30" height="2.00" fill="#008080"/>
<rect x="527.30" y="23.60" width="10.30" height="17.24" fill="#8000ff"/>
<rect x="539.80" y="93.86" width="10.30" height="15.86" fill="#ff0000"/>
<rect x="539.80" y="85.94" width="10.30" height="7.94" fill="#00ff00"/>
<rect x="539.80" y="82.41" width="10.30" height="3.55" fill="#00ffff"/>
<rect x="539.80" y="79.57" width="10.30" height="2.86" fill="#ff00ff"/>
<rect x="539.80" y="76.47" width="10.30" height="3.12" fill="#ffff00"/>
<rect x="539.80" y="69.23" width="10.30" height="7.25" fill="#808000"/>
<rect x="539.80" y="63.55" width="10.30" height="5.70" fill="#000080"/>
<rect x="539.80" y="57.61" width="10.30" height="5.96" fill="#800000"/>
<rect x="539.80" y="43.40" width="10.30" height="14.23" fill="#0000a0"/>
<rect x="539.80" y="41.42" width="10.30" height="2.00" fill="#008080"/>
<rect x="539.80" y="23.60" width="10.30" height="17.84" fill="#8000ff"/>
<rect x="552.30" y="96.27" width="10.30" height="13.45" fill="#ff0000"/>
<rect x="552.30" y="85.76" width="10.30" height="10.52" fill="#00ff00"/>
<rect x="552.30" y="80.43" width="10.30" height="5.36" fill="#00ffff"/>
<rect x="552.30" y="76.47" width="10.30" height="3.98" fill="#ff00ff"/>
<rect x="552.30" y="71.82" width="10.30" height="4.67" fill="#ffff00"/>
<rect x="552.30" y="65.19" width="10.30" height="6.65" fill="#808000"/>
<rect x="552.30" y="60.02" width="10.30" height="5.19" fill="#000080"/>
<rect x="552.30" y="55.63" width="10.30" height="4.41" fill="#800000"/>
<rect x="552.30" y="42.80" width="10.30" height="12.85" fill="#0000a0"/>
<rect x="552.30" y="40.82" width="10.30" height="2.00" fill="#008080"/>
<rect x="552.30" y="23.60" width="10.30" height="17.24" fill="#8000ff"/>
<rect x="564.80" y="97.22" width="10.30" height="12.50" fill="#ff0000"/>
<rect x="564.80" y="87.31" width="10.30" height="9.92" fill="#00ff00"/>
<rect x="564.80" y="83.35" width="10.30" height="3.98" fill="#00ffff"/>
<rect x="564.80" y="79.57" width="10.30" height="3.81" fill="#ff00ff"/>
<rect x="564.80" y="75.09" width="10.30" height="4.50" fill="#ffff00"/>
<rect x="564.80" y="67.51" width="10.30" height="7.60" fill="#808000"/>
<rect x="564.80" y="62.00" width="10.30" height="5.53" fill="#000080"/>
<rect x="564.80" y="56.66" width="10.30" height="5.36" fill="#800000"/>
<rect x="564.80" y="43.40" width="10.30" height="13.28" fill="#0000a0"/>
<rect x="564.80" y="40.82" width="10.30" height="2.60" fill="#008080"/>
<rect x="564.80" y="23.60" width="10.30" height="17.24" fill="#8000ff"/>
<rect x="582.50" y="97.22" width="9.80" height="12.50" fill="#ff0000"/>
<rect x="582.50" y="96.27" width="9.80" height="0.97" fill="#00ff00"/>
<rect x="582.50" y="94.20" width="9.80" height="2.09" fill="#00ffff"/>
<rect x="582.50" y="93.34" width="9.80" height="0.88" fill="#0000ff"/>
<rect x="582.50" y="91.27" width="9.80" height="2.09" fill="#ff00ff"/>
<rect x="582.50" y="84.99" width="9.80" height="6.31" fill="#ffff00"/>
<rect x="582.50" y="80.43" width="9.80" height="4.58" fill="#808000"/>
<rect x="582.50" y="73.54" width="9.80" height="6.91" fill="#000080"/>
<rect x="582.50" y="65.53" width="9.80" height="8.03" fill="#800000"/>
<rect x="582.50" y="43.75" width="9.80" height="21.80" fill="#0000a0"/>
<rect x="582.50" y="42.20" width="9.80" height="1.57" fill="#008080"/>
<rect x="582.50" y="23.60" width="9.80" height="18.62" fill="#8000ff"/>
<rect x="595.00" y="108.15" width="9.80" height="1.57" fill="#ff0000"/>
<rect x="595.00" y="92.91" width="9.80" height="15.26" fill="#00ff00"/>
<rect x="595.00" y="85.76" width="9.80" height="7.17" fill="#00ffff"/>
<rect x="595.00" y="81.37" width="9.80" height="4.41" fill="#ffff00"/>
<rect x="595.00" y="69.92" width="9.80" height="11.47" fill="#808000"/>
<rect x="595.00" y="46.85" width="9.80" height="23.09" fill="#0000a0"/>
<rect x="595.00" y="30.92" width="9.80" height="15.95" fill="#008080"/>
<rect x="595.00" y="23.60" width="9.80" height="7.34" fill="#8000ff"/>
<rect x="607.40" y="107.12" width="9.80" height="2.60" fill="#ff0000"/>
<rect x="607.40" y="102.81" width="9.80" height="4.33" fill="#00ff00"/>
<rect x="607.40" y="101.61" width="9.80" height="1.23" fill="#ff00ff"/>
<rect x="607.40" y="98.85" width="9.80" height="2.78" fill="#808000"/>
<rect x="607.40" y="56.66" width="9.80" height="42.21" fill="#0000a0"/>
<rect x="607.40" y="54.60" width="9.80" height="2.09" fill="#800000"/>
<rect x="607.40" y="37.89" width="9.80" height="16.72" fill="#0000a0"/>
<rect x="607.40" y="36.52" width="9.80" height="1.40" fill="#008080"/>
<rect x="607.40" y="23.60" width="9.80" height="12.94" fill="#8000ff"/>
<rect x="619.90" y="107.12" width="9.80" height="2.60" fill="#ff0000"/>
<rect x="619.90" y="103.16" width="9.80" height="3.98" fill="#00ff00"/>
<rect x="619.90" y="97.22" width="9.80" height="5.96" fill="#00ffff"/>
<rect x="619.90" y="90.93" width="9.80" height="6.31" fill="#ffff00"/>
<rect x="619.90" y="81.37" width="9.80" height="9.58" fill="#808000"/>
<rect x="619.90" y="63.55" width="9.80" height="17.84" fill="#000080"/>
<rect x="619.90" y="57.61" width="9.80" height="5.96" fill="#800000"/>
<rect x="619.90" y="29.97" width="9.80" height="27.66" fill="#0000a0"/>
<rect x="619.90" y="27.91" width="9.80" height="2.09" fill="#008080"/>
<rect x="619.90" y="23.60" width="9.80" height="4.33" fill="#8000ff"/>
<rect x="632.30" y="89.29" width="9.80" height="20.43" fill="#ff0000"/>
<rect x="632.30" y="86.45" width="9.80" height="2.86" fill="#00ff00"/>
<rect x="632.30" y="81.29" width="9.80" height="5.19" fill="#808000"/>
<rect x="632.30" y="73.54" width="9.80" height="7.77" fill="#800000"/>
<rect x="632.30" y="68.54" width="9.80" height="5.01" fill="#000080"/>
<rect x="632.30" y="67.51" width="9.80" height="1.05" fill="#008080"/>
<rect x="632.30" y="23.60" width="9.80" height="43.93" fill="#8000ff"/>
<rect x="644.70" y="108.84" width="9.80" height="0.88" fill="#ff0000"/>
<rect x="644.70" y="103.16" width="9.80" height="5.70" fill="#00ffff"/>
<rect x="644.70" y="81.03" width="9.80" height="22.15" fill="#ff00ff"/>
<rect x="644.70" y="79.05" width="9.80" height="2.00" fill="#808000"/>
<rect x="644.70" y="69.49" width="9.80" height="9.58" fill="#000080"/>
<rect x="644.70" y="62.60" width="9.80" height="6.91" fill="#800000"/>
<rect x="644.70" y="36.86" width="9.80" height="25.76" fill="#0000a0"/>
<rect x="644.70" y="23.60" width="9.80" height="13.28" fill="#8000ff"/>
<rect x="657.00" y="102.21" width="9.80" height="7.51" fill="#ff0000"/>
<rect x="657.00" y="96.78" width="9.80" height="5.44" fill="#00ff00"/>
<rect x="657.00" y="94.89" width="9.80" height="1.91" fill="#00ffff"/>
<rect x="657.00" y="91.62" width="9.80" height="3.29" fill="#ffff00"/>
<rect x="657.00" y="76.47" width="9.80" height="15.17" fill="#808000"/>
<rect x="657.00" y="73.54" width="9.80" height="2.95" fill="#000080"/>
<rect x="657.00" y="65.53" width="9.80" height="8.03" fill="#800000"/>
<rect x="657.00" y="44.26" width="9.80" height="21.29" fill="#0000a0"/>
<rect x="657.00" y="38.24" width="9.80" height="6.05" fill="#008080"/>
<rect x="657.00" y="23.60" width="9.80" height="14.66" fill="#8000ff"/>
<rect x="669.40" y="102.81" width="9.80" height="6.91" fill="#ff0000"/>
<rect x="669.40" y="99.20" width="9.80" height="3.64" fill="#00ffff"/>
<rect x="669.40" y="90.33" width="9.80" height="8.89" fill="#ff00ff"/>
<rect x="669.40" y="62.00" width="9.80" height="28.35" fill="#ffff00"/>
<rect x="669.40" y="56.66" width="9.80" height="5.36" fill="#808000"/>
<rect x="669.40" y="51.32" width="9.80" height="5.36" fill="#000080"/>
<rect x="669.40" y="49.69" width="9.80" height="1.66" fill="#800000"/>
<rect x="669.40" y="27.91" width="9.80" height="21.80" fill="#0000a0"/>
<rect x="669.40" y="27.04" width="9.80" height="0.88" fill="#008080"/>
<rect x="669.40" y="23.60" width="9.80" height="3.46" fill="#8000ff"/>
<rect x="681.50" y="108.84" width="9.80" height="0.88" fill="#ff0000"/>
<rect x="681.50" y="74.40" width="9.80" height="34.46" fill="#00ff00"/>
<rect x="681.50" y="61.23" width="9.80" height="13.19" fill="#00ffff"/>
<rect x="681.50" y="58.64" width="9.80" height="2.60" fill="#ff00ff"/>
<rect x="681.50" y="53.30" width="9.80" height="5.36" fill="#808000"/>
<rect x="681.50" y="49.69" width="9.80" height="3.64" fill="#000080"/>
<rect x="681.50" y="46.85" width="9.80" height="2.86" fill="#800000"/>
<rect x="681.50" y="36.86" width="9.80" height="10.01" fill="#0000a0"/>
<rect x="681.50" y="35.91" width="9.80" height="0.97" fill="#008080"/>
<rect x="681.50" y="23.60" width="9.80" height="12.33" fill="#8000ff"/>
<rect x="442.80" y="200.36" width="12.50" height="21.26" fill="#ff0000"/>
<rect x="442.80" y="192.47" width="12.50" height="7.91" fill="#00ff00"/>
<rect x="442.80" y="189.09" width="12.50" height="3.40" fill="#00ffff"/>
<rect x="442.80" y="186.49" width="12.50" height="2.62" fill="#ff00ff"/>
<rect x="442.80" y="182.59" width="12.50" height="3.92" fill="#ffff00"/>
<rect x="442.80" y="176.00" width="12.50" height="6.61" fill="#808000"/>
<rect x="442.80" y="169.23" width="12.50" height="6.78" fill="#000080"/>
<rect x="442.80" y="164.03" width="12.50" height="5.22" fill="#800000"/>
<rect x="442.80" y="153.37" width="12.50" height="10.68" fill="#0000a0"/>
<rect x="442.80" y="152.24" width="12.50" height="1.15" fill="#008080"/>
<rect x="442.80" y="134.90" width="12.50" height="17.36" fill="#8000ff"/>
<rect x="457.70" y="206.34" width="9.90" height="15.28" fill="#ff0000"/>
<rect x="457.70" y="200.36" width="9.90" height="6.00" fill="#00ff00"/>
<rect x="457.70" y="193.42" width="9.90" height="6.96" fill="#00ffff"/>
<rect x="457.70" y="189.87" width="9.90" height="3.57" fill="#ff00ff"/>
<rect x="457.70" y="187.44" width="9.90" height="2.45" fill="#ffff00"/>
<rect x="457.70" y="179.98" width="9.90" height="7.48" fill="#808000"/>
<rect x="457.70" y="173.57" width="9.90" height="6.44" fill="#000080"/>
<rect x="457.70" y="167.67" width="9.90" height="5.92" fill="#800000"/>
<rect x="457.70" y="157.70" width="9.90" height="9.99" fill="#0000a0"/>
<rect x="457.70" y="155.71" width="9.90" height="2.01" fill="#008080"/>
<rect x="457.70" y="134.90" width="9.90" height="20.83" fill="#8000ff"/>
<rect x="469.60" y="210.33" width="10.10" height="11.29" fill="#ff0000"/>
<rect x="469.60" y="205.30" width="10.10" height="5.05" fill="#00ff00"/>
<rect x="469.60" y="192.47" width="10.10" height="12.85" fill="#00ffff"/>
<rect x="469.60" y="189.87" width="10.10" height="2.62" fill="#ff00ff"/>
<rect x="469.60" y="187.44" width="10.10" height="2.45" fill="#ffff00"/>
<rect x="469.60" y="180.50" width="10.10" height="6.96" fill="#808000"/>
<rect x="469.60" y="174.61" width="10.10" height="5.92" fill="#000080"/>
<rect x="469.60" y="169.23" width="10.10" height="5.40" fill="#800000"/>
<rect x="469.60" y="161.78" width="10.10" height="7.48" fill="#0000a0"/>
<rect x="469.60" y="160.91" width="10.10" height="0.89" fill="#008080"/>
<rect x="469.60" y="134.90" width="10.10" height="26.03" fill="#8000ff"/>
<rect x="482.10" y="191.86" width="10.30" height="29.76" fill="#ff0000"/>
<rect x="482.10" y="187.44" width="10.30" height="4.44" fill="#00ff00"/>
<rect x="482.10" y="185.53" width="10.30" height="1.93" fill="#00ffff"/>
<rect x="482.10" y="176.52" width="10.30" height="9.04" fill="#ff00ff"/>
<rect x="482.10" y="174.61" width="10.30" height="1.93" fill="#ffff00"/>
<rect x="482.10" y="164.64" width="10.30" height="9.99" fill="#808000"/>
<rect x="482.10" y="160.65" width="10.30" height="4.01" fill="#000080"/>
<rect x="482.10" y="156.75" width="10.30" height="3.92" fill="#800000"/>
<rect x="482.10" y="149.81" width="10.30" height="6.96" fill="#0000a0"/>
<rect x="482.10" y="148.77" width="10.30" height="1.06" fill="#008080"/>
<rect x="482.10" y="134.90" width="10.30" height="13.89" fill="#8000ff"/>
<rect x="494.80" y="202.35" width="10.00" height="19.27" fill="#ff0000"/>
<rect x="494.80" y="194.38" width="10.00" height="8.00" fill="#00ff00"/>
<rect x="494.80" y="190.39" width="10.00" height="4.01" fill="#00ffff"/>
<rect x="494.80" y="187.79" width="10.00" height="2.62" fill="#ff00ff"/>
<rect x="494.80" y="183.45" width="10.00" height="4.36" fill="#ffff00"/>
<rect x="494.80" y="176.52" width="10.00" height="6.96" fill="#808000"/>
<rect x="494.80" y="170.62" width="10.00" height="5.92" fill="#000080"/>
<rect x="494.80" y="164.64" width="10.00" height="6.00" fill="#800000"/>
<rect x="494.80" y="155.36" width="10.00" height="9.30" fill="#0000a0"/>
<rect x="494.80" y="153.97" width="10.00" height="1.41" fill="#008080"/>
<rect x="494.80" y="134.90" width="10.00" height="19.09" fill="#8000ff"/>
<rect x="507.30" y="211.72" width="10.00" height="9.90" fill="#ff0000"/>
<rect x="507.30" y="208.33" width="10.00" height="3.40" fill="#00ff00"/>
<rect x="507.30" y="206.34" width="10.00" height="2.01" fill="#00ffff"/>
<rect x="507.30" y="204.95" width="10.00" height="1.41" fill="#ff00ff"/>
<rect x="507.30" y="203.39" width="10.00" height="1.58" fill="#00ffff"/>
<rect x="507.30" y="201.40" width="10.00" height="2.01" fill="#ffff00"/>
<rect x="507.30" y="196.46" width="10.00" height="4.96" fill="#808000"/>
<rect x="507.30" y="188.48" width="10.00" height="8.00" fill="#000080"/>
<rect x="507.30" y="160.65" width="10.00" height="27.85" fill="#800000"/>
<rect x="507.30" y="152.76" width="10.00" height="7.91" fill="#0000a0"/>
<rect x="507.30" y="150.77" width="10.00" height="2.01" fill="#008080"/>
<rect x="507.30" y="134.90" width="10.00" height="15.89" fill="#8000ff"/>
<rect x="526.10" y="209.29" width="10.30" height="12.33" fill="#ff0000"/>
<rect x="526.10" y="201.75" width="10.30" height="7.56" fill="#00ff00"/>
<rect x="526.10" y="199.40" width="10.30" height="2.36" fill="#00ffff"/>
<rect x="526.10" y="196.98" width="10.30" height="2.45" fill="#ff00ff"/>
<rect x="526.10" y="192.47" width="10.30" height="4.53" fill="#ffff00"/>
<rect x="526.10" y="180.50" width="10.30" height="11.98" fill="#808000"/>
<rect x="526.10" y="176.00" width="10.30" height="4.53" fill="#000080"/>
<rect x="526.10" y="172.01" width="10.30" height="4.01" fill="#800000"/>
<rect x="526.10" y="156.75" width="10.30" height="15.28" fill="#0000a0"/>
<rect x="526.10" y="155.36" width="10.30" height="1.41" fill="#008080"/>
<rect x="526.10" y="134.90" width="10.30" height="20.48" fill="#8000ff"/>
<rect x="538.60" y="205.73" width="10.30" height="15.89" fill="#ff0000"/>
<rect x="538.60" y="200.97" width="10.30" height="4.79" fill="#00ff00"/>
<rect x="538.60" y="198.36" width="10.30" height="2.62" fill="#00ffff"/>
<rect x="538.60" y="196.98" width="10.30" height="1.41" fill="#ff00ff"/>
<rect x="538.60" y="194.38" width="10.30" height="2.62" fill="#ffff00"/>
<rect x="538.60" y="187.44" width="10.30" height="6.96" fill="#808000"/>
<rect x="538.60" y="181.54" width="10.30" height="5.92" fill="#000080"/>
<rect x="538.60" y="176.52" width="10.30" height="5.05" fill="#800000"/>
<rect x="538.60" y="167.67" width="10.30" height="8.86" fill="#0000a0"/>
<rect x="538.60" y="134.90" width="10.30" height="32.79" fill="#8000ff"/>
<rect x="551.10" y="206.34" width="10.30" height="15.28" fill="#ff0000"/>
<rect x="551.10" y="198.36" width="10.30" height="8.00" fill="#00ff00"/>
<rect x="551.10" y="196.46" width="10.30" height="1.93" fill="#00ffff"/>
<rect x="551.10" y="193.86" width="10.30" height="2.62" fill="#ff00ff"/>
<rect x="551.10" y="191.86" width="10.30" height="2.01" fill="#ffff00"/>
<rect x="551.10" y="183.11" width="10.30" height="8.78" fill="#808000"/>
<rect x="551.10" y="178.51" width="10.30" height="4.62" fill="#000080"/>
<rect x="551.10" y="172.61" width="10.30" height="5.92" fill="#800000"/>
<rect x="551.10" y="156.75" width="10.30" height="15.89" fill="#0000a0"/>
<rect x="551.10" y="155.36" width="10.30" height="1.41" fill="#008080"/>
<rect x="551.10" y="134.90" width="10.30" height="20.48" fill="#8000ff"/>
<rect x="563.60" y="209.29" width="10.30" height="12.33" fill="#ff0000"/>
<rect x="563.60" y="203.74" width="10.30" height="5.57" fill="#00ff00"/>
<rect x="563.60" y="200.36" width="10.30" height="3.40" fill="#00ffff"/>
<rect x="563.60" y="199.06" width="10.30" height="1.32" fill="#ff00ff"/>
<rect x="563.60" y="196.46" width="10.30" height="2.62" fill="#ffff00"/>
<rect x="563.60" y="189.52" width="10.30" height="6.96" fill="#808000"/>
<rect x="563.60" y="173.91" width="10.30" height="15.63" fill="#000080"/>
<rect x="563.60" y="167.67" width="10.30" height="6.26" fill="#800000"/>
<rect x="563.60" y="158.74" width="10.30" height="8.95" fill="#0000a0"/>
<rect x="563.60" y="134.90" width="10.30" height="23.86" fill="#8000ff"/>
<rect x="581.30" y="218.65" width="9.80" height="2.97" fill="#000080"/>
<rect x="581.30" y="210.68" width="9.80" height="8.00" fill="#800000"/>
<rect x="581.30" y="194.12" width="9.80" height="16.58" fill="#0000a0"/>
<rect x="581.30" y="134.90" width="9.80" height="59.24" fill="#8000ff"/>
<rect x="593.80" y="211.63" width="9.80" height="9.99" fill="#ff0000"/>
<rect x="593.80" y="205.99" width="9.80" height="5.66" fill="#00ff00"/>
<rect x="593.80" y="203.65" width="9.80" height="2.36" fill="#00ffff"/>
<rect x="593.80" y="202.70" width="9.80" height="0.97" fill="#ff00ff"/>
<rect x="593.80" y="201.31" width="9.80" height="1.41" fill="#ffff00"/>
<rect x="593.80" y="184.75" width="9.80" height="16.58" fill="#808000"/>
<rect x="593.80" y="175.39" width="9.80" height="9.38" fill="#000080"/>
<rect x="593.80" y="167.85" width="9.80" height="7.56" fill="#800000"/>
<rect x="593.80" y="165.42" width="9.80" height="2.45" fill="#008080"/>
<rect x="593.80" y="138.89" width="9.80" height="26.55" fill="#0000a0"/>
<rect x="593.80" y="137.50" width="9.80" height="1.41" fill="#008080"/>
<rect x="593.80" y="134.90" width="9.80" height="2.62" fill="#8000ff"/>
<rect x="606.20" y="211.63" width="9.80" height="9.99" fill="#ff0000"/>
<rect x="606.20" y="207.21" width="9.80" height="4.44" fill="#00ff00"/>
<rect x="606.20" y="205.99" width="9.80" height="1.23" fill="#00ffff"/>
<rect x="606.20" y="200.79" width="9.80" height="5.22" fill="#ff00ff"/>
<rect x="606.20" y="196.72" width="9.80" height="4.09" fill="#ffff00"/>
<rect x="606.20" y="192.12" width="9.80" height="4.62" fill="#808000"/>
<rect x="606.20" y="184.75" width="9.80" height="7.39" fill="#000080"/>
<rect x="606.20" y="179.72" width="9.80" height="5.05" fill="#800000"/>
<rect x="606.20" y="152.85" width="9.80" height="26.90" fill="#0000a0"/>
<rect x="606.20" y="146.86" width="9.80" height="6.00" fill="#008080"/>
<rect x="606.20" y="134.90" width="9.80" height="11.98" fill="#8000ff"/>
<rect x="618.70" y="220.21" width="9.80" height="1.41" fill="#00ff00"/>
<rect x="618.70" y="181.37" width="9.80" height="38.86" fill="#00ffff"/>
<rect x="618.70" y="179.98" width="9.80" height="1.41" fill="#ff00ff"/>
<rect x="618.70" y="178.77" width="9.80" height="1.23" fill="#808000"/>
<rect x="618.70" y="156.84" width="9.80" height="21.96" fill="#0000a0"/>
<rect x="618.70" y="147.91" width="9.80" height="8.95" fill="#800000"/>
<rect x="618.70" y="143.83" width="9.80" height="4.09" fill="#0000a0"/>
<rect x="618.70" y="142.27" width="9.80" height="1.58" fill="#008080"/>
<rect x="618.70" y="134.90" width="9.80" height="7.39" fill="#8000ff"/>
<rect x="631.10" y="212.06" width="9.80" height="9.56" fill="#ff0000"/>
<rect x="631.10" y="205.21" width="9.80" height="6.87" fill="#00ff00"/>
<rect x="631.10" y="203.65" width="9.80" height="1.58" fill="#ff00ff"/>
<rect x="631.10" y="183.45" width="9.80" height="20.22" fill="#ffff00"/>
<rect x="631.10" y="172.18" width="9.80" height="11.29" fill="#808000"/>
<rect x="631.10" y="161.43" width="9.80" height="10.77" fill="#000080"/>
<rect x="631.10" y="156.84" width="9.80" height="4.62" fill="#800000"/>
<rect x="631.10" y="142.27" width="9.80" height="14.59" fill="#0000a0"/>
<rect x="631.10" y="139.84" width="9.80" height="2.45" fill="#008080"/>
<rect x="631.10" y="134.90" width="9.80" height="4.96" fill="#8000ff"/>
<rect x="643.50" y="220.73" width="9.80" height="0.89" fill="#ff0000"/>
<rect x="643.50" y="218.65" width="9.80" height="2.10" fill="#00ffff"/>
<rect x="643.50" y="213.19" width="9.80" height="5.48" fill="#808000"/>
<rect x="643.50" y="172.18" width="9.80" height="41.03" fill="#0000a0"/>
<rect x="643.50" y="171.66" width="9.80" height="0.54" fill="#000080"/>
<rect x="643.50" y="134.90" width="9.80" height="36.78" fill="#0000a0"/>
<rect x="655.80" y="209.64" width="9.80" height="11.98" fill="#ff0000"/>
<rect x="655.80" y="205.99" width="9.80" height="3.66" fill="#00ff00"/>
<rect x="655.80" y="201.31" width="9.80" height="4.70" fill="#ff00ff"/>
<rect x="655.80" y="197.67" width="9.80" height="3.66" fill="#ffff00"/>
<rect x="655.80" y="192.12" width="9.80" height="5.57" fill="#808000"/>
<rect x="655.80" y="175.39" width="9.80" height="16.75" fill="#000080"/>
<rect x="655.80" y="171.31" width="9.80" height="4.09" fill="#800000"/>
<rect x="655.80" y="148.77" width="9.80" height="22.56" fill="#0000a0"/>
<rect x="655.80" y="146.86" width="9.80" height="1.93" fill="#008080"/>
<rect x="655.80" y="134.90" width="9.80" height="11.98" fill="#8000ff"/>
<rect x="668.20" y="218.65" width="9.80" height="2.97" fill="#ff0000"/>
<rect x="668.20" y="214.66" width="9.80" height="4.01" fill="#00ff00"/>
<rect x="668.20" y="213.19" width="9.80" height="1.49" fill="#008080"/>
<rect x="668.20" y="193.34" width="9.80" height="19.87" fill="#808000"/>
<rect x="668.20" y="190.73" width="9.80" height="2.62" fill="#000080"/>
<rect x="668.20" y="184.75" width="9.80" height="6.00" fill="#800000"/>
<rect x="668.20" y="149.47" width="9.80" height="35.31" fill="#0000a0"/>
<rect x="668.20" y="143.57" width="9.80" height="5.92" fill="#008080"/>
<rect x="668.20" y="134.90" width="9.80" height="8.69" fill="#8000ff"/>
<rect x="680.30" y="210.68" width="9.80" height="10.94" fill="#ff0000"/>
<rect x="680.30" y="209.20" width="9.80" height="1.49" fill="#00ff00"/>
<rect x="680.30" y="207.21" width="9.80" height="2.01" fill="#00ffff"/>
<rect x="680.30" y="205.65" width="9.80" height="1.58" fill="#ff00ff"/>
<rect x="680.30" y="203.39" width="9.80" height="2.27" fill="#ffff00"/>
<rect x="680.30" y="193.34" width="9.80" height="10.08" fill="#808000"/>
<rect x="680.30" y="186.75" width="9.80" height="6.61" fill="#000080"/>
<rect x="680.30" y="178.77" width="9.80" height="8.00" fill="#800000"/>
<rect x="680.30" y="156.84" width="9.80" height="21.96" fill="#0000a0"/>
<rect x="680.30" y="155.36" width="9.80" height="1.49" fill="#008080"/>
<rect x="680.30" y="134.90" width="9.80" height="20.48" fill="#8000ff"/>
<line x1="444.5" y1="18.6" x2="444.5" y2="110.2" stroke="#333" stroke-width="0.8"/>
<line x1="442.5" y1="109.7" x2="444.5" y2="109.7" stroke="#333" stroke-width="0.6"/>
<text x="440.5" y="111.60000000000001" font-size="5.5" text-anchor="end" fill="#222">0</text>
<line x1="442.5" y1="101.09" x2="444.5" y2="101.09" stroke="#333" stroke-width="0.6"/>
<text x="440.5" y="102.99000000000001" font-size="5.5" text-anchor="end" fill="#222">10</text>
<line x1="442.5" y1="92.48" x2="444.5" y2="92.48" stroke="#333" stroke-width="0.6"/>
<text x="440.5" y="94.38000000000001" font-size="5.5" text-anchor="end" fill="#222">20</text>
<line x1="442.5" y1="83.87" x2="444.5" y2="83.87" stroke="#333" stroke-width="0.6"/>
<text x="440.5" y="85.77000000000001" font-size="5.5" text-anchor="end" fill="#222">30</text>
<line x1="442.5" y1="75.26" x2="444.5" y2="75.26" stroke="#333" stroke-width="0.6"/>
<text x="440.5" y="77.16000000000001" font-size="5.5" text-anchor="end" fill="#222">40</text>
<line x1="442.5" y1="66.65" x2="444.5" y2="66.65" stroke="#333" stroke-width="0.6"/>
<text x="440.5" y="68.55000000000001" font-size="5.5" text-anchor="end" fill="#222">50</text>
<line x1="442.5" y1="58.040000000000006" x2="444.5" y2="58.040000000000006" stroke="#333" stroke-width="0.6"/>
<text x="440.5" y="59.940000000000005" font-size="5.5" text-anchor="end" fill="#222">60</text>
<line x1="442.5" y1="49.430000000000014" x2="444.5" y2="49.430000000000014" stroke="#333" stroke-width="0.6"/>
<text x="440.5" y="51.33000000000001" font-size="5.5" text-anchor="end" fill="#222">70</text>
<line x1="442.5" y1="40.82000000000001" x2="444.5" y2="40.82000000000001" stroke="#333" stroke-width="0.6"/>
<text x="440.5" y="42.720000000000006" font-size="5.5" text-anchor="end" fill="#222">80</text>
<line x1="442.5" y1="32.21000000000001" x2="444.5" y2="32.21000000000001" stroke="#333" stroke-width="0.6"/>
<text x="440.5" y="34.11000000000001" font-size="5.5" text-anchor="end" fill="#222">90</text>
<line x1="442.5" y1="23.60000000000001" x2="444.5" y2="23.60000000000001" stroke="#333" stroke-width="0.6"/>
<text x="440.5" y="25.500000000000007" font-size="5.5" text-anchor="end" fill="#222">100</text>
<line x1="442.5" y1="221.6" x2="444.5" y2="221.6" stroke="#333" stroke-width="0.6"/>
<text x="440.0" y="223.5" font-size="5.5" text-anchor="end" fill="#222">0</text>
<line x1="442.5" y1="212.93" x2="444.5" y2="212.93" stroke="#333" stroke-width="0.6"/>
<text x="440.0" y="214.83" font-size="5.5" text-anchor="end" fill="#222">10</text>
<line x1="442.5" y1="204.26" x2="444.5" y2="204.26" stroke="#333" stroke-width="0.6"/>
<text x="440.0" y="206.16" font-size="5.5" text-anchor="end" fill="#222">20</text>
<line x1="442.5" y1="195.59" x2="444.5" y2="195.59" stroke="#333" stroke-width="0.6"/>
<text x="440.0" y="197.49" font-size="5.5" text-anchor="end" fill="#222">30</text>
<line x1="442.5" y1="186.92" x2="444.5" y2="186.92" stroke="#333" stroke-width="0.6"/>
<text x="440.0" y="188.82" font-size="5.5" text-anchor="end" fill="#222">40</text>
<line x1="442.5" y1="178.25" x2="444.5" y2="178.25" stroke="#333" stroke-width="0.6"/>
<text x="440.0" y="180.15" font-size="5.5" text-anchor="end" fill="#222">50</text>
<line x1="442.5" y1="169.58" x2="444.5" y2="169.58" stroke="#333" stroke-width="0.6"/>
<text x="440.0" y="171.48000000000002" font-size="5.5" text-anchor="end" fill="#222">60</text>
<line x1="442.5" y1="160.91" x2="444.5" y2="160.91" stroke="#333" stroke-width="0.6"/>
<text x="440.0" y="162.81" font-size="5.5" text-anchor="end" fill="#222">70</text>
<line x1="442.5" y1="152.24" x2="444.5" y2="152.24" stroke="#333" stroke-width="0.6"/>
<text x="440.0" y="154.14000000000001" font-size="5.5" text-anchor="end" fill="#222">80</text>
<line x1="442.5" y1="143.57" x2="444.5" y2="143.57" stroke="#333" stroke-width="0.6"/>
<text x="440.0" y="145.47" font-size="5.5" text-anchor="end" fill="#222">90</text>
<line x1="442.5" y1="134.9" x2="444.5" y2="134.9" stroke="#333" stroke-width="0.6"/>
<text x="440.0" y="136.8" font-size="5.5" text-anchor="end" fill="#222">100</text>
<line x1="522.9" y1="14" x2="522.9" y2="110.5" stroke="#222" stroke-width="1.3"/>
<line x1="579.1" y1="14" x2="579.1" y2="110.5" stroke="#222" stroke-width="1.3"/>
<line x1="522.2" y1="126" x2="522.2" y2="224" stroke="#222" stroke-width="1.3"/>
<line x1="578.2" y1="126" x2="578.2" y2="224" stroke="#222" stroke-width="1.3"/>
<line x1="450.25" y1="110" x2="450.25" y2="112" stroke="#555" stroke-width="0.5"/>
<line x1="449.05" y1="222" x2="449.05" y2="224" stroke="#555" stroke-width="0.5"/>
<line x1="463.84999999999997" y1="110" x2="463.84999999999997" y2="112" stroke="#555" stroke-width="0.5"/>
<line x1="462.65" y1="222" x2="462.65" y2="224" stroke="#555" stroke-width="0.5"/>
<line x1="475.85" y1="110" x2="475.85" y2="112" stroke="#555" stroke-width="0.5"/>
<line x1="474.65000000000003" y1="222" x2="474.65000000000003" y2="224" stroke="#555" stroke-width="0.5"/>
<line x1="488.45" y1="110" x2="488.45" y2="112" stroke="#555" stroke-width="0.5"/>
<line x1="487.25" y1="222" x2="487.25" y2="224" stroke="#555" stroke-width="0.5"/>
<line x1="501.0" y1="110" x2="501.0" y2="112" stroke="#555" stroke-width="0.5"/>
<line x1="499.8" y1="222" x2="499.8" y2="224" stroke="#555" stroke-width="0.5"/>
<line x1="513.5" y1="110" x2="513.5" y2="112" stroke="#555" stroke-width="0.5"/>
<line x1="512.3" y1="222" x2="512.3" y2="224" stroke="#555" stroke-width="0.5"/>
<line x1="532.4499999999999" y1="110" x2="532.4499999999999" y2="112" stroke="#555" stroke-width="0.5"/>
<line x1="531.2499999999999" y1="222" x2="531.2499999999999" y2="224" stroke="#555" stroke-width="0.5"/>
<line x1="544.9499999999999" y1="110" x2="544.9499999999999" y2="112" stroke="#555" stroke-width="0.5"/>
<line x1="543.7499999999999" y1="222" x2="543.7499999999999" y2="224" stroke="#555" stroke-width="0.5"/>
<line x1="557.4499999999999" y1="110" x2="557.4499999999999" y2="112" stroke="#555" stroke-width="0.5"/>
<line x1="556.2499999999999" y1="222" x2="556.2499999999999" y2="224" stroke="#555" stroke-width="0.5"/>
<line x1="569.9499999999999" y1="110" x2="569.9499999999999" y2="112" stroke="#555" stroke-width="0.5"/>
<line x1="568.7499999999999" y1="222" x2="568.7499999999999" y2="224" stroke="#555" stroke-width="0.5"/>
<line x1="587.4" y1="110" x2="587.4" y2="112" stroke="#555" stroke-width="0.5"/>
<line x1="586.1999999999999" y1="222" x2="586.1999999999999" y2="224" stroke="#555" stroke-width="0.5"/>
<line x1="599.9" y1="110" x2="599.9" y2="112" stroke="#555" stroke-width="0.5"/>
<line x1="598.6999999999999" y1="222" x2="598.6999999999999" y2="224" stroke="#555" stroke-width="0.5"/>
<line x1="612.3" y1="110" x2="612.3" y2="112" stroke="#555" stroke-width="0.5"/>
<line x1="611.0999999999999" y1="222" x2="611.0999999999999" y2="224" stroke="#555" stroke-width="0.5"/>
<line x1="624.8" y1="110" x2="624.8" y2="112" stroke="#555" stroke-width="0.5"/>
<line x1="623.5999999999999" y1="222" x2="623.5999999999999" y2="224" stroke="#555" stroke-width="0.5"/>
<line x1="637.1999999999999" y1="110" x2="637.1999999999999" y2="112" stroke="#555" stroke-width="0.5"/>
<line x1="635.9999999999999" y1="222" x2="635.9999999999999" y2="224" stroke="#555" stroke-width="0.5"/>
<line x1="649.6" y1="110" x2="649.6" y2="112" stroke="#555" stroke-width="0.5"/>
<line x1="648.4" y1="222" x2="648.4" y2="224" stroke="#555" stroke-width="0.5"/>
<line x1="661.9" y1="110" x2="661.9" y2="112" stroke="#555" stroke-width="0.5"/>
<line x1="660.6999999999999" y1="222" x2="660.6999999999999" y2="224" stroke="#555" stroke-width="0.5"/>
<line x1="674.3" y1="110" x2="674.3" y2="112" stroke="#555" stroke-width="0.5"/>
<line x1="673.0999999999999" y1="222" x2="673.0999999999999" y2="224" stroke="#555" stroke-width="0.5"/>
<line x1="686.4" y1="110" x2="686.4" y2="112" stroke="#555" stroke-width="0.5"/>
<line x1="685.1999999999999" y1="222" x2="685.1999999999999" y2="224" stroke="#555" stroke-width="0.5"/>
<text x="482" y="18.9" font-size="10.2" text-anchor="middle" fill="#222">Control</text>
<text x="482" y="131" font-size="10.2" text-anchor="middle" fill="#222">Control</text>
<text x="550.3" y="18.9" font-size="10.2" text-anchor="middle" fill="#222">T2D</text>
<text x="550.3" y="131" font-size="10.2" text-anchor="middle" fill="#222">T2D</text>
<text x="634.5" y="18.9" font-size="10.2" text-anchor="middle" fill="#222">T1D</text>
<text x="634.5" y="131" font-size="10.2" text-anchor="middle" fill="#222">T1D</text>
<text x="449.05" y="233.2" font-size="7.3" text-anchor="middle" fill="#222">C1</text>
<text x="462.65" y="233.2" font-size="7.3" text-anchor="middle" fill="#222">C2</text>
<text x="474.65000000000003" y="233.2" font-size="7.3" text-anchor="middle" fill="#222">C3</text>
<text x="487.25" y="233.2" font-size="7.3" text-anchor="middle" fill="#222">C4</text>
<text x="499.8" y="233.2" font-size="7.3" text-anchor="middle" fill="#222">C5</text>
<text x="512.3" y="233.2" font-size="7.3" text-anchor="middle" fill="#222">C6</text>
<text x="531.2499999999999" y="233.2" font-size="7.3" text-anchor="middle" fill="#222">P1</text>
<text x="543.7499999999999" y="233.2" font-size="7.3" text-anchor="middle" fill="#222">P2</text>
<text x="556.2499999999999" y="233.2" font-size="7.3" text-anchor="middle" fill="#222">P3</text>
<text x="568.7499999999999" y="233.2" font-size="7.3" text-anchor="middle" fill="#222">P4</text>
<text x="586.1999999999999" y="233.2" font-size="7.3" text-anchor="middle" fill="#222">P5</text>
<text x="598.6999999999999" y="233.2" font-size="7.3" text-anchor="middle" fill="#222">P6</text>
<text x="611.0999999999999" y="233.2" font-size="7.3" text-anchor="middle" fill="#222">P7</text>
<text x="623.5999999999999" y="233.2" font-size="7.3" text-anchor="middle" fill="#222">P8</text>
<text x="635.9999999999999" y="233.2" font-size="7.3" text-anchor="middle" fill="#222">P9</text>
<text x="648.4" y="233.2" font-size="7.3" text-anchor="middle" fill="#222">P10</text>
<text x="660.6999999999999" y="233.2" font-size="7.3" text-anchor="middle" fill="#222">P11</text>
<text x="673.0999999999999" y="233.2" font-size="7.3" text-anchor="middle" fill="#222">P12</text>
<text x="685.1999999999999" y="233.2" font-size="7.3" text-anchor="middle" fill="#222">P13</text>
<text x="392.8" y="62.7" font-size="11.3" text-anchor="start" fill="#222">CD4</text>
<text x="414.6" y="56" font-size="8.5" text-anchor="start" fill="#222">+</text>
<text x="394.2" y="187.2" font-size="11.3" text-anchor="start" fill="#222">CD8</text>
<text x="416.8" y="181.5" font-size="8.5" text-anchor="start" fill="#222">+</text>
<text x="424.2" y="115.7" font-size="8.7" text-anchor="middle" fill="#222" transform="rotate(-90 424.2 115.7)">J gene segment usage (%)</text>
<rect x="708.10" y="37.70" width="19.80" height="7.00" fill="#ff0000" stroke="#333" stroke-width="0.5"/>
<text x="730.0" y="44.2" font-size="7.6" text-anchor="start" fill="#222">TRBJ1-1</text>
<rect x="708.10" y="47.20" width="19.80" height="7.00" fill="#00ff00" stroke="#333" stroke-width="0.5"/>
<text x="730.0" y="53.7" font-size="7.6" text-anchor="start" fill="#222">TRBJ1-2</text>
<rect x="708.10" y="56.70" width="19.80" height="7.00" fill="#0000ff" stroke="#333" stroke-width="0.5"/>
<text x="730.0" y="63.2" font-size="7.6" text-anchor="start" fill="#222">TRBJ1-3</text>
<rect x="708.10" y="66.20" width="19.80" height="7.00" fill="#00ffff" stroke="#333" stroke-width="0.5"/>
<text x="730.0" y="72.7" font-size="7.6" text-anchor="start" fill="#222">TRBJ1-4</text>
<rect x="708.10" y="75.70" width="19.80" height="7.00" fill="#ff00ff" stroke="#333" stroke-width="0.5"/>
<text x="730.0" y="82.2" font-size="7.6" text-anchor="start" fill="#222">TRBJ1-5</text>
<rect x="708.10" y="85.20" width="19.80" height="7.00" fill="#ffff00" stroke="#333" stroke-width="0.5"/>
<text x="730.0" y="91.7" font-size="7.6" text-anchor="start" fill="#222">TRBJ1-6</text>
<rect x="708.10" y="94.70" width="19.80" height="7.00" fill="#808000" stroke="#333" stroke-width="0.5"/>
<text x="730.0" y="101.2" font-size="7.6" text-anchor="start" fill="#222">TRBJ2-1</text>
<rect x="708.10" y="104.20" width="19.80" height="7.00" fill="#000080" stroke="#333" stroke-width="0.5"/>
<text x="730.0" y="110.7" font-size="7.6" text-anchor="start" fill="#222">TRBJ2-2</text>
<rect x="708.10" y="113.70" width="19.80" height="7.00" fill="#800080" stroke="#333" stroke-width="0.5"/>
<text x="730.0" y="120.2" font-size="7.6" text-anchor="start" fill="#222">TRBJ2-2P</text>
<rect x="708.10" y="123.20" width="19.80" height="7.00" fill="#800000" stroke="#333" stroke-width="0.5"/>
<text x="730.0" y="129.7" font-size="7.6" text-anchor="start" fill="#222">TRBJ2-3</text>
<rect x="708.10" y="132.70" width="19.80" height="7.00" fill="#008000" stroke="#333" stroke-width="0.5"/>
<text x="730.0" y="139.2" font-size="7.6" text-anchor="start" fill="#222">TRBJ2-4</text>
<rect x="708.10" y="142.20" width="19.80" height="7.00" fill="#0000a0" stroke="#333" stroke-width="0.5"/>
<text x="730.0" y="148.7" font-size="7.6" text-anchor="start" fill="#222">TRBJ2-5</text>
<rect x="708.10" y="151.70" width="19.80" height="7.00" fill="#008080" stroke="#333" stroke-width="0.5"/>
<text x="730.0" y="158.2" font-size="7.6" text-anchor="start" fill="#222">TRBJ2-6</text>
<rect x="708.10" y="161.20" width="19.80" height="7.00" fill="#8000ff" stroke="#333" stroke-width="0.5"/>
<text x="730.0" y="167.7" font-size="7.6" text-anchor="start" fill="#222">TRBJ2-7</text>
<text x="6.3" y="250.6" font-size="14.5" text-anchor="start" fill="#111" style="stroke-width:0.4px">C</text>
<rect x="64.30" y="266.10" width="7.35" height="7.31" fill="#ea7c32"/>
<rect x="71.60" y="266.10" width="7.35" height="7.31" fill="#dc8e3a"/>
<rect x="78.90" y="266.10" width="7.35" height="7.31" fill="#dc8e3a"/>
<rect x="86.20" y="266.10" width="7.35" height="7.31" fill="#cc9e44"/>
<rect x="93.50" y="266.10" width="7.35" height="7.31" fill="#dc8e3a"/>
<rect x="100.80" y="266.10" width="7.35" height="7.31" fill="#dc8e3a"/>
<rect x="108.10" y="266.10" width="7.35" height="7.31" fill="#cc9e44"/>
<rect x="115.40" y="266.10" width="7.35" height="7.31" fill="#dc8e3a"/>
<rect x="122.70" y="266.10" width="7.35" height="7.31" fill="#dc8e3a"/>
<rect x="130.00" y="266.10" width="7.35" height="7.31" fill="#dc8e3a"/>
<rect x="137.30" y="266.10" width="7.35" height="7.31" fill="#d4963f"/>
<rect x="144.60" y="266.10" width="7.35" height="7.31" fill="#c4a94b"/>
<rect x="151.90" y="266.10" width="7.35" height="7.31" fill="#98da7c"/>
<rect x="159.20" y="266.10" width="7.35" height="7.31" fill="#9ad87a"/>
<rect x="166.50" y="266.10" width="7.35" height="7.31" fill="#9cd678"/>
<rect x="173.80" y="266.10" width="7.35" height="7.31" fill="#bcb452"/>
<rect x="181.10" y="266.10" width="7.35" height="7.31" fill="#aac864"/>
<rect x="188.40" y="266.10" width="7.35" height="7.31" fill="#aac864"/>
<rect x="195.70" y="266.10" width="7.35" height="7.31" fill="#aac864"/>
<rect x="64.30" y="273.36" width="7.35" height="7.31" fill="#dc8e3a"/>
<rect x="71.60" y="273.36" width="7.35" height="7.31" fill="#e68236"/>
<rect x="78.90" y="273.36" width="7.35" height="7.31" fill="#e18838"/>
<rect x="86.20" y="273.36" width="7.35" height="7.31" fill="#cc9e44"/>
<rect x="93.50" y="273.36" width="7.35" height="7.31" fill="#dc8e3a"/>
<rect x="100.80" y="273.36" width="7.35" height="7.31" fill="#dc8e3a"/>
<rect x="108.10" y="273.36" width="7.35" height="7.31" fill="#cc9e44"/>
<rect x="115.40" y="273.36" width="7.35" height="7.31" fill="#dc8e3a"/>
<rect x="122.70" y="273.36" width="7.35" height="7.31" fill="#dc8e3a"/>
<rect x="130.00" y="273.36" width="7.35" height="7.31" fill="#dc8e3a"/>
<rect x="137.30" y="273.36" width="7.35" height="7.31" fill="#d4963f"/>
<rect x="144.60" y="273.36" width="7.35" height="7.31" fill="#c4a94b"/>
<rect x="151.90" y="273.36" width="7.35" height="7.31" fill="#98da7c"/>
<rect x="159.20" y="273.36" width="7.35" height="7.31" fill="#9ad87a"/>
<rect x="166.50" y="273.36" width="7.35" height="7.31" fill="#9cd678"/>
<rect x="173.80" y="273.36" width="7.35" height="7.31" fill="#bcb452"/>
<rect x="181.10" y="273.36" width="7.35" height="7.31" fill="#aac864"/>
<rect x="188.40" y="273.36" width="7.35" height="7.31" fill="#9cd678"/>
<rect x="195.70" y="273.36" width="7.35" height="7.31" fill="#aac864"/>
<rect x="64.30" y="280.62" width="7.35" height="7.31" fill="#dc8e3a"/>
<rect x="71.60" y="280.62" width="7.35" height="7.31" fill="#e18838"/>
<rect x="78.90" y="280.62" width="7.35" height="7.31" fill="#e68236"/>
<rect x="86.20" y="280.62" width="7.35" height="7.31" fill="#c4a94b"/>
<rect x="93.50" y="280.62" width="7.35" height="7.31" fill="#dc8e3a"/>
<rect x="100.80" y="280.62" width="7.35" height="7.31" fill="#dc8e3a"/>
<rect x="108.10" y="280.62" width="7.35" height="7.31" fill="#dc8e3a"/>
<rect x="115.40" y="280.62" width="7.35" height="7.31" fill="#dc8e3a"/>
<rect x="122.70" y="280.62" width="7.35" height="7.31" fill="#dc8e3a"/>
<rect x="130.00" y="280.62" width="7.35" height="7.31" fill="#dc8e3a"/>
<rect x="137.30" y="280.62" width="7.35" height="7.31" fill="#d4963f"/>
<rect x="144.60" y="280.62" width="7.35" height="7.31" fill="#bcb452"/>
<rect x="151.90" y="280.62" width="7.35" height="7.31" fill="#98da7c"/>
<rect x="159.20" y="280.62" width="7.35" height="7.31" fill="#9ad87a"/>
<rect x="166.50" y="280.62" width="7.35" height="7.31" fill="#9cd678"/>
<rect x="173.80" y="280.62" width="7.35" height="7.31" fill="#9cd678"/>
<rect x="181.10" y="280.62" width="7.35" height="7.31" fill="#aac864"/>
<rect x="188.40" y="280.62" width="7.35" height="7.31" fill="#9cd678"/>
<rect x="195.70" y="280.62" width="7.35" height="7.31" fill="#aac864"/>
<rect x="64.30" y="287.88" width="7.35" height="7.31" fill="#cc9e44"/>
<rect x="71.60" y="287.88" width="7.35" height="7.31" fill="#cc9e44"/>
<rect x="78.90" y="287.88" width="7.35" height="7.31" fill="#c4a94b"/>
<rect x="86.20" y="287.88" width="7.35" height="7.31" fill="#e68236"/>
<rect x="93.50" y="287.88" width="7.35" height="7.31" fill="#dc8e3a"/>
<rect x="100.80" y="287.88" width="7.35" height="7.31" fill="#dc8e3a"/>
<rect x="108.10" y="287.88" width="7.35" height="7.31" fill="#dc8e3a"/>
<rect x="115.40" y="287.88" width="7.35" height="7.31" fill="#dc8e3a"/>
<rect x="122.70" y="287.88" width="7.35" height="7.31" fill="#dc8e3a"/>
<rect x="130.00" y="287.88" width="7.35" height="7.31" fill="#dc8e3a"/>
<rect x="137.30" y="287.88" width="7.35" height="7.31" fill="#d4963f"/>
<rect x="144.60" y="287.88" width="7.35" height="7.31" fill="#bcb452"/>
<rect x="151.90" y="287.88" width="7.35" height="7.31" fill="#98da7c"/>
<rect x="159.20" y="287.88" width="7.35" height="7.31" fill="#9ad87a"/>
<rect x="166.50" y="287.88" width="7.35" height="7.31" fill="#cc9e44"/>
<rect x="173.80" y="287.88" width="7.35" height="7.31" fill="#9ad87a"/>
<rect x="181.10" y="287.88" width="7.35" height="7.31" fill="#bcb452"/>
<rect x="188.40" y="287.88" width="7.35" height="7.31" fill="#aac864"/>
<rect x="195.70" y="287.88" width="7.35" height="7.31" fill="#cc9e44"/>
<rect x="64.30" y="295.14" width="7.35" height="7.31" fill="#dc8e3a"/>
<rect x="71.60" y="295.14" width="7.35" height="7.31" fill="#dc8e3a"/>
<rect x="78.90" y="295.14" width="7.35" height="7.31" fill="#dc8e3a"/>
<rect x="86.20" y="295.14" width="7.35" height="7.31" fill="#dc8e3a"/>
<rect x="93.50" y="295.14" width="7.35" height="7.31" fill="#e68236"/>
<rect x="100.80" y="295.14" width="7.35" height="7.31" fill="#dc8e3a"/>
<rect x="108.10" y="295.14" width="7.35" height="7.31" fill="#dc8e3a"/>
<rect x="115.40" y="295.14" width="7.35" height="7.31" fill="#dc8e3a"/>
<rect x="122.70" y="295.14" width="7.35" height="7.31" fill="#dc8e3a"/>
<rect x="130.00" y="295.14" width="7.35" height="7.31" fill="#dc8e3a"/>
<rect x="137.30" y="295.14" width="7.35" height="7.31" fill="#d4963f"/>
<rect x="144.60" y="295.14" width="7.35" height="7.31" fill="#bcb452"/>
<rect x="151.90" y="295.14" width="7.35" height="7.31" fill="#98da7c"/>
<rect x="159.20" y="295.14" width="7.35" height="7.31" fill="#9ad87a"/>
<rect x="166.50" y="295.14" width="7.35" height="7.31" fill="#9cd678"/>
<rect x="173.80" y="295.14" width="7.35" height="7.31" fill="#aac864"/>
<rect x="181.10" y="295.14" width="7.35" height="7.31" fill="#aac864"/>
<rect x="188.40" y="295.14" width="7.35" height="7.31" fill="#aac864"/>
<rect x="195.70" y="295.14" width="7.35" height="7.31" fill="#aac864"/>
<rect x="64.30" y="302.40" width="7.35" height="7.31" fill="#dc8e3a"/>
<rect x="71.60" y="302.40" width="7.35" height="7.31" fill="#dc8e3a"/>
<rect x="78.90" y="302.40" width="7.35" height="7.31" fill="#dc8e3a"/>
<rect x="86.20" y="302.40" width="7.35" height="7.31" fill="#dc8e3a"/>
<rect x="93.50" y="302.40" width="7.35" height="7.31" fill="#dc8e3a"/>
<rect x="100.80" y="302.40" width="7.35" height="7.31" fill="#e68236"/>
<rect x="108.10" y="302.40" width="7.35" height="7.31" fill="#dc8e3a"/>
<rect x="115.40" y="302.40" width="7.35" height="7.31" fill="#dc8e3a"/>
<rect x="122.70" y="302.40" width="7.35" height="7.31" fill="#dc8e3a"/>
<rect x="130.00" y="302.40" width="7.35" height="7.31" fill="#dc8e3a"/>
<rect x="137.30" y="302.40" width="7.35" height="7.31" fill="#d4963f"/>
<rect x="144.60" y="302.40" width="7.35" height="7.31" fill="#bcb452"/>
<rect x="151.90" y="302.40" width="7.35" height="7.31" fill="#98da7c"/>
<rect x="159.20" y="302.40" width="7.35" height="7.31" fill="#9ad87a"/>
<rect x="166.50" y="302.40" width="7.35" height="7.31" fill="#9cd678"/>
<rect x="173.80" y="302.40" width="7.35" height="7.31" fill="#aac864"/>
<rect x="181.10" y="302.40" width="7.35" height="7.31" fill="#aac864"/>
<rect x="188.40" y="302.40" width="7.35" height="7.31" fill="#aac864"/>
<rect x="195.70" y="302.40" width="7.35" height="7.31" fill="#aac864"/>
<rect x="64.30" y="309.66" width="7.35" height="7.31" fill="#cc9e44"/>
<rect x="71.60" y="309.66" width="7.35" height="7.31" fill="#cc9e44"/>
<rect x="78.90" y="309.66" width="7.35" height="7.31" fill="#dc8e3a"/>
<rect x="86.20" y="309.66" width="7.35" height="7.31" fill="#dc8e3a"/>
<rect x="93.50" y="309.66" width="7.35" height="7.31" fill="#dc8e3a"/>
<rect x="100.80" y="309.66" width="7.35" height="7.31" fill="#dc8e3a"/>
<rect x="108.10" y="309.66" width="7.35" height="7.31" fill="#e18838"/>
<rect x="115.40" y="309.66" width="7.35" height="7.31" fill="#dc8e3a"/>
<rect x="122.70" y="309.66" width="7.35" height="7.31" fill="#dc8e3a"/>
<rect x="130.00" y="309.66" width="7.35" height="7.31" fill="#dc8e3a"/>
<rect x="137.30" y="309.66" width="7.35" height="7.31" fill="#d4963f"/>
<rect x="144.60" y="309.66" width="7.35" height="7.31" fill="#bcb452"/>
<rect x="151.90" y="309.66" width="7.35" height="7.31" fill="#98da7c"/>
<rect x="159.20" y="309.66" width="7.35" height="7.31" fill="#9ad87a"/>
<rect x="166.50" y="309.66" width="7.35" height="7.31" fill="#cc9e44"/>
<rect x="173.80" y="309.66" width="7.35" height="7.31" fill="#9cd678"/>
<rect x="181.10" y="309.66" width="7.35" height="7.31" fill="#aac864"/>
<rect x="188.40" y="309.66" width="7.35" height="7.31" fill="#aac864"/>
<rect x="195.70" y="309.66" width="7.35" height="7.31" fill="#cc9e44"/>
<rect x="64.30" y="316.92" width="7.35" height="7.31" fill="#dc8e3a"/>
<rect x="71.60" y="316.92" width="7.35" height="7.31" fill="#dc8e3a"/>
<rect x="78.90" y="316.92" width="7.35" height="7.31" fill="#dc8e3a"/>
<rect x="86.20" y="316.92" width="7.35" height="7.31" fill="#dc8e3a"/>
<rect x="93.50" y="316.92" width="7.35" height="7.31" fill="#dc8e3a"/>
<rect x="100.80" y="316.92" width="7.35" height="7.31" fill="#dc8e3a"/>
<rect x="108.10" y="316.92" width="7.35" height="7.31" fill="#dc8e3a"/>
<rect x="115.40" y="316.92" width="7.35" height="7.31" fill="#e68236"/>
<rect x="122.70" y="316.92" width="7.35" height="7.31" fill="#dc8e3a"/>
<rect x="130.00" y="316.92" width="7.35" height="7.31" fill="#dc8e3a"/>
<rect x="137.30" y="316.92" width="7.35" height="7.31" fill="#d4963f"/>
<rect x="144.60" y="316.92" width="7.35" height="7.31" fill="#bcb452"/>
<rect x="151.90" y="316.92" width="7.35" height="7.31" fill="#98da7c"/>
<rect x="159.20" y="316.92" width="7.35" height="7.31" fill="#9ad87a"/>
<rect x="166.50" y="316.92" width="7.35" height="7.31" fill="#9cd678"/>
<rect x="173.80" y="316.92" width="7.35" height="7.31" fill="#aac864"/>
<rect x="181.10" y="316.92" width="7.35" height="7.31" fill="#aac864"/>
<rect x="188.40" y="316.92" width="7.35" height="7.31" fill="#9cd678"/>
<rect x="195.70" y="316.92" width="7.35" height="7.31" fill="#aac864"/>
<rect x="64.30" y="324.18" width="7.35" height="7.31" fill="#dc8e3a"/>
<rect x="71.60" y="324.18" width="7.35" height="7.31" fill="#dc8e3a"/>
<rect x="78.90" y="324.18" width="7.35" height="7.31" fill="#dc8e3a"/>
<rect x="86.20" y="324.18" width="7.35" height="7.31" fill="#dc8e3a"/>
<rect x="93.50" y="324.18" width="7.35" height="7.31" fill="#dc8e3a"/>
<rect x="100.80" y="324.18" width="7.35" height="7.31" fill="#dc8e3a"/>
<rect x="108.10" y="324.18" width="7.35" height="7.31" fill="#dc8e3a"/>
<rect x="115.40" y="324.18" width="7.35" height="7.31" fill="#dc8e3a"/>
<rect x="122.70" y="324.18" width="7.35" height="7.31" fill="#e68236"/>
<rect x="130.00" y="324.18" width="7.35" height="7.31" fill="#dc8e3a"/>
<rect x="137.30" y="324.18" width="7.35" height="7.31" fill="#d4963f"/>
<rect x="144.60" y="324.18" width="7.35" height="7.31" fill="#bcb452"/>
<rect x="151.90" y="324.18" width="7.35" height="7.31" fill="#98da7c"/>
<rect x="159.20" y="324.18" width="7.35" height="7.31" fill="#9ad87a"/>
<rect x="166.50" y="324.18" width="7.35" height="7.31" fill="#aac864"/>
<rect x="173.80" y="324.18" width="7.35" height="7.31" fill="#aac864"/>
<rect x="181.10" y="324.18" width="7.35" height="7.31" fill="#aac864"/>
<rect x="188.40" y="324.18" width="7.35" height="7.31" fill="#aac864"/>
<rect x="195.70" y="324.18" width="7.35" height="7.31" fill="#aac864"/>
<rect x="64.30" y="331.44" width="7.35" height="7.31" fill="#dc8e3a"/>
<rect x="71.60" y="331.44" width="7.35" height="7.31" fill="#dc8e3a"/>
<rect x="78.90" y="331.44" width="7.35" height="7.31" fill="#dc8e3a"/>
<rect x="86.20" y="331.44" width="7.35" height="7.31" fill="#dc8e3a"/>
<rect x="93.50" y="331.44" width="7.35" height="7.31" fill="#dc8e3a"/>
<rect x="100.80" y="331.44" width="7.35" height="7.31" fill="#dc8e3a"/>
<rect x="108.10" y="331.44" width="7.35" height="7.31" fill="#dc8e3a"/>
<rect x="115.40" y="331.44" width="7.35" height="7.31" fill="#dc8e3a"/>
<rect x="122.70" y="331.44" width="7.35" height="7.31" fill="#dc8e3a"/>
<rect x="130.00" y="331.44" width="7.35" height="7.31" fill="#e68236"/>
<rect x="137.30" y="331.44" width="7.35" height="7.31" fill="#d4963f"/>
<rect x="144.60" y="331.44" width="7.35" height="7.31" fill="#bcb452"/>
<rect x="151.90" y="331.44" width="7.35" height="7.31" fill="#9ad87a"/>
<rect x="159.20" y="331.44" width="7.35" height="7.31" fill="#9ad87a"/>
<rect x="166.50" y="331.44" width="7.35" height="7.31" fill="#aac864"/>
<rect x="173.80" y="331.44" width="7.35" height="7.31" fill="#aac864"/>
<rect x="181.10" y="331.44" width="7.35" height="7.31" fill="#aac864"/>
<rect x="188.40" y="331.44" width="7.35" height="7.31" fill="#9cd678"/>
<rect x="195.70" y="331.44" width="7.35" height="7.31" fill="#aac864"/>
<rect x="64.30" y="338.70" width="7.35" height="7.31" fill="#d4963f"/>
<rect x="71.60" y="338.70" width="7.35" height="7.31" fill="#d4963f"/>
<rect x="78.90" y="338.70" width="7.35" height="7.31" fill="#d4963f"/>
<rect x="86.20" y="338.70" width="7.35" height="7.31" fill="#d4963f"/>
<rect x="93.50" y="338.70" width="7.35" height="7.31" fill="#d4963f"/>
<rect x="100.80" y="338.70" width="7.35" height="7.31" fill="#d4963f"/>
<rect x="108.10" y="338.70" width="7.35" height="7.31" fill="#d4963f"/>
<rect x="115.40" y="338.70" width="7.35" height="7.31" fill="#d4963f"/>
<rect x="122.70" y="338.70" width="7.35" height="7.31" fill="#d4963f"/>
<rect x="130.00" y="338.70" width="7.35" height="7.31" fill="#d4963f"/>
<rect x="137.30" y="338.70" width="7.35" height="7.31" fill="#ea7c32"/>
<rect x="144.60" y="338.70" width="7.35" height="7.31" fill="#aac864"/>
<rect x="151.90" y="338.70" width="7.35" height="7.31" fill="#9cd678"/>
<rect x="159.20" y="338.70" width="7.35" height="7.31" fill="#9cd678"/>
<rect x="166.50" y="338.70" width="7.35" height="7.31" fill="#aac864"/>
<rect x="173.80" y="338.70" width="7.35" height="7.31" fill="#9cd678"/>
<rect x="181.10" y="338.70" width="7.35" height="7.31" fill="#9cd678"/>
<rect x="188.40" y="338.70" width="7.35" height="7.31" fill="#9cd678"/>
<rect x="195.70" y="338.70" width="7.35" height="7.31" fill="#aac864"/>
<rect x="64.30" y="345.96" width="7.35" height="7.31" fill="#c4a94b"/>
<rect x="71.60" y="345.96" width="7.35" height="7.31" fill="#c4a94b"/>
<rect x="78.90" y="345.96" width="7.35" height="7.31" fill="#bcb452"/>
<rect x="86.20" y="345.96" width="7.35" height="7.31" fill="#bcb452"/>
<rect x="93.50" y="345.96" width="7.35" height="7.31" fill="#bcb452"/>
<rect x="100.80" y="345.96" width="7.35" height="7.31" fill="#bcb452"/>
<rect x="108.10" y="345.96" width="7.35" height="7.31" fill="#bcb452"/>
<rect x="115.40" y="345.96" width="7.35" height="7.31" fill="#bcb452"/>
<rect x="122.70" y="345.96" width="7.35" height="7.31" fill="#bcb452"/>
<rect x="130.00" y="345.96" width="7.35" height="7.31" fill="#bcb452"/>
<rect x="137.30" y="345.96" width="7.35" height="7.31" fill="#aac864"/>
<rect x="144.60" y="345.96" width="7.35" height="7.31" fill="#ea7c32"/>
<rect x="151.90" y="345.96" width="7.35" height="7.31" fill="#9ad87a"/>
<rect x="159.20" y="345.96" width="7.35" height="7.31" fill="#9ad87a"/>
<rect x="166.50" y="345.96" width="7.35" height="7.31" fill="#9ad87a"/>
<rect x="173.80" y="345.96" width="7.35" height="7.31" fill="#c4a94b"/>
<rect x="181.10" y="345.96" width="7.35" height="7.31" fill="#9cd678"/>
<rect x="188.40" y="345.96" width="7.35" height="7.31" fill="#9cd678"/>
<rect x="195.70" y="345.96" width="7.35" height="7.31" fill="#9cd678"/>
<rect x="64.30" y="353.22" width="7.35" height="7.31" fill="#98da7c"/>
<rect x="71.60" y="353.22" width="7.35" height="7.31" fill="#98da7c"/>
<rect x="78.90" y="353.22" width="7.35" height="7.31" fill="#98da7c"/>
<rect x="86.20" y="353.22" width="7.35" height="7.31" fill="#98da7c"/>
<rect x="93.50" y="353.22" width="7.35" height="7.31" fill="#98da7c"/>
<rect x="100.80" y="353.22" width="7.35" height="7.31" fill="#98da7c"/>
<rect x="108.10" y="353.22" width="7.35" height="7.31" fill="#98da7c"/>
<rect x="115.40" y="353.22" width="7.35" height="7.31" fill="#98da7c"/>
<rect x="122.70" y="353.22" width="7.35" height="7.31" fill="#98da7c"/>
<rect x="130.00" y="353.22" width="7.35" height="7.31" fill="#9ad87a"/>
<rect x="137.30" y="353.22" width="7.35" height="7.31" fill="#9cd678"/>
<rect x="144.60" y="353.22" width="7.35" height="7.31" fill="#9ad87a"/>
<rect x="151.90" y="353.22" width="7.35" height="7.31" fill="#ea7c32"/>
<rect x="159.20" y="353.22" width="7.35" height="7.31" fill="#d4963f"/>
<rect x="166.50" y="353.22" width="7.35" height="7.31" fill="#9ad87a"/>
<rect x="173.80" y="353.22" width="7.35" height="7.31" fill="#9cd678"/>
<rect x="181.10" y="353.22" width="7.35" height="7.31" fill="#9cd678"/>
<rect x="188.40" y="353.22" width="7.35" height="7.31" fill="#cc9e44"/>
<rect x="195.70" y="353.22" width="7.35" height="7.31" fill="#9ad87a"/>
<rect x="64.30" y="360.48" width="7.35" height="7.31" fill="#9ad87a"/>
<rect x="71.60" y="360.48" width="7.35" height="7.31" fill="#9ad87a"/>
<rect x="78.90" y="360.48" width="7.35" height="7.31" fill="#9ad87a"/>
<rect x="86.20" y="360.48" width="7.35" height="7.31" fill="#9ad87a"/>
<rect x="93.50" y="360.48" width="7.35" height="7.31" fill="#9ad87a"/>
<rect x="100.80" y="360.48" width="7.35" height="7.31" fill="#9ad87a"/>
<rect x="108.10" y="360.48" width="7.35" height="7.31" fill="#9ad87a"/>
<rect x="115.40" y="360.48" width="7.35" height="7.31" fill="#9ad87a"/>
<rect x="122.70" y="360.48" width="7.35" height="7.31" fill="#9ad87a"/>
<rect x="130.00" y="360.48" width="7.35" height="7.31" fill="#9ad87a"/>
<rect x="137.30" y="360.48" width="7.35" height="7.31" fill="#9cd678"/>
<rect x="144.60" y="360.48" width="7.35" height="7.31" fill="#9ad87a"/>
<rect x="151.90" y="360.48" width="7.35" height="7.31" fill="#d4963f"/>
<rect x="159.20" y="360.48" width="7.35" height="7.31" fill="#ea7c32"/>
<rect x="166.50" y="360.48" width="7.35" height="7.31" fill="#9ad87a"/>
<rect x="173.80" y="360.48" width="7.35" height="7.31" fill="#aac864"/>
<rect x="181.10" y="360.48" width="7.35" height="7.31" fill="#9cd678"/>
<rect x="188.40" y="360.48" width="7.35" height="7.31" fill="#cc9e44"/>
<rect x="195.70" y="360.48" width="7.35" height="7.31" fill="#9cd678"/>
<rect x="64.30" y="367.74" width="7.35" height="7.31" fill="#9cd678"/>
<rect x="71.60" y="367.74" width="7.35" height="7.31" fill="#9cd678"/>
<rect x="78.90" y="367.74" width="7.35" height="7.31" fill="#9cd678"/>
<rect x="86.20" y="367.74" width="7.35" height="7.31" fill="#cc9e44"/>
<rect x="93.50" y="367.74" width="7.35" height="7.31" fill="#9cd678"/>
<rect x="100.80" y="367.74" width="7.35" height="7.31" fill="#9cd678"/>
<rect x="108.10" y="367.74" width="7.35" height="7.31" fill="#cc9e44"/>
<rect x="115.40" y="367.74" width="7.35" height="7.31" fill="#9cd678"/>
<rect x="122.70" y="367.74" width="7.35" height="7.31" fill="#aac864"/>
<rect x="130.00" y="367.74" width="7.35" height="7.31" fill="#aac864"/>
<rect x="137.30" y="367.74" width="7.35" height="7.31" fill="#aac864"/>
<rect x="144.60" y="367.74" width="7.35" height="7.31" fill="#9ad87a"/>
<rect x="151.90" y="367.74" width="7.35" height="7.31" fill="#9ad87a"/>
<rect x="159.20" y="367.74" width="7.35" height="7.31" fill="#9ad87a"/>
<rect x="166.50" y="367.74" width="7.35" height="7.31" fill="#ea7c32"/>
<rect x="173.80" y="367.74" width="7.35" height="7.31" fill="#9ad87a"/>
<rect x="181.10" y="367.74" width="7.35" height="7.31" fill="#9cd678"/>
<rect x="188.40" y="367.74" width="7.35" height="7.31" fill="#9ad87a"/>
<rect x="195.70" y="367.74" width="7.35" height="7.31" fill="#bcb452"/>
<rect x="64.30" y="375.00" width="7.35" height="7.31" fill="#bcb452"/>
<rect x="71.60" y="375.00" width="7.35" height="7.31" fill="#bcb452"/>
<rect x="78.90" y="375.00" width="7.35" height="7.31" fill="#9cd678"/>
<rect x="86.20" y="375.00" width="7.35" height="7.31" fill="#9ad87a"/>
<rect x="93.50" y="375.00" width="7.35" height="7.31" fill="#aac864"/>
<rect x="100.80" y="375.00" width="7.35" height="7.31" fill="#aac864"/>
<rect x="108.10" y="375.00" width="7.35" height="7.31" fill="#9cd678"/>
<rect x="115.40" y="375.00" width="7.35" height="7.31" fill="#aac864"/>
<rect x="122.70" y="375.00" width="7.35" height="7.31" fill="#aac864"/>
<rect x="130.00" y="375.00" width="7.35" height="7.31" fill="#aac864"/>
<rect x="137.30" y="375.00" width="7.35" height="7.31" fill="#9cd678"/>
<rect x="144.60" y="375.00" width="7.35" height="7.31" fill="#c4a94b"/>
<rect x="151.90" y="375.00" width="7.35" height="7.31" fill="#9cd678"/>
<rect x="159.20" y="375.00" width="7.35" height="7.31" fill="#aac864"/>
<rect x="166.50" y="375.00" width="7.35" height="7.31" fill="#9ad87a"/>
<rect x="173.80" y="375.00" width="7.35" height="7.31" fill="#ea7c32"/>
<rect x="181.10" y="375.00" width="7.35" height="7.31" fill="#9cd678"/>
<rect x="188.40" y="375.00" width="7.35" height="7.31" fill="#bcb452"/>
<rect x="195.70" y="375.00" width="7.35" height="7.31" fill="#9cd678"/>
<rect x="64.30" y="382.26" width="7.35" height="7.31" fill="#aac864"/>
<rect x="71.60" y="382.26" width="7.35" height="7.31" fill="#aac864"/>
<rect x="78.90" y="382.26" width="7.35" height="7.31" fill="#aac864"/>
<rect x="86.20" y="382.26" width="7.35" height="7.31" fill="#bcb452"/>
<rect x="93.50" y="382.26" width="7.35" height="7.31" fill="#aac864"/>
<rect x="100.80" y="382.26" width="7.35" height="7.31" fill="#aac864"/>
<rect x="108.10" y="382.26" width="7.35" height="7.31" fill="#aac864"/>
<rect x="115.40" y="382.26" width="7.35" height="7.31" fill="#aac864"/>
<rect x="122.70" y="382.26" width="7.35" height="7.31" fill="#aac864"/>
<rect x="130.00" y="382.26" width="7.35" height="7.31" fill="#aac864"/>
<rect x="137.30" y="382.26" width="7.35" height="7.31" fill="#9cd678"/>
<rect x="144.60" y="382.26" width="7.35" height="7.31" fill="#9cd678"/>
<rect x="151.90" y="382.26" width="7.35" height="7.31" fill="#9cd678"/>
<rect x="159.20" y="382.26" width="7.35" height="7.31" fill="#9cd678"/>
<rect x="166.50" y="382.26" width="7.35" height="7.31" fill="#9cd678"/>
<rect x="173.80" y="382.26" width="7.35" height="7.31" fill="#9cd678"/>
<rect x="181.10" y="382.26" width="7.35" height="7.31" fill="#ea7c32"/>
<rect x="188.40" y="382.26" width="7.35" height="7.31" fill="#9cd678"/>
<rect x="195.70" y="382.26" width="7.35" height="7.31" fill="#9cd678"/>
<rect x="64.30" y="389.52" width="7.35" height="7.31" fill="#aac864"/>
<rect x="71.60" y="389.52" width="7.35" height="7.31" fill="#9cd678"/>
<rect x="78.90" y="389.52" width="7.35" height="7.31" fill="#9cd678"/>
<rect x="86.20" y="389.52" width="7.35" height="7.31" fill="#aac864"/>
<rect x="93.50" y="389.52" width="7.35" height="7.31" fill="#aac864"/>
<rect x="100.80" y="389.52" width="7.35" height="7.31" fill="#aac864"/>
<rect x="108.10" y="389.52" width="7.35" height="7.31" fill="#aac864"/>
<rect x="115.40" y="389.52" width="7.35" height="7.31" fill="#9cd678"/>
<rect x="122.70" y="389.52" width="7.35" height="7.31" fill="#aac864"/>
<rect x="130.00" y="389.52" width="7.35" height="7.31" fill="#9cd678"/>
<rect x="137.30" y="389.52" width="7.35" height="7.31" fill="#9cd678"/>
<rect x="144.60" y="389.52" width="7.35" height="7.31" fill="#9cd678"/>
<rect x="151.90" y="389.52" width="7.35" height="7.31" fill="#cc9e44"/>
<rect x="159.20" y="389.52" width="7.35" height="7.31" fill="#cc9e44"/>
<rect x="166.50" y="389.52" width="7.35" height="7.31" fill="#9ad87a"/>
<rect x="173.80" y="389.52" width="7.35" height="7.31" fill="#bcb452"/>
<rect x="181.10" y="389.52" width="7.35" height="7.31" fill="#9cd678"/>
<rect x="188.40" y="389.52" width="7.35" height="7.31" fill="#ea7c32"/>
<rect x="195.70" y="389.52" width="7.35" height="7.31" fill="#9cd678"/>
<rect x="64.30" y="396.78" width="7.35" height="7.31" fill="#aac864"/>
<rect x="71.60" y="396.78" width="7.35" height="7.31" fill="#aac864"/>
<rect x="78.90" y="396.78" width="7.35" height="7.31" fill="#aac864"/>
<rect x="86.20" y="396.78" width="7.35" height="7.31" fill="#cc9e44"/>
<rect x="93.50" y="396.78" width="7.35" height="7.31" fill="#aac864"/>
<rect x="100.80" y="396.78" width="7.35" height="7.31" fill="#aac864"/>
<rect x="108.10" y="396.78" width="7.35" height="7.31" fill="#cc9e44"/>
<rect x="115.40" y="396.78" width="7.35" height="7.31" fill="#aac864"/>
<rect x="122.70" y="396.78" width="7.35" height="7.31" fill="#aac864"/>
<rect x="130.00" y="396.78" width="7.35" height="7.31" fill="#aac864"/>
<rect x="137.30" y="396.78" width="7.35" height="7.31" fill="#aac864"/>
<rect x="144.60" y="396.78" width="7.35" height="7.31" fill="#9cd678"/>
<rect x="151.90" y="396.78" width="7.35" height="7.31" fill="#9ad87a"/>
<rect x="159.20" y="396.78" width="7.35" height="7.31" fill="#9cd678"/>
<rect x="166.50" y="396.78" width="7.35" height="7.31" fill="#bcb452"/>
<rect x="173.80" y="396.78" width="7.35" height="7.31" fill="#9cd678"/>
<rect x="181.10" y="396.78" width="7.35" height="7.31" fill="#9cd678"/>
<rect x="188.40" y="396.78" width="7.35" height="7.31" fill="#9cd678"/>
<rect x="195.70" y="396.78" width="7.35" height="7.31" fill="#ea7c32"/>
<line x1="71.60" y1="266.10" x2="71.60" y2="404.04" stroke="#fff" stroke-opacity="0.42" stroke-width="0.85"/>
<line x1="64.30" y1="273.36" x2="203.00" y2="273.36" stroke="#fff" stroke-opacity="0.42" stroke-width="0.85"/>
<line x1="78.90" y1="266.10" x2="78.90" y2="404.04" stroke="#fff" stroke-opacity="0.42" stroke-width="0.85"/>
<line x1="64.30" y1="280.62" x2="203.00" y2="280.62" stroke="#fff" stroke-opacity="0.42" stroke-width="0.85"/>
<line x1="86.20" y1="266.10" x2="86.20" y2="404.04" stroke="#fff" stroke-opacity="0.42" stroke-width="0.85"/>
<line x1="64.30" y1="287.88" x2="203.00" y2="287.88" stroke="#fff" stroke-opacity="0.42" stroke-width="0.85"/>
<line x1="93.50" y1="266.10" x2="93.50" y2="404.04" stroke="#fff" stroke-opacity="0.42" stroke-width="0.85"/>
<line x1="64.30" y1="295.14" x2="203.00" y2="295.14" stroke="#fff" stroke-opacity="0.42" stroke-width="0.85"/>
<line x1="100.80" y1="266.10" x2="100.80" y2="404.04" stroke="#fff" stroke-opacity="0.42" stroke-width="0.85"/>
<line x1="64.30" y1="302.40" x2="203.00" y2="302.40" stroke="#fff" stroke-opacity="0.42" stroke-width="0.85"/>
<line x1="108.10" y1="266.10" x2="108.10" y2="404.04" stroke="#fff" stroke-opacity="0.42" stroke-width="0.85"/>
<line x1="64.30" y1="309.66" x2="203.00" y2="309.66" stroke="#fff" stroke-opacity="0.42" stroke-width="0.85"/>
<line x1="115.40" y1="266.10" x2="115.40" y2="404.04" stroke="#fff" stroke-opacity="0.42" stroke-width="0.85"/>
<line x1="64.30" y1="316.92" x2="203.00" y2="316.92" stroke="#fff" stroke-opacity="0.42" stroke-width="0.85"/>
<line x1="122.70" y1="266.10" x2="122.70" y2="404.04" stroke="#fff" stroke-opacity="0.42" stroke-width="0.85"/>
<line x1="64.30" y1="324.18" x2="203.00" y2="324.18" stroke="#fff" stroke-opacity="0.42" stroke-width="0.85"/>
<line x1="130.00" y1="266.10" x2="130.00" y2="404.04" stroke="#fff" stroke-opacity="0.42" stroke-width="0.85"/>
<line x1="64.30" y1="331.44" x2="203.00" y2="331.44" stroke="#fff" stroke-opacity="0.42" stroke-width="0.85"/>
<line x1="137.30" y1="266.10" x2="137.30" y2="404.04" stroke="#fff" stroke-opacity="0.42" stroke-width="0.85"/>
<line x1="64.30" y1="338.70" x2="203.00" y2="338.70" stroke="#fff" stroke-opacity="0.42" stroke-width="0.85"/>
<line x1="144.60" y1="266.10" x2="144.60" y2="404.04" stroke="#fff" stroke-opacity="0.42" stroke-width="0.85"/>
<line x1="64.30" y1="345.96" x2="203.00" y2="345.96" stroke="#fff" stroke-opacity="0.42" stroke-width="0.85"/>
<line x1="151.90" y1="266.10" x2="151.90" y2="404.04" stroke="#fff" stroke-opacity="0.42" stroke-width="0.85"/>
<line x1="64.30" y1="353.22" x2="203.00" y2="353.22" stroke="#fff" stroke-opacity="0.42" stroke-width="0.85"/>
<line x1="159.20" y1="266.10" x2="159.20" y2="404.04" stroke="#fff" stroke-opacity="0.42" stroke-width="0.85"/>
<line x1="64.30" y1="360.48" x2="203.00" y2="360.48" stroke="#fff" stroke-opacity="0.42" stroke-width="0.85"/>
<line x1="166.50" y1="266.10" x2="166.50" y2="404.04" stroke="#fff" stroke-opacity="0.42" stroke-width="0.85"/>
<line x1="64.30" y1="367.74" x2="203.00" y2="367.74" stroke="#fff" stroke-opacity="0.42" stroke-width="0.85"/>
<line x1="173.80" y1="266.10" x2="173.80" y2="404.04" stroke="#fff" stroke-opacity="0.42" stroke-width="0.85"/>
<line x1="64.30" y1="375.00" x2="203.00" y2="375.00" stroke="#fff" stroke-opacity="0.42" stroke-width="0.85"/>
<line x1="181.10" y1="266.10" x2="181.10" y2="404.04" stroke="#fff" stroke-opacity="0.42" stroke-width="0.85"/>
<line x1="64.30" y1="382.26" x2="203.00" y2="382.26" stroke="#fff" stroke-opacity="0.42" stroke-width="0.85"/>
<line x1="188.40" y1="266.10" x2="188.40" y2="404.04" stroke="#fff" stroke-opacity="0.42" stroke-width="0.85"/>
<line x1="64.30" y1="389.52" x2="203.00" y2="389.52" stroke="#fff" stroke-opacity="0.42" stroke-width="0.85"/>
<line x1="195.70" y1="266.10" x2="195.70" y2="404.04" stroke="#fff" stroke-opacity="0.42" stroke-width="0.85"/>
<line x1="64.30" y1="396.78" x2="203.00" y2="396.78" stroke="#fff" stroke-opacity="0.42" stroke-width="0.85"/>
<rect x="64.30" y="266.10" width="43.80" height="43.56" fill="none" stroke="#3333b0" stroke-width="1"/>
<rect x="108.10" y="309.66" width="29.20" height="29.04" fill="none" stroke="#3333b0" stroke-width="1"/>
<rect x="137.30" y="338.70" width="65.70" height="65.34" fill="none" stroke="#3333b0" stroke-width="1"/>
<rect x="214.30" y="266.30" width="7.36" height="7.29" fill="#ea7c32"/>
<rect x="221.61" y="266.30" width="7.36" height="7.29" fill="#e18838"/>
<rect x="228.92" y="266.30" width="7.36" height="7.29" fill="#dc8e3a"/>
<rect x="236.23" y="266.30" width="7.36" height="7.29" fill="#dc8e3a"/>
<rect x="243.54" y="266.30" width="7.36" height="7.29" fill="#e18838"/>
<rect x="250.85" y="266.30" width="7.36" height="7.29" fill="#e18838"/>
<rect x="258.16" y="266.30" width="7.36" height="7.29" fill="#e18838"/>
<rect x="265.47" y="266.30" width="7.36" height="7.29" fill="#e18838"/>
<rect x="272.78" y="266.30" width="7.36" height="7.29" fill="#e18838"/>
<rect x="280.09" y="266.30" width="7.36" height="7.29" fill="#e18838"/>
<rect x="287.40" y="266.30" width="7.36" height="7.29" fill="#cc9e44"/>
<rect x="294.71" y="266.30" width="7.36" height="7.29" fill="#99d97b"/>
<rect x="302.02" y="266.30" width="7.36" height="7.29" fill="#99d97b"/>
<rect x="309.33" y="266.30" width="7.36" height="7.29" fill="#9ad87a"/>
<rect x="316.64" y="266.30" width="7.36" height="7.29" fill="#cc9e44"/>
<rect x="323.95" y="266.30" width="7.36" height="7.29" fill="#9ad87a"/>
<rect x="331.26" y="266.30" width="7.36" height="7.29" fill="#c4a94b"/>
<rect x="338.57" y="266.30" width="7.36" height="7.29" fill="#9ad87a"/>
<rect x="345.88" y="266.30" width="7.36" height="7.29" fill="#9ad87a"/>
<rect x="214.30" y="273.54" width="7.36" height="7.29" fill="#e18838"/>
<rect x="221.61" y="273.54" width="7.36" height="7.29" fill="#ea7c32"/>
<rect x="228.92" y="273.54" width="7.36" height="7.29" fill="#e18838"/>
<rect x="236.23" y="273.54" width="7.36" height="7.29" fill="#e18838"/>
<rect x="243.54" y="273.54" width="7.36" height="7.29" fill="#e18838"/>
<rect x="250.85" y="273.54" width="7.36" height="7.29" fill="#e18838"/>
<rect x="258.16" y="273.54" width="7.36" height="7.29" fill="#e18838"/>
<rect x="265.47" y="273.54" width="7.36" height="7.29" fill="#e18838"/>
<rect x="272.78" y="273.54" width="7.36" height="7.29" fill="#e18838"/>
<rect x="280.09" y="273.54" width="7.36" height="7.29" fill="#e18838"/>
<rect x="287.40" y="273.54" width="7.36" height="7.29" fill="#cc9e44"/>
<rect x="294.71" y="273.54" width="7.36" height="7.29" fill="#99d97b"/>
<rect x="302.02" y="273.54" width="7.36" height="7.29" fill="#99d97b"/>
<rect x="309.33" y="273.54" width="7.36" height="7.29" fill="#9ad87a"/>
<rect x="316.64" y="273.54" width="7.36" height="7.29" fill="#cc9e44"/>
<rect x="323.95" y="273.54" width="7.36" height="7.29" fill="#9ad87a"/>
<rect x="331.26" y="273.54" width="7.36" height="7.29" fill="#c4a94b"/>
<rect x="338.57" y="273.54" width="7.36" height="7.29" fill="#9ad87a"/>
<rect x="345.88" y="273.54" width="7.36" height="7.29" fill="#9ad87a"/>
<rect x="214.30" y="280.78" width="7.36" height="7.29" fill="#dc8e3a"/>
<rect x="221.61" y="280.78" width="7.36" height="7.29" fill="#e18838"/>
<rect x="228.92" y="280.78" width="7.36" height="7.29" fill="#ea7c32"/>
<rect x="236.23" y="280.78" width="7.36" height="7.29" fill="#e18838"/>
<rect x="243.54" y="280.78" width="7.36" height="7.29" fill="#e18838"/>
<rect x="250.85" y="280.78" width="7.36" height="7.29" fill="#e18838"/>
<rect x="258.16" y="280.78" width="7.36" height="7.29" fill="#e18838"/>
<rect x="265.47" y="280.78" width="7.36" height="7.29" fill="#e18838"/>
<rect x="272.78" y="280.78" width="7.36" height="7.29" fill="#e18838"/>
<rect x="280.09" y="280.78" width="7.36" height="7.29" fill="#e18838"/>
<rect x="287.40" y="280.78" width="7.36" height="7.29" fill="#cc9e44"/>
<rect x="294.71" y="280.78" width="7.36" height="7.29" fill="#99d97b"/>
<rect x="302.02" y="280.78" width="7.36" height="7.29" fill="#99d97b"/>
<rect x="309.33" y="280.78" width="7.36" height="7.29" fill="#9ad87a"/>
<rect x="316.64" y="280.78" width="7.36" height="7.29" fill="#cc9e44"/>
<rect x="323.95" y="280.78" width="7.36" height="7.29" fill="#9ad87a"/>
<rect x="331.26" y="280.78" width="7.36" height="7.29" fill="#c4a94b"/>
<rect x="338.57" y="280.78" width="7.36" height="7.29" fill="#9ad87a"/>
<rect x="345.88" y="280.78" width="7.36" height="7.29" fill="#9ad87a"/>
<rect x="214.30" y="288.02" width="7.36" height="7.29" fill="#dc8e3a"/>
<rect x="221.61" y="288.02" width="7.36" height="7.29" fill="#e18838"/>
<rect x="228.92" y="288.02" width="7.36" height="7.29" fill="#e18838"/>
<rect x="236.23" y="288.02" width="7.36" height="7.29" fill="#ea7c32"/>
<rect x="243.54" y="288.02" width="7.36" height="7.29" fill="#e18838"/>
<rect x="250.85" y="288.02" width="7.36" height="7.29" fill="#e18838"/>
<rect x="258.16" y="288.02" width="7.36" height="7.29" fill="#e18838"/>
<rect x="265.47" y="288.02" width="7.36" height="7.29" fill="#e18838"/>
<rect x="272.78" y="288.02" width="7.36" height="7.29" fill="#e18838"/>
<rect x="280.09" y="288.02" width="7.36" height="7.29" fill="#e18838"/>
<rect x="287.40" y="288.02" width="7.36" height="7.29" fill="#cc9e44"/>
<rect x="294.71" y="288.02" width="7.36" height="7.29" fill="#99d97b"/>
<rect x="302.02" y="288.02" width="7.36" height="7.29" fill="#99d97b"/>
<rect x="309.33" y="288.02" width="7.36" height="7.29" fill="#9ad87a"/>
<rect x="316.64" y="288.02" width="7.36" height="7.29" fill="#cc9e44"/>
<rect x="323.95" y="288.02" width="7.36" height="7.29" fill="#9ad87a"/>
<rect x="331.26" y="288.02" width="7.36" height="7.29" fill="#c4a94b"/>
<rect x="338.57" y="288.02" width="7.36" height="7.29" fill="#9ad87a"/>
<rect x="345.88" y="288.02" width="7.36" height="7.29" fill="#9ad87a"/>
<rect x="214.30" y="295.26" width="7.36" height="7.29" fill="#e18838"/>
<rect x="221.61" y="295.26" width="7.36" height="7.29" fill="#e18838"/>
<rect x="228.92" y="295.26" width="7.36" height="7.29" fill="#e18838"/>
<rect x="236.23" y="295.26" width="7.36" height="7.29" fill="#e18838"/>
<rect x="243.54" y="295.26" width="7.36" height="7.29" fill="#ea7c32"/>
<rect x="250.85" y="295.26" width="7.36" height="7.29" fill="#e18838"/>
<rect x="258.16" y="295.26" width="7.36" height="7.29" fill="#e18838"/>
<rect x="265.47" y="295.26" width="7.36" height="7.29" fill="#e18838"/>
<rect x="272.78" y="295.26" width="7.36" height="7.29" fill="#e18838"/>
<rect x="280.09" y="295.26" width="7.36" height="7.29" fill="#e18838"/>
<rect x="287.40" y="295.26" width="7.36" height="7.29" fill="#cc9e44"/>
<rect x="294.71" y="295.26" width="7.36" height="7.29" fill="#99d97b"/>
<rect x="302.02" y="295.26" width="7.36" height="7.29" fill="#99d97b"/>
<rect x="309.33" y="295.26" width="7.36" height="7.29" fill="#9ad87a"/>
<rect x="316.64" y="295.26" width="7.36" height="7.29" fill="#cc9e44"/>
<rect x="323.95" y="295.26" width="7.36" height="7.29" fill="#9ad87a"/>
<rect x="331.26" y="295.26" width="7.36" height="7.29" fill="#c4a94b"/>
<rect x="338.57" y="295.26" width="7.36" height="7.29" fill="#9ad87a"/>
<rect x="345.88" y="295.26" width="7.36" height="7.29" fill="#9ad87a"/>
<rect x="214.30" y="302.50" width="7.36" height="7.29" fill="#e18838"/>
<rect x="221.61" y="302.50" width="7.36" height="7.29" fill="#e18838"/>
<rect x="228.92" y="302.50" width="7.36" height="7.29" fill="#e18838"/>
<rect x="236.23" y="302.50" width="7.36" height="7.29" fill="#e18838"/>
<rect x="243.54" y="302.50" width="7.36" height="7.29" fill="#e18838"/>
<rect x="250.85" y="302.50" width="7.36" height="7.29" fill="#ea7c32"/>
<rect x="258.16" y="302.50" width="7.36" height="7.29" fill="#e18838"/>
<rect x="265.47" y="302.50" width="7.36" height="7.29" fill="#e18838"/>
<rect x="272.78" y="302.50" width="7.36" height="7.29" fill="#e18838"/>
<rect x="280.09" y="302.50" width="7.36" height="7.29" fill="#e18838"/>
<rect x="287.40" y="302.50" width="7.36" height="7.29" fill="#cc9e44"/>
<rect x="294.71" y="302.50" width="7.36" height="7.29" fill="#99d97b"/>
<rect x="302.02" y="302.50" width="7.36" height="7.29" fill="#99d97b"/>
<rect x="309.33" y="302.50" width="7.36" height="7.29" fill="#9ad87a"/>
<rect x="316.64" y="302.50" width="7.36" height="7.29" fill="#cc9e44"/>
<rect x="323.95" y="302.50" width="7.36" height="7.29" fill="#9ad87a"/>
<rect x="331.26" y="302.50" width="7.36" height="7.29" fill="#c4a94b"/>
<rect x="338.57" y="302.50" width="7.36" height="7.29" fill="#9ad87a"/>
<rect x="345.88" y="302.50" width="7.36" height="7.29" fill="#9ad87a"/>
<rect x="214.30" y="309.74" width="7.36" height="7.29" fill="#e18838"/>
<rect x="221.61" y="309.74" width="7.36" height="7.29" fill="#e18838"/>
<rect x="228.92" y="309.74" width="7.36" height="7.29" fill="#e18838"/>
<rect x="236.23" y="309.74" width="7.36" height="7.29" fill="#e18838"/>
<rect x="243.54" y="309.74" width="7.36" height="7.29" fill="#e18838"/>
<rect x="250.85" y="309.74" width="7.36" height="7.29" fill="#e18838"/>
<rect x="258.16" y="309.74" width="7.36" height="7.29" fill="#ea7c32"/>
<rect x="265.47" y="309.74" width="7.36" height="7.29" fill="#e18838"/>
<rect x="272.78" y="309.74" width="7.36" height="7.29" fill="#e18838"/>
<rect x="280.09" y="309.74" width="7.36" height="7.29" fill="#e18838"/>
<rect x="287.40" y="309.74" width="7.36" height="7.29" fill="#cc9e44"/>
<rect x="294.71" y="309.74" width="7.36" height="7.29" fill="#99d97b"/>
<rect x="302.02" y="309.74" width="7.36" height="7.29" fill="#99d97b"/>
<rect x="309.33" y="309.74" width="7.36" height="7.29" fill="#9ad87a"/>
<rect x="316.64" y="309.74" width="7.36" height="7.29" fill="#c4a94b"/>
<rect x="323.95" y="309.74" width="7.36" height="7.29" fill="#9ad87a"/>
<rect x="331.26" y="309.74" width="7.36" height="7.29" fill="#c4a94b"/>
<rect x="338.57" y="309.74" width="7.36" height="7.29" fill="#9ad87a"/>
<rect x="345.88" y="309.74" width="7.36" height="7.29" fill="#9ad87a"/>
<rect x="214.30" y="316.98" width="7.36" height="7.29" fill="#e18838"/>
<rect x="221.61" y="316.98" width="7.36" height="7.29" fill="#e18838"/>
<rect x="228.92" y="316.98" width="7.36" height="7.29" fill="#e18838"/>
<rect x="236.23" y="316.98" width="7.36" height="7.29" fill="#e18838"/>
<rect x="243.54" y="316.98" width="7.36" height="7.29" fill="#e18838"/>
<rect x="250.85" y="316.98" width="7.36" height="7.29" fill="#e18838"/>
<rect x="258.16" y="316.98" width="7.36" height="7.29" fill="#e18838"/>
<rect x="265.47" y="316.98" width="7.36" height="7.29" fill="#ea7c32"/>
<rect x="272.78" y="316.98" width="7.36" height="7.29" fill="#e18838"/>
<rect x="280.09" y="316.98" width="7.36" height="7.29" fill="#e18838"/>
<rect x="287.40" y="316.98" width="7.36" height="7.29" fill="#cc9e44"/>
<rect x="294.71" y="316.98" width="7.36" height="7.29" fill="#99d97b"/>
<rect x="302.02" y="316.98" width="7.36" height="7.29" fill="#99d97b"/>
<rect x="309.33" y="316.98" width="7.36" height="7.29" fill="#9ad87a"/>
<rect x="316.64" y="316.98" width="7.36" height="7.29" fill="#c4a94b"/>
<rect x="323.95" y="316.98" width="7.36" height="7.29" fill="#9ad87a"/>
<rect x="331.26" y="316.98" width="7.36" height="7.29" fill="#c4a94b"/>
<rect x="338.57" y="316.98" width="7.36" height="7.29" fill="#9ad87a"/>
<rect x="345.88" y="316.98" width="7.36" height="7.29" fill="#9ad87a"/>
<rect x="214.30" y="324.22" width="7.36" height="7.29" fill="#e18838"/>
<rect x="221.61" y="324.22" width="7.36" height="7.29" fill="#e18838"/>
<rect x="228.92" y="324.22" width="7.36" height="7.29" fill="#e18838"/>
<rect x="236.23" y="324.22" width="7.36" height="7.29" fill="#e18838"/>
<rect x="243.54" y="324.22" width="7.36" height="7.29" fill="#e18838"/>
<rect x="250.85" y="324.22" width="7.36" height="7.29" fill="#e18838"/>
<rect x="258.16" y="324.22" width="7.36" height="7.29" fill="#e18838"/>
<rect x="265.47" y="324.22" width="7.36" height="7.29" fill="#e18838"/>
<rect x="272.78" y="324.22" width="7.36" height="7.29" fill="#ea7c32"/>
<rect x="280.09" y="324.22" width="7.36" height="7.29" fill="#e18838"/>
<rect x="287.40" y="324.22" width="7.36" height="7.29" fill="#cc9e44"/>
<rect x="294.71" y="324.22" width="7.36" height="7.29" fill="#99d97b"/>
<rect x="302.02" y="324.22" width="7.36" height="7.29" fill="#99d97b"/>
<rect x="309.33" y="324.22" width="7.36" height="7.29" fill="#9ad87a"/>
<rect x="316.64" y="324.22" width="7.36" height="7.29" fill="#cc9e44"/>
<rect x="323.95" y="324.22" width="7.36" height="7.29" fill="#9ad87a"/>
<rect x="331.26" y="324.22" width="7.36" height="7.29" fill="#c4a94b"/>
<rect x="338.57" y="324.22" width="7.36" height="7.29" fill="#9ad87a"/>
<rect x="345.88" y="324.22" width="7.36" height="7.29" fill="#9ad87a"/>
<rect x="214.30" y="331.46" width="7.36" height="7.29" fill="#e18838"/>
<rect x="221.61" y="331.46" width="7.36" height="7.29" fill="#e18838"/>
<rect x="228.92" y="331.46" width="7.36" height="7.29" fill="#e18838"/>
<rect x="236.23" y="331.46" width="7.36" height="7.29" fill="#e18838"/>
<rect x="243.54" y="331.46" width="7.36" height="7.29" fill="#e18838"/>
<rect x="250.85" y="331.46" width="7.36" height="7.29" fill="#e18838"/>
<rect x="258.16" y="331.46" width="7.36" height="7.29" fill="#e18838"/>
<rect x="265.47" y="331.46" width="7.36" height="7.29" fill="#e18838"/>
<rect x="272.78" y="331.46" width="7.36" height="7.29" fill="#e18838"/>
<rect x="280.09" y="331.46" width="7.36" height="7.29" fill="#ea7c32"/>
<rect x="287.40" y="331.46" width="7.36" height="7.29" fill="#cc9e44"/>
<rect x="294.71" y="331.46" width="7.36" height="7.29" fill="#9ad87a"/>
<rect x="302.02" y="331.46" width="7.36" height="7.29" fill="#9ad87a"/>
<rect x="309.33" y="331.46" width="7.36" height="7.29" fill="#9ad87a"/>
<rect x="316.64" y="331.46" width="7.36" height="7.29" fill="#cc9e44"/>
<rect x="323.95" y="331.46" width="7.36" height="7.29" fill="#9ad87a"/>
<rect x="331.26" y="331.46" width="7.36" height="7.29" fill="#c4a94b"/>
<rect x="338.57" y="331.46" width="7.36" height="7.29" fill="#9ad87a"/>
<rect x="345.88" y="331.46" width="7.36" height="7.29" fill="#9ad87a"/>
<rect x="214.30" y="338.70" width="7.36" height="7.29" fill="#cc9e44"/>
<rect x="221.61" y="338.70" width="7.36" height="7.29" fill="#cc9e44"/>
<rect x="228.92" y="338.70" width="7.36" height="7.29" fill="#cc9e44"/>
<rect x="236.23" y="338.70" width="7.36" height="7.29" fill="#cc9e44"/>
<rect x="243.54" y="338.70" width="7.36" height="7.29" fill="#cc9e44"/>
<rect x="250.85" y="338.70" width="7.36" height="7.29" fill="#cc9e44"/>
<rect x="258.16" y="338.70" width="7.36" height="7.29" fill="#cc9e44"/>
<rect x="265.47" y="338.70" width="7.36" height="7.29" fill="#cc9e44"/>
<rect x="272.78" y="338.70" width="7.36" height="7.29" fill="#cc9e44"/>
<rect x="280.09" y="338.70" width="7.36" height="7.29" fill="#cc9e44"/>
<rect x="287.40" y="338.70" width="7.36" height="7.29" fill="#ea7c32"/>
<rect x="294.71" y="338.70" width="7.36" height="7.29" fill="#9cd678"/>
<rect x="302.02" y="338.70" width="7.36" height="7.29" fill="#9ad87a"/>
<rect x="309.33" y="338.70" width="7.36" height="7.29" fill="#9cd678"/>
<rect x="316.64" y="338.70" width="7.36" height="7.29" fill="#aac864"/>
<rect x="323.95" y="338.70" width="7.36" height="7.29" fill="#9cd678"/>
<rect x="331.26" y="338.70" width="7.36" height="7.29" fill="#bcb452"/>
<rect x="338.57" y="338.70" width="7.36" height="7.29" fill="#9cd678"/>
<rect x="345.88" y="338.70" width="7.36" height="7.29" fill="#9ad87a"/>
<rect x="214.30" y="345.94" width="7.36" height="7.29" fill="#99d97b"/>
<rect x="221.61" y="345.94" width="7.36" height="7.29" fill="#99d97b"/>
<rect x="228.92" y="345.94" width="7.36" height="7.29" fill="#99d97b"/>
<rect x="236.23" y="345.94" width="7.36" height="7.29" fill="#99d97b"/>
<rect x="243.54" y="345.94" width="7.36" height="7.29" fill="#99d97b"/>
<rect x="250.85" y="345.94" width="7.36" height="7.29" fill="#99d97b"/>
<rect x="258.16" y="345.94" width="7.36" height="7.29" fill="#99d97b"/>
<rect x="265.47" y="345.94" width="7.36" height="7.29" fill="#99d97b"/>
<rect x="272.78" y="345.94" width="7.36" height="7.29" fill="#99d97b"/>
<rect x="280.09" y="345.94" width="7.36" height="7.29" fill="#9ad87a"/>
<rect x="287.40" y="345.94" width="7.36" height="7.29" fill="#9cd678"/>
<rect x="294.71" y="345.94" width="7.36" height="7.29" fill="#ea7c32"/>
<rect x="302.02" y="345.94" width="7.36" height="7.29" fill="#9cd678"/>
<rect x="309.33" y="345.94" width="7.36" height="7.29" fill="#9cd678"/>
<rect x="316.64" y="345.94" width="7.36" height="7.29" fill="#9ad87a"/>
<rect x="323.95" y="345.94" width="7.36" height="7.29" fill="#9ad87a"/>
<rect x="331.26" y="345.94" width="7.36" height="7.29" fill="#bcb452"/>
<rect x="338.57" y="345.94" width="7.36" height="7.29" fill="#9ad87a"/>
<rect x="345.88" y="345.94" width="7.36" height="7.29" fill="#aac864"/>
<rect x="214.30" y="353.18" width="7.36" height="7.29" fill="#99d97b"/>
<rect x="221.61" y="353.18" width="7.36" height="7.29" fill="#99d97b"/>
<rect x="228.92" y="353.18" width="7.36" height="7.29" fill="#99d97b"/>
<rect x="236.23" y="353.18" width="7.36" height="7.29" fill="#99d97b"/>
<rect x="243.54" y="353.18" width="7.36" height="7.29" fill="#99d97b"/>
<rect x="250.85" y="353.18" width="7.36" height="7.29" fill="#99d97b"/>
<rect x="258.16" y="353.18" width="7.36" height="7.29" fill="#99d97b"/>
<rect x="265.47" y="353.18" width="7.36" height="7.29" fill="#99d97b"/>
<rect x="272.78" y="353.18" width="7.36" height="7.29" fill="#99d97b"/>
<rect x="280.09" y="353.18" width="7.36" height="7.29" fill="#9ad87a"/>
<rect x="287.40" y="353.18" width="7.36" height="7.29" fill="#9ad87a"/>
<rect x="294.71" y="353.18" width="7.36" height="7.29" fill="#9cd678"/>
<rect x="302.02" y="353.18" width="7.36" height="7.29" fill="#ea7c32"/>
<rect x="309.33" y="353.18" width="7.36" height="7.29" fill="#bcb452"/>
<rect x="316.64" y="353.18" width="7.36" height="7.29" fill="#9ad87a"/>
<rect x="323.95" y="353.18" width="7.36" height="7.29" fill="#9ad87a"/>
<rect x="331.26" y="353.18" width="7.36" height="7.29" fill="#9cd678"/>
<rect x="338.57" y="353.18" width="7.36" height="7.29" fill="#9ad87a"/>
<rect x="345.88" y="353.18" width="7.36" height="7.29" fill="#9ad87a"/>
<rect x="214.30" y="360.42" width="7.36" height="7.29" fill="#9ad87a"/>
<rect x="221.61" y="360.42" width="7.36" height="7.29" fill="#9ad87a"/>
<rect x="228.92" y="360.42" width="7.36" height="7.29" fill="#9ad87a"/>
<rect x="236.23" y="360.42" width="7.36" height="7.29" fill="#9ad87a"/>
<rect x="243.54" y="360.42" width="7.36" height="7.29" fill="#9ad87a"/>
<rect x="250.85" y="360.42" width="7.36" height="7.29" fill="#9ad87a"/>
<rect x="258.16" y="360.42" width="7.36" height="7.29" fill="#9ad87a"/>
<rect x="265.47" y="360.42" width="7.36" height="7.29" fill="#9ad87a"/>
<rect x="272.78" y="360.42" width="7.36" height="7.29" fill="#9ad87a"/>
<rect x="280.09" y="360.42" width="7.36" height="7.29" fill="#9ad87a"/>
<rect x="287.40" y="360.42" width="7.36" height="7.29" fill="#9cd678"/>
<rect x="294.71" y="360.42" width="7.36" height="7.29" fill="#9cd678"/>
<rect x="302.02" y="360.42" width="7.36" height="7.29" fill="#bcb452"/>
<rect x="309.33" y="360.42" width="7.36" height="7.29" fill="#ea7c32"/>
<rect x="316.64" y="360.42" width="7.36" height="7.29" fill="#9cd678"/>
<rect x="323.95" y="360.42" width="7.36" height="7.29" fill="#9cd678"/>
<rect x="331.26" y="360.42" width="7.36" height="7.29" fill="#aac864"/>
<rect x="338.57" y="360.42" width="7.36" height="7.29" fill="#9cd678"/>
<rect x="345.88" y="360.42" width="7.36" height="7.29" fill="#9ad87a"/>
<rect x="214.30" y="367.66" width="7.36" height="7.29" fill="#cc9e44"/>
<rect x="221.61" y="367.66" width="7.36" height="7.29" fill="#cc9e44"/>
<rect x="228.92" y="367.66" width="7.36" height="7.29" fill="#cc9e44"/>
<rect x="236.23" y="367.66" width="7.36" height="7.29" fill="#cc9e44"/>
<rect x="243.54" y="367.66" width="7.36" height="7.29" fill="#cc9e44"/>
<rect x="250.85" y="367.66" width="7.36" height="7.29" fill="#cc9e44"/>
<rect x="258.16" y="367.66" width="7.36" height="7.29" fill="#c4a94b"/>
<rect x="265.47" y="367.66" width="7.36" height="7.29" fill="#c4a94b"/>
<rect x="272.78" y="367.66" width="7.36" height="7.29" fill="#cc9e44"/>
<rect x="280.09" y="367.66" width="7.36" height="7.29" fill="#cc9e44"/>
<rect x="287.40" y="367.66" width="7.36" height="7.29" fill="#aac864"/>
<rect x="294.71" y="367.66" width="7.36" height="7.29" fill="#9ad87a"/>
<rect x="302.02" y="367.66" width="7.36" height="7.29" fill="#9ad87a"/>
<rect x="309.33" y="367.66" width="7.36" height="7.29" fill="#9cd678"/>
<rect x="316.64" y="367.66" width="7.36" height="7.29" fill="#ea7c32"/>
<rect x="323.95" y="367.66" width="7.36" height="7.29" fill="#9ad87a"/>
<rect x="331.26" y="367.66" width="7.36" height="7.29" fill="#9cd678"/>
<rect x="338.57" y="367.66" width="7.36" height="7.29" fill="#9ad87a"/>
<rect x="345.88" y="367.66" width="7.36" height="7.29" fill="#9ad87a"/>
<rect x="214.30" y="374.90" width="7.36" height="7.29" fill="#9ad87a"/>
<rect x="221.61" y="374.90" width="7.36" height="7.29" fill="#9ad87a"/>
<rect x="228.92" y="374.90" width="7.36" height="7.29" fill="#9ad87a"/>
<rect x="236.23" y="374.90" width="7.36" height="7.29" fill="#9ad87a"/>
<rect x="243.54" y="374.90" width="7.36" height="7.29" fill="#9ad87a"/>
<rect x="250.85" y="374.90" width="7.36" height="7.29" fill="#9ad87a"/>
<rect x="258.16" y="374.90" width="7.36" height="7.29" fill="#9ad87a"/>
<rect x="265.47" y="374.90" width="7.36" height="7.29" fill="#9ad87a"/>
<rect x="272.78" y="374.90" width="7.36" height="7.29" fill="#9ad87a"/>
<rect x="280.09" y="374.90" width="7.36" height="7.29" fill="#9ad87a"/>
<rect x="287.40" y="374.90" width="7.36" height="7.29" fill="#9cd678"/>
<rect x="294.71" y="374.90" width="7.36" height="7.29" fill="#9ad87a"/>
<rect x="302.02" y="374.90" width="7.36" height="7.29" fill="#9ad87a"/>
<rect x="309.33" y="374.90" width="7.36" height="7.29" fill="#9cd678"/>
<rect x="316.64" y="374.90" width="7.36" height="7.29" fill="#9ad87a"/>
<rect x="323.95" y="374.90" width="7.36" height="7.29" fill="#ea7c32"/>
<rect x="331.26" y="374.90" width="7.36" height="7.29" fill="#9cd678"/>
<rect x="338.57" y="374.90" width="7.36" height="7.29" fill="#9ad87a"/>
<rect x="345.88" y="374.90" width="7.36" height="7.29" fill="#9ad87a"/>
<rect x="214.30" y="382.14" width="7.36" height="7.29" fill="#c4a94b"/>
<rect x="221.61" y="382.14" width="7.36" height="7.29" fill="#c4a94b"/>
<rect x="228.92" y="382.14" width="7.36" height="7.29" fill="#c4a94b"/>
<rect x="236.23" y="382.14" width="7.36" height="7.29" fill="#c4a94b"/>
<rect x="243.54" y="382.14" width="7.36" height="7.29" fill="#c4a94b"/>
<rect x="250.85" y="382.14" width="7.36" height="7.29" fill="#c4a94b"/>
<rect x="258.16" y="382.14" width="7.36" height="7.29" fill="#c4a94b"/>
<rect x="265.47" y="382.14" width="7.36" height="7.29" fill="#c4a94b"/>
<rect x="272.78" y="382.14" width="7.36" height="7.29" fill="#c4a94b"/>
<rect x="280.09" y="382.14" width="7.36" height="7.29" fill="#c4a94b"/>
<rect x="287.40" y="382.14" width="7.36" height="7.29" fill="#bcb452"/>
<rect x="294.71" y="382.14" width="7.36" height="7.29" fill="#bcb452"/>
<rect x="302.02" y="382.14" width="7.36" height="7.29" fill="#9cd678"/>
<rect x="309.33" y="382.14" width="7.36" height="7.29" fill="#aac864"/>
<rect x="316.64" y="382.14" width="7.36" height="7.29" fill="#9cd678"/>
<rect x="323.95" y="382.14" width="7.36" height="7.29" fill="#9cd678"/>
<rect x="331.26" y="382.14" width="7.36" height="7.29" fill="#ea7c32"/>
<rect x="338.57" y="382.14" width="7.36" height="7.29" fill="#9ad87a"/>
<rect x="345.88" y="382.14" width="7.36" height="7.29" fill="#9ad87a"/>
<rect x="214.30" y="389.38" width="7.36" height="7.29" fill="#9ad87a"/>
<rect x="221.61" y="389.38" width="7.36" height="7.29" fill="#9ad87a"/>
<rect x="228.92" y="389.38" width="7.36" height="7.29" fill="#9ad87a"/>
<rect x="236.23" y="389.38" width="7.36" height="7.29" fill="#9ad87a"/>
<rect x="243.54" y="389.38" width="7.36" height="7.29" fill="#9ad87a"/>
<rect x="250.85" y="389.38" width="7.36" height="7.29" fill="#9ad87a"/>
<rect x="258.16" y="389.38" width="7.36" height="7.29" fill="#9ad87a"/>
<rect x="265.47" y="389.38" width="7.36" height="7.29" fill="#9ad87a"/>
<rect x="272.78" y="389.38" width="7.36" height="7.29" fill="#9ad87a"/>
<rect x="280.09" y="389.38" width="7.36" height="7.29" fill="#9ad87a"/>
<rect x="287.40" y="389.38" width="7.36" height="7.29" fill="#9cd678"/>
<rect x="294.71" y="389.38" width="7.36" height="7.29" fill="#9ad87a"/>
<rect x="302.02" y="389.38" width="7.36" height="7.29" fill="#9ad87a"/>
<rect x="309.33" y="389.38" width="7.36" height="7.29" fill="#9cd678"/>
<rect x="316.64" y="389.38" width="7.36" height="7.29" fill="#9ad87a"/>
<rect x="323.95" y="389.38" width="7.36" height="7.29" fill="#9ad87a"/>
<rect x="331.26" y="389.38" width="7.36" height="7.29" fill="#9ad87a"/>
<rect x="338.57" y="389.38" width="7.36" height="7.29" fill="#ea7c32"/>
<rect x="345.88" y="389.38" width="7.36" height="7.29" fill="#9ad87a"/>
<rect x="214.30" y="396.62" width="7.36" height="7.29" fill="#9ad87a"/>
<rect x="221.61" y="396.62" width="7.36" height="7.29" fill="#9ad87a"/>
<rect x="228.92" y="396.62" width="7.36" height="7.29" fill="#9ad87a"/>
<rect x="236.23" y="396.62" width="7.36" height="7.29" fill="#9ad87a"/>
<rect x="243.54" y="396.62" width="7.36" height="7.29" fill="#9ad87a"/>
<rect x="250.85" y="396.62" width="7.36" height="7.29" fill="#9ad87a"/>
<rect x="258.16" y="396.62" width="7.36" height="7.29" fill="#9ad87a"/>
<rect x="265.47" y="396.62" width="7.36" height="7.29" fill="#9ad87a"/>
<rect x="272.78" y="396.62" width="7.36" height="7.29" fill="#9ad87a"/>
<rect x="280.09" y="396.62" width="7.36" height="7.29" fill="#9ad87a"/>
<rect x="287.40" y="396.62" width="7.36" height="7.29" fill="#9ad87a"/>
<rect x="294.71" y="396.62" width="7.36" height="7.29" fill="#aac864"/>
<rect x="302.02" y="396.62" width="7.36" height="7.29" fill="#9ad87a"/>
<rect x="309.33" y="396.62" width="7.36" height="7.29" fill="#9ad87a"/>
<rect x="316.64" y="396.62" width="7.36" height="7.29" fill="#9ad87a"/>
<rect x="323.95" y="396.62" width="7.36" height="7.29" fill="#9ad87a"/>
<rect x="331.26" y="396.62" width="7.36" height="7.29" fill="#9ad87a"/>
<rect x="338.57" y="396.62" width="7.36" height="7.29" fill="#9ad87a"/>
<rect x="345.88" y="396.62" width="7.36" height="7.29" fill="#ea7c32"/>
<line x1="221.61" y1="266.30" x2="221.61" y2="403.86" stroke="#fff" stroke-opacity="0.42" stroke-width="0.85"/>
<line x1="214.30" y1="273.54" x2="353.19" y2="273.54" stroke="#fff" stroke-opacity="0.42" stroke-width="0.85"/>
<line x1="228.92" y1="266.30" x2="228.92" y2="403.86" stroke="#fff" stroke-opacity="0.42" stroke-width="0.85"/>
<line x1="214.30" y1="280.78" x2="353.19" y2="280.78" stroke="#fff" stroke-opacity="0.42" stroke-width="0.85"/>
<line x1="236.23" y1="266.30" x2="236.23" y2="403.86" stroke="#fff" stroke-opacity="0.42" stroke-width="0.85"/>
<line x1="214.30" y1="288.02" x2="353.19" y2="288.02" stroke="#fff" stroke-opacity="0.42" stroke-width="0.85"/>
<line x1="243.54" y1="266.30" x2="243.54" y2="403.86" stroke="#fff" stroke-opacity="0.42" stroke-width="0.85"/>
<line x1="214.30" y1="295.26" x2="353.19" y2="295.26" stroke="#fff" stroke-opacity="0.42" stroke-width="0.85"/>
<line x1="250.85" y1="266.30" x2="250.85" y2="403.86" stroke="#fff" stroke-opacity="0.42" stroke-width="0.85"/>
<line x1="214.30" y1="302.50" x2="353.19" y2="302.50" stroke="#fff" stroke-opacity="0.42" stroke-width="0.85"/>
<line x1="258.16" y1="266.30" x2="258.16" y2="403.86" stroke="#fff" stroke-opacity="0.42" stroke-width="0.85"/>
<line x1="214.30" y1="309.74" x2="353.19" y2="309.74" stroke="#fff" stroke-opacity="0.42" stroke-width="0.85"/>
<line x1="265.47" y1="266.30" x2="265.47" y2="403.86" stroke="#fff" stroke-opacity="0.42" stroke-width="0.85"/>
<line x1="214.30" y1="316.98" x2="353.19" y2="316.98" stroke="#fff" stroke-opacity="0.42" stroke-width="0.85"/>
<line x1="272.78" y1="266.30" x2="272.78" y2="403.86" stroke="#fff" stroke-opacity="0.42" stroke-width="0.85"/>
<line x1="214.30" y1="324.22" x2="353.19" y2="324.22" stroke="#fff" stroke-opacity="0.42" stroke-width="0.85"/>
<line x1="280.09" y1="266.30" x2="280.09" y2="403.86" stroke="#fff" stroke-opacity="0.42" stroke-width="0.85"/>
<line x1="214.30" y1="331.46" x2="353.19" y2="331.46" stroke="#fff" stroke-opacity="0.42" stroke-width="0.85"/>
<line x1="287.40" y1="266.30" x2="287.40" y2="403.86" stroke="#fff" stroke-opacity="0.42" stroke-width="0.85"/>
<line x1="214.30" y1="338.70" x2="353.19" y2="338.70" stroke="#fff" stroke-opacity="0.42" stroke-width="0.85"/>
<line x1="294.71" y1="266.30" x2="294.71" y2="403.86" stroke="#fff" stroke-opacity="0.42" stroke-width="0.85"/>
<line x1="214.30" y1="345.94" x2="353.19" y2="345.94" stroke="#fff" stroke-opacity="0.42" stroke-width="0.85"/>
<line x1="302.02" y1="266.30" x2="302.02" y2="403.86" stroke="#fff" stroke-opacity="0.42" stroke-width="0.85"/>
<line x1="214.30" y1="353.18" x2="353.19" y2="353.18" stroke="#fff" stroke-opacity="0.42" stroke-width="0.85"/>
<line x1="309.33" y1="266.30" x2="309.33" y2="403.86" stroke="#fff" stroke-opacity="0.42" stroke-width="0.85"/>
<line x1="214.30" y1="360.42" x2="353.19" y2="360.42" stroke="#fff" stroke-opacity="0.42" stroke-width="0.85"/>
<line x1="316.64" y1="266.30" x2="316.64" y2="403.86" stroke="#fff" stroke-opacity="0.42" stroke-width="0.85"/>
<line x1="214.30" y1="367.66" x2="353.19" y2="367.66" stroke="#fff" stroke-opacity="0.42" stroke-width="0.85"/>
<line x1="323.95" y1="266.30" x2="323.95" y2="403.86" stroke="#fff" stroke-opacity="0.42" stroke-width="0.85"/>
<line x1="214.30" y1="374.90" x2="353.19" y2="374.90" stroke="#fff" stroke-opacity="0.42" stroke-width="0.85"/>
<line x1="331.26" y1="266.30" x2="331.26" y2="403.86" stroke="#fff" stroke-opacity="0.42" stroke-width="0.85"/>
<line x1="214.30" y1="382.14" x2="353.19" y2="382.14" stroke="#fff" stroke-opacity="0.42" stroke-width="0.85"/>
<line x1="338.57" y1="266.30" x2="338.57" y2="403.86" stroke="#fff" stroke-opacity="0.42" stroke-width="0.85"/>
<line x1="214.30" y1="389.38" x2="353.19" y2="389.38" stroke="#fff" stroke-opacity="0.42" stroke-width="0.85"/>
<line x1="345.88" y1="266.30" x2="345.88" y2="403.86" stroke="#fff" stroke-opacity="0.42" stroke-width="0.85"/>
<line x1="214.30" y1="396.62" x2="353.19" y2="396.62" stroke="#fff" stroke-opacity="0.42" stroke-width="0.85"/>
<rect x="214.30" y="266.30" width="43.86" height="43.44" fill="none" stroke="#3333b0" stroke-width="1"/>
<rect x="258.16" y="309.74" width="29.24" height="28.96" fill="none" stroke="#3333b0" stroke-width="1"/>
<rect x="287.40" y="338.70" width="65.79" height="65.16" fill="none" stroke="#3333b0" stroke-width="1"/>
<rect x="66.20" y="434.20" width="7.21" height="7.24" fill="#e68236"/>
<rect x="73.36" y="434.20" width="7.21" height="7.24" fill="#c4a94b"/>
<rect x="80.52" y="434.20" width="7.21" height="7.24" fill="#bcb452"/>
<rect x="87.68" y="434.20" width="7.21" height="7.24" fill="#bcb452"/>
<rect x="94.84" y="434.20" width="7.21" height="7.24" fill="#dc8e3a"/>
<rect x="102.00" y="434.20" width="7.21" height="7.24" fill="#aac864"/>
<rect x="109.16" y="434.20" width="7.21" height="7.24" fill="#bcb452"/>
<rect x="116.32" y="434.20" width="7.21" height="7.24" fill="#bcb452"/>
<rect x="123.48" y="434.20" width="7.21" height="7.24" fill="#d4963f"/>
<rect x="130.64" y="434.20" width="7.21" height="7.24" fill="#d4963f"/>
<rect x="137.80" y="434.20" width="7.21" height="7.24" fill="#9ad87a"/>
<rect x="144.96" y="434.20" width="7.21" height="7.24" fill="#c4a94b"/>
<rect x="152.12" y="434.20" width="7.21" height="7.24" fill="#c4a94b"/>
<rect x="159.28" y="434.20" width="7.21" height="7.24" fill="#aac864"/>
<rect x="166.44" y="434.20" width="7.21" height="7.24" fill="#d4963f"/>
<rect x="173.60" y="434.20" width="7.21" height="7.24" fill="#a3cf6e"/>
<rect x="180.76" y="434.20" width="7.21" height="7.24" fill="#a3cf6e"/>
<rect x="187.92" y="434.20" width="7.21" height="7.24" fill="#aac864"/>
<rect x="195.08" y="434.20" width="7.21" height="7.24" fill="#a3cf6e"/>
<rect x="66.20" y="441.39" width="7.21" height="7.24" fill="#c4a94b"/>
<rect x="73.36" y="441.39" width="7.21" height="7.24" fill="#ea7c32"/>
<rect x="80.52" y="441.39" width="7.21" height="7.24" fill="#bcb452"/>
<rect x="87.68" y="441.39" width="7.21" height="7.24" fill="#bcb452"/>
<rect x="94.84" y="441.39" width="7.21" height="7.24" fill="#d4963f"/>
<rect x="102.00" y="441.39" width="7.21" height="7.24" fill="#9cd678"/>
<rect x="109.16" y="441.39" width="7.21" height="7.24" fill="#bcb452"/>
<rect x="116.32" y="441.39" width="7.21" height="7.24" fill="#bcb452"/>
<rect x="123.48" y="441.39" width="7.21" height="7.24" fill="#cc9e44"/>
<rect x="130.64" y="441.39" width="7.21" height="7.24" fill="#cc9e44"/>
<rect x="137.80" y="441.39" width="7.21" height="7.24" fill="#9ad87a"/>
<rect x="144.96" y="441.39" width="7.21" height="7.24" fill="#c4a94b"/>
<rect x="152.12" y="441.39" width="7.21" height="7.24" fill="#bcb452"/>
<rect x="159.28" y="441.39" width="7.21" height="7.24" fill="#aac864"/>
<rect x="166.44" y="441.39" width="7.21" height="7.24" fill="#bcb452"/>
<rect x="173.60" y="441.39" width="7.21" height="7.24" fill="#a3cf6e"/>
<rect x="180.76" y="441.39" width="7.21" height="7.24" fill="#a3cf6e"/>
<rect x="187.92" y="441.39" width="7.21" height="7.24" fill="#aac864"/>
<rect x="195.08" y="441.39" width="7.21" height="7.24" fill="#aac864"/>
<rect x="66.20" y="448.58" width="7.21" height="7.24" fill="#bcb452"/>
<rect x="73.36" y="448.58" width="7.21" height="7.24" fill="#bcb452"/>
<rect x="80.52" y="448.58" width="7.21" height="7.24" fill="#ea7c32"/>
<rect x="87.68" y="448.58" width="7.21" height="7.24" fill="#dc8e3a"/>
<rect x="94.84" y="448.58" width="7.21" height="7.24" fill="#bcb452"/>
<rect x="102.00" y="448.58" width="7.21" height="7.24" fill="#aac864"/>
<rect x="109.16" y="448.58" width="7.21" height="7.24" fill="#bcb452"/>
<rect x="116.32" y="448.58" width="7.21" height="7.24" fill="#bcb452"/>
<rect x="123.48" y="448.58" width="7.21" height="7.24" fill="#bcb452"/>
<rect x="130.64" y="448.58" width="7.21" height="7.24" fill="#bcb452"/>
<rect x="137.80" y="448.58" width="7.21" height="7.24" fill="#9ad87a"/>
<rect x="144.96" y="448.58" width="7.21" height="7.24" fill="#c4a94b"/>
<rect x="152.12" y="448.58" width="7.21" height="7.24" fill="#aac864"/>
<rect x="159.28" y="448.58" width="7.21" height="7.24" fill="#b3be5b"/>
<rect x="166.44" y="448.58" width="7.21" height="7.24" fill="#aac864"/>
<rect x="173.60" y="448.58" width="7.21" height="7.24" fill="#a3cf6e"/>
<rect x="180.76" y="448.58" width="7.21" height="7.24" fill="#a3cf6e"/>
<rect x="187.92" y="448.58" width="7.21" height="7.24" fill="#cc9e44"/>
<rect x="195.08" y="448.58" width="7.21" height="7.24" fill="#a3cf6e"/>
<rect x="66.20" y="455.77" width="7.21" height="7.24" fill="#bcb452"/>
<rect x="73.36" y="455.77" width="7.21" height="7.24" fill="#bcb452"/>
<rect x="80.52" y="455.77" width="7.21" height="7.24" fill="#dc8e3a"/>
<rect x="87.68" y="455.77" width="7.21" height="7.24" fill="#ea7c32"/>
<rect x="94.84" y="455.77" width="7.21" height="7.24" fill="#bcb452"/>
<rect x="102.00" y="455.77" width="7.21" height="7.24" fill="#9cd678"/>
<rect x="109.16" y="455.77" width="7.21" height="7.24" fill="#bcb452"/>
<rect x="116.32" y="455.77" width="7.21" height="7.24" fill="#d4963f"/>
<rect x="123.48" y="455.77" width="7.21" height="7.24" fill="#c4a94b"/>
<rect x="130.64" y="455.77" width="7.21" height="7.24" fill="#bcb452"/>
<rect x="137.80" y="455.77" width="7.21" height="7.24" fill="#9ad87a"/>
<rect x="144.96" y="455.77" width="7.21" height="7.24" fill="#c4a94b"/>
<rect x="152.12" y="455.77" width="7.21" height="7.24" fill="#aac864"/>
<rect x="159.28" y="455.77" width="7.21" height="7.24" fill="#cc9e44"/>
<rect x="166.44" y="455.77" width="7.21" height="7.24" fill="#aac864"/>
<rect x="173.60" y="455.77" width="7.21" height="7.24" fill="#a3cf6e"/>
<rect x="180.76" y="455.77" width="7.21" height="7.24" fill="#a3cf6e"/>
<rect x="187.92" y="455.77" width="7.21" height="7.24" fill="#cc9e44"/>
<rect x="195.08" y="455.77" width="7.21" height="7.24" fill="#a3cf6e"/>
<rect x="66.20" y="462.96" width="7.21" height="7.24" fill="#dc8e3a"/>
<rect x="73.36" y="462.96" width="7.21" height="7.24" fill="#d4963f"/>
<rect x="80.52" y="462.96" width="7.21" height="7.24" fill="#bcb452"/>
<rect x="87.68" y="462.96" width="7.21" height="7.24" fill="#bcb452"/>
<rect x="94.84" y="462.96" width="7.21" height="7.24" fill="#ea7c32"/>
<rect x="102.00" y="462.96" width="7.21" height="7.24" fill="#aac864"/>
<rect x="109.16" y="462.96" width="7.21" height="7.24" fill="#c4a94b"/>
<rect x="116.32" y="462.96" width="7.21" height="7.24" fill="#bcb452"/>
<rect x="123.48" y="462.96" width="7.21" height="7.24" fill="#cc9e44"/>
<rect x="130.64" y="462.96" width="7.21" height="7.24" fill="#d4963f"/>
<rect x="137.80" y="462.96" width="7.21" height="7.24" fill="#9ad87a"/>
<rect x="144.96" y="462.96" width="7.21" height="7.24" fill="#c4a94b"/>
<rect x="152.12" y="462.96" width="7.21" height="7.24" fill="#c4a94b"/>
<rect x="159.28" y="462.96" width="7.21" height="7.24" fill="#aac864"/>
<rect x="166.44" y="462.96" width="7.21" height="7.24" fill="#dc8e3a"/>
<rect x="173.60" y="462.96" width="7.21" height="7.24" fill="#9cd678"/>
<rect x="180.76" y="462.96" width="7.21" height="7.24" fill="#a3cf6e"/>
<rect x="187.92" y="462.96" width="7.21" height="7.24" fill="#aac864"/>
<rect x="195.08" y="462.96" width="7.21" height="7.24" fill="#b3be5b"/>
<rect x="66.20" y="470.15" width="7.21" height="7.24" fill="#aac864"/>
<rect x="73.36" y="470.15" width="7.21" height="7.24" fill="#9cd678"/>
<rect x="80.52" y="470.15" width="7.21" height="7.24" fill="#aac864"/>
<rect x="87.68" y="470.15" width="7.21" height="7.24" fill="#9cd678"/>
<rect x="94.84" y="470.15" width="7.21" height="7.24" fill="#aac864"/>
<rect x="102.00" y="470.15" width="7.21" height="7.24" fill="#ea7c32"/>
<rect x="109.16" y="470.15" width="7.21" height="7.24" fill="#9cd678"/>
<rect x="116.32" y="470.15" width="7.21" height="7.24" fill="#aac864"/>
<rect x="123.48" y="470.15" width="7.21" height="7.24" fill="#aac864"/>
<rect x="130.64" y="470.15" width="7.21" height="7.24" fill="#aac864"/>
<rect x="137.80" y="470.15" width="7.21" height="7.24" fill="#9ad87a"/>
<rect x="144.96" y="470.15" width="7.21" height="7.24" fill="#9cd678"/>
<rect x="152.12" y="470.15" width="7.21" height="7.24" fill="#9cd678"/>
<rect x="159.28" y="470.15" width="7.21" height="7.24" fill="#9cd678"/>
<rect x="166.44" y="470.15" width="7.21" height="7.24" fill="#9cd678"/>
<rect x="173.60" y="470.15" width="7.21" height="7.24" fill="#9cd678"/>
<rect x="180.76" y="470.15" width="7.21" height="7.24" fill="#9cd678"/>
<rect x="187.92" y="470.15" width="7.21" height="7.24" fill="#9cd678"/>
<rect x="195.08" y="470.15" width="7.21" height="7.24" fill="#9cd678"/>
<rect x="66.20" y="477.34" width="7.21" height="7.24" fill="#bcb452"/>
<rect x="73.36" y="477.34" width="7.21" height="7.24" fill="#bcb452"/>
<rect x="80.52" y="477.34" width="7.21" height="7.24" fill="#bcb452"/>
<rect x="87.68" y="477.34" width="7.21" height="7.24" fill="#bcb452"/>
<rect x="94.84" y="477.34" width="7.21" height="7.24" fill="#c4a94b"/>
<rect x="102.00" y="477.34" width="7.21" height="7.24" fill="#9cd678"/>
<rect x="109.16" y="477.34" width="7.21" height="7.24" fill="#ea7c32"/>
<rect x="116.32" y="477.34" width="7.21" height="7.24" fill="#aac864"/>
<rect x="123.48" y="477.34" width="7.21" height="7.24" fill="#bcb452"/>
<rect x="130.64" y="477.34" width="7.21" height="7.24" fill="#bcb452"/>
<rect x="137.80" y="477.34" width="7.21" height="7.24" fill="#9ad87a"/>
<rect x="144.96" y="477.34" width="7.21" height="7.24" fill="#aac864"/>
<rect x="152.12" y="477.34" width="7.21" height="7.24" fill="#aac864"/>
<rect x="159.28" y="477.34" width="7.21" height="7.24" fill="#aac864"/>
<rect x="166.44" y="477.34" width="7.21" height="7.24" fill="#aac864"/>
<rect x="173.60" y="477.34" width="7.21" height="7.24" fill="#9cd678"/>
<rect x="180.76" y="477.34" width="7.21" height="7.24" fill="#9cd678"/>
<rect x="187.92" y="477.34" width="7.21" height="7.24" fill="#aac864"/>
<rect x="195.08" y="477.34" width="7.21" height="7.24" fill="#9cd678"/>
<rect x="66.20" y="484.53" width="7.21" height="7.24" fill="#bcb452"/>
<rect x="73.36" y="484.53" width="7.21" height="7.24" fill="#bcb452"/>
<rect x="80.52" y="484.53" width="7.21" height="7.24" fill="#bcb452"/>
<rect x="87.68" y="484.53" width="7.21" height="7.24" fill="#d4963f"/>
<rect x="94.84" y="484.53" width="7.21" height="7.24" fill="#bcb452"/>
<rect x="102.00" y="484.53" width="7.21" height="7.24" fill="#aac864"/>
<rect x="109.16" y="484.53" width="7.21" height="7.24" fill="#aac864"/>
<rect x="116.32" y="484.53" width="7.21" height="7.24" fill="#ea7c32"/>
<rect x="123.48" y="484.53" width="7.21" height="7.24" fill="#bcb452"/>
<rect x="130.64" y="484.53" width="7.21" height="7.24" fill="#bcb452"/>
<rect x="137.80" y="484.53" width="7.21" height="7.24" fill="#9ad87a"/>
<rect x="144.96" y="484.53" width="7.21" height="7.24" fill="#bcb452"/>
<rect x="152.12" y="484.53" width="7.21" height="7.24" fill="#b3be5b"/>
<rect x="159.28" y="484.53" width="7.21" height="7.24" fill="#cc9e44"/>
<rect x="166.44" y="484.53" width="7.21" height="7.24" fill="#aac864"/>
<rect x="173.60" y="484.53" width="7.21" height="7.24" fill="#a3cf6e"/>
<rect x="180.76" y="484.53" width="7.21" height="7.24" fill="#a3cf6e"/>
<rect x="187.92" y="484.53" width="7.21" height="7.24" fill="#bcb452"/>
<rect x="195.08" y="484.53" width="7.21" height="7.24" fill="#a3cf6e"/>
<rect x="66.20" y="491.72" width="7.21" height="7.24" fill="#d4963f"/>
<rect x="73.36" y="491.72" width="7.21" height="7.24" fill="#cc9e44"/>
<rect x="80.52" y="491.72" width="7.21" height="7.24" fill="#bcb452"/>
<rect x="87.68" y="491.72" width="7.21" height="7.24" fill="#c4a94b"/>
<rect x="94.84" y="491.72" width="7.21" height="7.24" fill="#cc9e44"/>
<rect x="102.00" y="491.72" width="7.21" height="7.24" fill="#aac864"/>
<rect x="109.16" y="491.72" width="7.21" height="7.24" fill="#bcb452"/>
<rect x="116.32" y="491.72" width="7.21" height="7.24" fill="#bcb452"/>
<rect x="123.48" y="491.72" width="7.21" height="7.24" fill="#ea7c32"/>
<rect x="130.64" y="491.72" width="7.21" height="7.24" fill="#c4a94b"/>
<rect x="137.80" y="491.72" width="7.21" height="7.24" fill="#9ad87a"/>
<rect x="144.96" y="491.72" width="7.21" height="7.24" fill="#bcb452"/>
<rect x="152.12" y="491.72" width="7.21" height="7.24" fill="#cc9e44"/>
<rect x="159.28" y="491.72" width="7.21" height="7.24" fill="#aac864"/>
<rect x="166.44" y="491.72" width="7.21" height="7.24" fill="#c4a94b"/>
<rect x="173.60" y="491.72" width="7.21" height="7.24" fill="#a3cf6e"/>
<rect x="180.76" y="491.72" width="7.21" height="7.24" fill="#a3cf6e"/>
<rect x="187.92" y="491.72" width="7.21" height="7.24" fill="#aac864"/>
<rect x="195.08" y="491.72" width="7.21" height="7.24" fill="#aac864"/>
<rect x="66.20" y="498.91" width="7.21" height="7.24" fill="#d4963f"/>
<rect x="73.36" y="498.91" width="7.21" height="7.24" fill="#cc9e44"/>
<rect x="80.52" y="498.91" width="7.21" height="7.24" fill="#bcb452"/>
<rect x="87.68" y="498.91" width="7.21" height="7.24" fill="#bcb452"/>
<rect x="94.84" y="498.91" width="7.21" height="7.24" fill="#d4963f"/>
<rect x="102.00" y="498.91" width="7.21" height="7.24" fill="#aac864"/>
<rect x="109.16" y="498.91" width="7.21" height="7.24" fill="#bcb452"/>
<rect x="116.32" y="498.91" width="7.21" height="7.24" fill="#bcb452"/>
<rect x="123.48" y="498.91" width="7.21" height="7.24" fill="#c4a94b"/>
<rect x="130.64" y="498.91" width="7.21" height="7.24" fill="#ea7c32"/>
<rect x="137.80" y="498.91" width="7.21" height="7.24" fill="#9ad87a"/>
<rect x="144.96" y="498.91" width="7.21" height="7.24" fill="#b3be5b"/>
<rect x="152.12" y="498.91" width="7.21" height="7.24" fill="#bcb452"/>
<rect x="159.28" y="498.91" width="7.21" height="7.24" fill="#aac864"/>
<rect x="166.44" y="498.91" width="7.21" height="7.24" fill="#c4a94b"/>
<rect x="173.60" y="498.91" width="7.21" height="7.24" fill="#a3cf6e"/>
<rect x="180.76" y="498.91" width="7.21" height="7.24" fill="#a3cf6e"/>
<rect x="187.92" y="498.91" width="7.21" height="7.24" fill="#aac864"/>
<rect x="195.08" y="498.91" width="7.21" height="7.24" fill="#a3cf6e"/>
<rect x="66.20" y="506.10" width="7.21" height="7.24" fill="#9ad87a"/>
<rect x="73.36" y="506.10" width="7.21" height="7.24" fill="#9ad87a"/>
<rect x="80.52" y="506.10" width="7.21" height="7.24" fill="#9ad87a"/>
<rect x="87.68" y="506.10" width="7.21" height="7.24" fill="#9ad87a"/>
<rect x="94.84" y="506.10" width="7.21" height="7.24" fill="#9ad87a"/>
<rect x="102.00" y="506.10" width="7.21" height="7.24" fill="#9ad87a"/>
<rect x="109.16" y="506.10" width="7.21" height="7.24" fill="#9ad87a"/>
<rect x="116.32" y="506.10" width="7.21" height="7.24" fill="#9ad87a"/>
<rect x="123.48" y="506.10" width="7.21" height="7.24" fill="#9ad87a"/>
<rect x="130.64" y="506.10" width="7.21" height="7.24" fill="#9ad87a"/>
<rect x="137.80" y="506.10" width="7.21" height="7.24" fill="#ea7c32"/>
<rect x="144.96" y="506.10" width="7.21" height="7.24" fill="#9ad87a"/>
<rect x="152.12" y="506.10" width="7.21" height="7.24" fill="#9ad87a"/>
<rect x="159.28" y="506.10" width="7.21" height="7.24" fill="#9ad87a"/>
<rect x="166.44" y="506.10" width="7.21" height="7.24" fill="#9ad87a"/>
<rect x="173.60" y="506.10" width="7.21" height="7.24" fill="#9ad87a"/>
<rect x="180.76" y="506.10" width="7.21" height="7.24" fill="#9ad87a"/>
<rect x="187.92" y="506.10" width="7.21" height="7.24" fill="#9ad87a"/>
<rect x="195.08" y="506.10" width="7.21" height="7.24" fill="#9ad87a"/>
<rect x="66.20" y="513.29" width="7.21" height="7.24" fill="#c4a94b"/>
<rect x="73.36" y="513.29" width="7.21" height="7.24" fill="#c4a94b"/>
<rect x="80.52" y="513.29" width="7.21" height="7.24" fill="#c4a94b"/>
<rect x="87.68" y="513.29" width="7.21" height="7.24" fill="#c4a94b"/>
<rect x="94.84" y="513.29" width="7.21" height="7.24" fill="#c4a94b"/>
<rect x="102.00" y="513.29" width="7.21" height="7.24" fill="#9cd678"/>
<rect x="109.16" y="513.29" width="7.21" height="7.24" fill="#aac864"/>
<rect x="116.32" y="513.29" width="7.21" height="7.24" fill="#bcb452"/>
<rect x="123.48" y="513.29" width="7.21" height="7.24" fill="#bcb452"/>
<rect x="130.64" y="513.29" width="7.21" height="7.24" fill="#b3be5b"/>
<rect x="137.80" y="513.29" width="7.21" height="7.24" fill="#9ad87a"/>
<rect x="144.96" y="513.29" width="7.21" height="7.24" fill="#ea7c32"/>
<rect x="152.12" y="513.29" width="7.21" height="7.24" fill="#c4a94b"/>
<rect x="159.28" y="513.29" width="7.21" height="7.24" fill="#aac864"/>
<rect x="166.44" y="513.29" width="7.21" height="7.24" fill="#aac864"/>
<rect x="173.60" y="513.29" width="7.21" height="7.24" fill="#9cd678"/>
<rect x="180.76" y="513.29" width="7.21" height="7.24" fill="#aac864"/>
<rect x="187.92" y="513.29" width="7.21" height="7.24" fill="#bcb452"/>
<rect x="195.08" y="513.29" width="7.21" height="7.24" fill="#9cd678"/>
<rect x="66.20" y="520.48" width="7.21" height="7.24" fill="#c4a94b"/>
<rect x="73.36" y="520.48" width="7.21" height="7.24" fill="#bcb452"/>
<rect x="80.52" y="520.48" width="7.21" height="7.24" fill="#aac864"/>
<rect x="87.68" y="520.48" width="7.21" height="7.24" fill="#aac864"/>
<rect x="94.84" y="520.48" width="7.21" height="7.24" fill="#c4a94b"/>
<rect x="102.00" y="520.48" width="7.21" height="7.24" fill="#9cd678"/>
<rect x="109.16" y="520.48" width="7.21" height="7.24" fill="#aac864"/>
<rect x="116.32" y="520.48" width="7.21" height="7.24" fill="#b3be5b"/>
<rect x="123.48" y="520.48" width="7.21" height="7.24" fill="#cc9e44"/>
<rect x="130.64" y="520.48" width="7.21" height="7.24" fill="#bcb452"/>
<rect x="137.80" y="520.48" width="7.21" height="7.24" fill="#9ad87a"/>
<rect x="144.96" y="520.48" width="7.21" height="7.24" fill="#c4a94b"/>
<rect x="152.12" y="520.48" width="7.21" height="7.24" fill="#ea7c32"/>
<rect x="159.28" y="520.48" width="7.21" height="7.24" fill="#aac864"/>
<rect x="166.44" y="520.48" width="7.21" height="7.24" fill="#aac864"/>
<rect x="173.60" y="520.48" width="7.21" height="7.24" fill="#9cd678"/>
<rect x="180.76" y="520.48" width="7.21" height="7.24" fill="#aac864"/>
<rect x="187.92" y="520.48" width="7.21" height="7.24" fill="#aac864"/>
<rect x="195.08" y="520.48" width="7.21" height="7.24" fill="#9cd678"/>
<rect x="66.20" y="527.67" width="7.21" height="7.24" fill="#aac864"/>
<rect x="73.36" y="527.67" width="7.21" height="7.24" fill="#aac864"/>
<rect x="80.52" y="527.67" width="7.21" height="7.24" fill="#b3be5b"/>
<rect x="87.68" y="527.67" width="7.21" height="7.24" fill="#cc9e44"/>
<rect x="94.84" y="527.67" width="7.21" height="7.24" fill="#aac864"/>
<rect x="102.00" y="527.67" width="7.21" height="7.24" fill="#9cd678"/>
<rect x="109.16" y="527.67" width="7.21" height="7.24" fill="#aac864"/>
<rect x="116.32" y="527.67" width="7.21" height="7.24" fill="#cc9e44"/>
<rect x="123.48" y="527.67" width="7.21" height="7.24" fill="#aac864"/>
<rect x="130.64" y="527.67" width="7.21" height="7.24" fill="#aac864"/>
<rect x="137.80" y="527.67" width="7.21" height="7.24" fill="#9ad87a"/>
<rect x="144.96" y="527.67" width="7.21" height="7.24" fill="#aac864"/>
<rect x="152.12" y="527.67" width="7.21" height="7.24" fill="#aac864"/>
<rect x="159.28" y="527.67" width="7.21" height="7.24" fill="#ea7c32"/>
<rect x="166.44" y="527.67" width="7.21" height="7.24" fill="#9cd678"/>
<rect x="173.60" y="527.67" width="7.21" height="7.24" fill="#bcb452"/>
<rect x="180.76" y="527.67" width="7.21" height="7.24" fill="#aac864"/>
<rect x="187.92" y="527.67" width="7.21" height="7.24" fill="#bcb452"/>
<rect x="195.08" y="527.67" width="7.21" height="7.24" fill="#9cd678"/>
<rect x="66.20" y="534.86" width="7.21" height="7.24" fill="#d4963f"/>
<rect x="73.36" y="534.86" width="7.21" height="7.24" fill="#bcb452"/>
<rect x="80.52" y="534.86" width="7.21" height="7.24" fill="#aac864"/>
<rect x="87.68" y="534.86" width="7.21" height="7.24" fill="#aac864"/>
<rect x="94.84" y="534.86" width="7.21" height="7.24" fill="#dc8e3a"/>
<rect x="102.00" y="534.86" width="7.21" height="7.24" fill="#9cd678"/>
<rect x="109.16" y="534.86" width="7.21" height="7.24" fill="#aac864"/>
<rect x="116.32" y="534.86" width="7.21" height="7.24" fill="#aac864"/>
<rect x="123.48" y="534.86" width="7.21" height="7.24" fill="#c4a94b"/>
<rect x="130.64" y="534.86" width="7.21" height="7.24" fill="#c4a94b"/>
<rect x="137.80" y="534.86" width="7.21" height="7.24" fill="#9ad87a"/>
<rect x="144.96" y="534.86" width="7.21" height="7.24" fill="#aac864"/>
<rect x="152.12" y="534.86" width="7.21" height="7.24" fill="#aac864"/>
<rect x="159.28" y="534.86" width="7.21" height="7.24" fill="#9cd678"/>
<rect x="166.44" y="534.86" width="7.21" height="7.24" fill="#ea7c32"/>
<rect x="173.60" y="534.86" width="7.21" height="7.24" fill="#9cd678"/>
<rect x="180.76" y="534.86" width="7.21" height="7.24" fill="#aac864"/>
<rect x="187.92" y="534.86" width="7.21" height="7.24" fill="#9cd678"/>
<rect x="195.08" y="534.86" width="7.21" height="7.24" fill="#9cd678"/>
<rect x="66.20" y="542.05" width="7.21" height="7.24" fill="#a3cf6e"/>
<rect x="73.36" y="542.05" width="7.21" height="7.24" fill="#a3cf6e"/>
<rect x="80.52" y="542.05" width="7.21" height="7.24" fill="#a3cf6e"/>
<rect x="87.68" y="542.05" width="7.21" height="7.24" fill="#a3cf6e"/>
<rect x="94.84" y="542.05" width="7.21" height="7.24" fill="#9cd678"/>
<rect x="102.00" y="542.05" width="7.21" height="7.24" fill="#9cd678"/>
<rect x="109.16" y="542.05" width="7.21" height="7.24" fill="#9cd678"/>
<rect x="116.32" y="542.05" width="7.21" height="7.24" fill="#a3cf6e"/>
<rect x="123.48" y="542.05" width="7.21" height="7.24" fill="#a3cf6e"/>
<rect x="130.64" y="542.05" width="7.21" height="7.24" fill="#a3cf6e"/>
<rect x="137.80" y="542.05" width="7.21" height="7.24" fill="#9ad87a"/>
<rect x="144.96" y="542.05" width="7.21" height="7.24" fill="#9cd678"/>
<rect x="152.12" y="542.05" width="7.21" height="7.24" fill="#9cd678"/>
<rect x="159.28" y="542.05" width="7.21" height="7.24" fill="#bcb452"/>
<rect x="166.44" y="542.05" width="7.21" height="7.24" fill="#9cd678"/>
<rect x="173.60" y="542.05" width="7.21" height="7.24" fill="#ea7c32"/>
<rect x="180.76" y="542.05" width="7.21" height="7.24" fill="#a3cf6e"/>
<rect x="187.92" y="542.05" width="7.21" height="7.24" fill="#9cd678"/>
<rect x="195.08" y="542.05" width="7.21" height="7.24" fill="#9cd678"/>
<rect x="66.20" y="549.24" width="7.21" height="7.24" fill="#a3cf6e"/>
<rect x="73.36" y="549.24" width="7.21" height="7.24" fill="#a3cf6e"/>
<rect x="80.52" y="549.24" width="7.21" height="7.24" fill="#a3cf6e"/>
<rect x="87.68" y="549.24" width="7.21" height="7.24" fill="#a3cf6e"/>
<rect x="94.84" y="549.24" width="7.21" height="7.24" fill="#a3cf6e"/>
<rect x="102.00" y="549.24" width="7.21" height="7.24" fill="#9cd678"/>
<rect x="109.16" y="549.24" width="7.21" height="7.24" fill="#9cd678"/>
<rect x="116.32" y="549.24" width="7.21" height="7.24" fill="#a3cf6e"/>
<rect x="123.48" y="549.24" width="7.21" height="7.24" fill="#a3cf6e"/>
<rect x="130.64" y="549.24" width="7.21" height="7.24" fill="#a3cf6e"/>
<rect x="137.80" y="549.24" width="7.21" height="7.24" fill="#9ad87a"/>
<rect x="144.96" y="549.24" width="7.21" height="7.24" fill="#aac864"/>
<rect x="152.12" y="549.24" width="7.21" height="7.24" fill="#aac864"/>
<rect x="159.28" y="549.24" width="7.21" height="7.24" fill="#aac864"/>
<rect x="166.44" y="549.24" width="7.21" height="7.24" fill="#aac864"/>
<rect x="173.60" y="549.24" width="7.21" height="7.24" fill="#a3cf6e"/>
<rect x="180.76" y="549.24" width="7.21" height="7.24" fill="#ea7c32"/>
<rect x="187.92" y="549.24" width="7.21" height="7.24" fill="#bcb452"/>
<rect x="195.08" y="549.24" width="7.21" height="7.24" fill="#9cd678"/>
<rect x="66.20" y="556.43" width="7.21" height="7.24" fill="#aac864"/>
<rect x="73.36" y="556.43" width="7.21" height="7.24" fill="#aac864"/>
<rect x="80.52" y="556.43" width="7.21" height="7.24" fill="#cc9e44"/>
<rect x="87.68" y="556.43" width="7.21" height="7.24" fill="#cc9e44"/>
<rect x="94.84" y="556.43" width="7.21" height="7.24" fill="#aac864"/>
<rect x="102.00" y="556.43" width="7.21" height="7.24" fill="#9cd678"/>
<rect x="109.16" y="556.43" width="7.21" height="7.24" fill="#aac864"/>
<rect x="116.32" y="556.43" width="7.21" height="7.24" fill="#bcb452"/>
<rect x="123.48" y="556.43" width="7.21" height="7.24" fill="#aac864"/>
<rect x="130.64" y="556.43" width="7.21" height="7.24" fill="#aac864"/>
<rect x="137.80" y="556.43" width="7.21" height="7.24" fill="#9ad87a"/>
<rect x="144.96" y="556.43" width="7.21" height="7.24" fill="#bcb452"/>
<rect x="152.12" y="556.43" width="7.21" height="7.24" fill="#aac864"/>
<rect x="159.28" y="556.43" width="7.21" height="7.24" fill="#bcb452"/>
<rect x="166.44" y="556.43" width="7.21" height="7.24" fill="#9cd678"/>
<rect x="173.60" y="556.43" width="7.21" height="7.24" fill="#9cd678"/>
<rect x="180.76" y="556.43" width="7.21" height="7.24" fill="#bcb452"/>
<rect x="187.92" y="556.43" width="7.21" height="7.24" fill="#ea7c32"/>
<rect x="195.08" y="556.43" width="7.21" height="7.24" fill="#9cd678"/>
<rect x="66.20" y="563.62" width="7.21" height="7.24" fill="#a3cf6e"/>
<rect x="73.36" y="563.62" width="7.21" height="7.24" fill="#aac864"/>
<rect x="80.52" y="563.62" width="7.21" height="7.24" fill="#a3cf6e"/>
<rect x="87.68" y="563.62" width="7.21" height="7.24" fill="#a3cf6e"/>
<rect x="94.84" y="563.62" width="7.21" height="7.24" fill="#b3be5b"/>
<rect x="102.00" y="563.62" width="7.21" height="7.24" fill="#9cd678"/>
<rect x="109.16" y="563.62" width="7.21" height="7.24" fill="#9cd678"/>
<rect x="116.32" y="563.62" width="7.21" height="7.24" fill="#a3cf6e"/>
<rect x="123.48" y="563.62" width="7.21" height="7.24" fill="#aac864"/>
<rect x="130.64" y="563.62" width="7.21" height="7.24" fill="#a3cf6e"/>
<rect x="137.80" y="563.62" width="7.21" height="7.24" fill="#9ad87a"/>
<rect x="144.96" y="563.62" width="7.21" height="7.24" fill="#9cd678"/>
<rect x="152.12" y="563.62" width="7.21" height="7.24" fill="#9cd678"/>
<rect x="159.28" y="563.62" width="7.21" height="7.24" fill="#9cd678"/>
<rect x="166.44" y="563.62" width="7.21" height="7.24" fill="#9cd678"/>
<rect x="173.60" y="563.62" width="7.21" height="7.24" fill="#9cd678"/>
<rect x="180.76" y="563.62" width="7.21" height="7.24" fill="#9cd678"/>
<rect x="187.92" y="563.62" width="7.21" height="7.24" fill="#9cd678"/>
<rect x="195.08" y="563.62" width="7.21" height="7.24" fill="#ea7c32"/>
<line x1="73.36" y1="434.20" x2="73.36" y2="570.81" stroke="#fff" stroke-opacity="0.42" stroke-width="0.85"/>
<line x1="66.20" y1="441.39" x2="202.24" y2="441.39" stroke="#fff" stroke-opacity="0.42" stroke-width="0.85"/>
<line x1="80.52" y1="434.20" x2="80.52" y2="570.81" stroke="#fff" stroke-opacity="0.42" stroke-width="0.85"/>
<line x1="66.20" y1="448.58" x2="202.24" y2="448.58" stroke="#fff" stroke-opacity="0.42" stroke-width="0.85"/>
<line x1="87.68" y1="434.20" x2="87.68" y2="570.81" stroke="#fff" stroke-opacity="0.42" stroke-width="0.85"/>
<line x1="66.20" y1="455.77" x2="202.24" y2="455.77" stroke="#fff" stroke-opacity="0.42" stroke-width="0.85"/>
<line x1="94.84" y1="434.20" x2="94.84" y2="570.81" stroke="#fff" stroke-opacity="0.42" stroke-width="0.85"/>
<line x1="66.20" y1="462.96" x2="202.24" y2="462.96" stroke="#fff" stroke-opacity="0.42" stroke-width="0.85"/>
<line x1="102.00" y1="434.20" x2="102.00" y2="570.81" stroke="#fff" stroke-opacity="0.42" stroke-width="0.85"/>
<line x1="66.20" y1="470.15" x2="202.24" y2="470.15" stroke="#fff" stroke-opacity="0.42" stroke-width="0.85"/>
<line x1="109.16" y1="434.20" x2="109.16" y2="570.81" stroke="#fff" stroke-opacity="0.42" stroke-width="0.85"/>
<line x1="66.20" y1="477.34" x2="202.24" y2="477.34" stroke="#fff" stroke-opacity="0.42" stroke-width="0.85"/>
<line x1="116.32" y1="434.20" x2="116.32" y2="570.81" stroke="#fff" stroke-opacity="0.42" stroke-width="0.85"/>
<line x1="66.20" y1="484.53" x2="202.24" y2="484.53" stroke="#fff" stroke-opacity="0.42" stroke-width="0.85"/>
<line x1="123.48" y1="434.20" x2="123.48" y2="570.81" stroke="#fff" stroke-opacity="0.42" stroke-width="0.85"/>
<line x1="66.20" y1="491.72" x2="202.24" y2="491.72" stroke="#fff" stroke-opacity="0.42" stroke-width="0.85"/>
<line x1="130.64" y1="434.20" x2="130.64" y2="570.81" stroke="#fff" stroke-opacity="0.42" stroke-width="0.85"/>
<line x1="66.20" y1="498.91" x2="202.24" y2="498.91" stroke="#fff" stroke-opacity="0.42" stroke-width="0.85"/>
<line x1="137.80" y1="434.20" x2="137.80" y2="570.81" stroke="#fff" stroke-opacity="0.42" stroke-width="0.85"/>
<line x1="66.20" y1="506.10" x2="202.24" y2="506.10" stroke="#fff" stroke-opacity="0.42" stroke-width="0.85"/>
<line x1="144.96" y1="434.20" x2="144.96" y2="570.81" stroke="#fff" stroke-opacity="0.42" stroke-width="0.85"/>
<line x1="66.20" y1="513.29" x2="202.24" y2="513.29" stroke="#fff" stroke-opacity="0.42" stroke-width="0.85"/>
<line x1="152.12" y1="434.20" x2="152.12" y2="570.81" stroke="#fff" stroke-opacity="0.42" stroke-width="0.85"/>
<line x1="66.20" y1="520.48" x2="202.24" y2="520.48" stroke="#fff" stroke-opacity="0.42" stroke-width="0.85"/>
<line x1="159.28" y1="434.20" x2="159.28" y2="570.81" stroke="#fff" stroke-opacity="0.42" stroke-width="0.85"/>
<line x1="66.20" y1="527.67" x2="202.24" y2="527.67" stroke="#fff" stroke-opacity="0.42" stroke-width="0.85"/>
<line x1="166.44" y1="434.20" x2="166.44" y2="570.81" stroke="#fff" stroke-opacity="0.42" stroke-width="0.85"/>
<line x1="66.20" y1="534.86" x2="202.24" y2="534.86" stroke="#fff" stroke-opacity="0.42" stroke-width="0.85"/>
<line x1="173.60" y1="434.20" x2="173.60" y2="570.81" stroke="#fff" stroke-opacity="0.42" stroke-width="0.85"/>
<line x1="66.20" y1="542.05" x2="202.24" y2="542.05" stroke="#fff" stroke-opacity="0.42" stroke-width="0.85"/>
<line x1="180.76" y1="434.20" x2="180.76" y2="570.81" stroke="#fff" stroke-opacity="0.42" stroke-width="0.85"/>
<line x1="66.20" y1="549.24" x2="202.24" y2="549.24" stroke="#fff" stroke-opacity="0.42" stroke-width="0.85"/>
<line x1="187.92" y1="434.20" x2="187.92" y2="570.81" stroke="#fff" stroke-opacity="0.42" stroke-width="0.85"/>
<line x1="66.20" y1="556.43" x2="202.24" y2="556.43" stroke="#fff" stroke-opacity="0.42" stroke-width="0.85"/>
<line x1="195.08" y1="434.20" x2="195.08" y2="570.81" stroke="#fff" stroke-opacity="0.42" stroke-width="0.85"/>
<line x1="66.20" y1="563.62" x2="202.24" y2="563.62" stroke="#fff" stroke-opacity="0.42" stroke-width="0.85"/>
<rect x="66.20" y="434.20" width="42.96" height="43.14" fill="none" stroke="#3333b0" stroke-width="1"/>
<rect x="109.16" y="477.34" width="28.64" height="28.76" fill="none" stroke="#3333b0" stroke-width="1"/>
<rect x="137.80" y="506.10" width="64.44" height="64.71" fill="none" stroke="#3333b0" stroke-width="1"/>
<rect x="214.70" y="432.70" width="7.35" height="7.28" fill="#e68236"/>
<rect x="222.00" y="432.70" width="7.35" height="7.28" fill="#e18838"/>
<rect x="229.30" y="432.70" width="7.35" height="7.28" fill="#d4963f"/>
<rect x="236.60" y="432.70" width="7.35" height="7.28" fill="#d4963f"/>
<rect x="243.90" y="432.70" width="7.35" height="7.28" fill="#e68236"/>
<rect x="251.20" y="432.70" width="7.35" height="7.28" fill="#9cd678"/>
<rect x="258.50" y="432.70" width="7.35" height="7.28" fill="#d4963f"/>
<rect x="265.80" y="432.70" width="7.35" height="7.28" fill="#d4963f"/>
<rect x="273.10" y="432.70" width="7.35" height="7.28" fill="#d4963f"/>
<rect x="280.40" y="432.70" width="7.35" height="7.28" fill="#d4963f"/>
<rect x="287.70" y="432.70" width="7.35" height="7.28" fill="#c4a94b"/>
<rect x="295.00" y="432.70" width="7.35" height="7.28" fill="#9cd678"/>
<rect x="302.30" y="432.70" width="7.35" height="7.28" fill="#c4a94b"/>
<rect x="309.60" y="432.70" width="7.35" height="7.28" fill="#9bd779"/>
<rect x="316.90" y="432.70" width="7.35" height="7.28" fill="#a3cf6e"/>
<rect x="324.20" y="432.70" width="7.35" height="7.28" fill="#9bd779"/>
<rect x="331.50" y="432.70" width="7.35" height="7.28" fill="#c4a94b"/>
<rect x="338.80" y="432.70" width="7.35" height="7.28" fill="#9cd678"/>
<rect x="346.10" y="432.70" width="7.35" height="7.28" fill="#cc9e44"/>
<rect x="214.70" y="439.93" width="7.35" height="7.28" fill="#e18838"/>
<rect x="222.00" y="439.93" width="7.35" height="7.28" fill="#e68236"/>
<rect x="229.30" y="439.93" width="7.35" height="7.28" fill="#e68236"/>
<rect x="236.60" y="439.93" width="7.35" height="7.28" fill="#b3be5b"/>
<rect x="243.90" y="439.93" width="7.35" height="7.28" fill="#d4963f"/>
<rect x="251.20" y="439.93" width="7.35" height="7.28" fill="#9cd678"/>
<rect x="258.50" y="439.93" width="7.35" height="7.28" fill="#d4963f"/>
<rect x="265.80" y="439.93" width="7.35" height="7.28" fill="#d4963f"/>
<rect x="273.10" y="439.93" width="7.35" height="7.28" fill="#d4963f"/>
<rect x="280.40" y="439.93" width="7.35" height="7.28" fill="#d4963f"/>
<rect x="287.70" y="439.93" width="7.35" height="7.28" fill="#cc9e44"/>
<rect x="295.00" y="439.93" width="7.35" height="7.28" fill="#9cd678"/>
<rect x="302.30" y="439.93" width="7.35" height="7.28" fill="#aac864"/>
<rect x="309.60" y="439.93" width="7.35" height="7.28" fill="#9bd779"/>
<rect x="316.90" y="439.93" width="7.35" height="7.28" fill="#a3cf6e"/>
<rect x="324.20" y="439.93" width="7.35" height="7.28" fill="#9bd779"/>
<rect x="331.50" y="439.93" width="7.35" height="7.28" fill="#b3be5b"/>
<rect x="338.80" y="439.93" width="7.35" height="7.28" fill="#9cd678"/>
<rect x="346.10" y="439.93" width="7.35" height="7.28" fill="#b3be5b"/>
<rect x="214.70" y="447.16" width="7.35" height="7.28" fill="#d4963f"/>
<rect x="222.00" y="447.16" width="7.35" height="7.28" fill="#e68236"/>
<rect x="229.30" y="447.16" width="7.35" height="7.28" fill="#ea7c32"/>
<rect x="236.60" y="447.16" width="7.35" height="7.28" fill="#b3be5b"/>
<rect x="243.90" y="447.16" width="7.35" height="7.28" fill="#d4963f"/>
<rect x="251.20" y="447.16" width="7.35" height="7.28" fill="#9cd678"/>
<rect x="258.50" y="447.16" width="7.35" height="7.28" fill="#d4963f"/>
<rect x="265.80" y="447.16" width="7.35" height="7.28" fill="#d4963f"/>
<rect x="273.10" y="447.16" width="7.35" height="7.28" fill="#d4963f"/>
<rect x="280.40" y="447.16" width="7.35" height="7.28" fill="#d4963f"/>
<rect x="287.70" y="447.16" width="7.35" height="7.28" fill="#cc9e44"/>
<rect x="295.00" y="447.16" width="7.35" height="7.28" fill="#9cd678"/>
<rect x="302.30" y="447.16" width="7.35" height="7.28" fill="#aac864"/>
<rect x="309.60" y="447.16" width="7.35" height="7.28" fill="#9bd779"/>
<rect x="316.90" y="447.16" width="7.35" height="7.28" fill="#a3cf6e"/>
<rect x="324.20" y="447.16" width="7.35" height="7.28" fill="#9bd779"/>
<rect x="331.50" y="447.16" width="7.35" height="7.28" fill="#b3be5b"/>
<rect x="338.80" y="447.16" width="7.35" height="7.28" fill="#9cd678"/>
<rect x="346.10" y="447.16" width="7.35" height="7.28" fill="#aac864"/>
<rect x="214.70" y="454.39" width="7.35" height="7.28" fill="#d4963f"/>
<rect x="222.00" y="454.39" width="7.35" height="7.28" fill="#b3be5b"/>
<rect x="229.30" y="454.39" width="7.35" height="7.28" fill="#b3be5b"/>
<rect x="236.60" y="454.39" width="7.35" height="7.28" fill="#ea7c32"/>
<rect x="243.90" y="454.39" width="7.35" height="7.28" fill="#d4963f"/>
<rect x="251.20" y="454.39" width="7.35" height="7.28" fill="#9cd678"/>
<rect x="258.50" y="454.39" width="7.35" height="7.28" fill="#c4a94b"/>
<rect x="265.80" y="454.39" width="7.35" height="7.28" fill="#cc9e44"/>
<rect x="273.10" y="454.39" width="7.35" height="7.28" fill="#c4a94b"/>
<rect x="280.40" y="454.39" width="7.35" height="7.28" fill="#c4a94b"/>
<rect x="287.70" y="454.39" width="7.35" height="7.28" fill="#9cd678"/>
<rect x="295.00" y="454.39" width="7.35" height="7.28" fill="#9cd678"/>
<rect x="302.30" y="454.39" width="7.35" height="7.28" fill="#aac864"/>
<rect x="309.60" y="454.39" width="7.35" height="7.28" fill="#9bd779"/>
<rect x="316.90" y="454.39" width="7.35" height="7.28" fill="#a3cf6e"/>
<rect x="324.20" y="454.39" width="7.35" height="7.28" fill="#9bd779"/>
<rect x="331.50" y="454.39" width="7.35" height="7.28" fill="#aac864"/>
<rect x="338.80" y="454.39" width="7.35" height="7.28" fill="#9cd678"/>
<rect x="346.10" y="454.39" width="7.35" height="7.28" fill="#aac864"/>
<rect x="214.70" y="461.62" width="7.35" height="7.28" fill="#e68236"/>
<rect x="222.00" y="461.62" width="7.35" height="7.28" fill="#d4963f"/>
<rect x="229.30" y="461.62" width="7.35" height="7.28" fill="#d4963f"/>
<rect x="236.60" y="461.62" width="7.35" height="7.28" fill="#d4963f"/>
<rect x="243.90" y="461.62" width="7.35" height="7.28" fill="#e68236"/>
<rect x="251.20" y="461.62" width="7.35" height="7.28" fill="#9cd678"/>
<rect x="258.50" y="461.62" width="7.35" height="7.28" fill="#d4963f"/>
<rect x="265.80" y="461.62" width="7.35" height="7.28" fill="#d4963f"/>
<rect x="273.10" y="461.62" width="7.35" height="7.28" fill="#d4963f"/>
<rect x="280.40" y="461.62" width="7.35" height="7.28" fill="#d4963f"/>
<rect x="287.70" y="461.62" width="7.35" height="7.28" fill="#aac864"/>
<rect x="295.00" y="461.62" width="7.35" height="7.28" fill="#9cd678"/>
<rect x="302.30" y="461.62" width="7.35" height="7.28" fill="#c4a94b"/>
<rect x="309.60" y="461.62" width="7.35" height="7.28" fill="#9bd779"/>
<rect x="316.90" y="461.62" width="7.35" height="7.28" fill="#a3cf6e"/>
<rect x="324.20" y="461.62" width="7.35" height="7.28" fill="#9bd779"/>
<rect x="331.50" y="461.62" width="7.35" height="7.28" fill="#c4a94b"/>
<rect x="338.80" y="461.62" width="7.35" height="7.28" fill="#9cd678"/>
<rect x="346.10" y="461.62" width="7.35" height="7.28" fill="#b3be5b"/>
<rect x="214.70" y="468.85" width="7.35" height="7.28" fill="#9cd678"/>
<rect x="222.00" y="468.85" width="7.35" height="7.28" fill="#9cd678"/>
<rect x="229.30" y="468.85" width="7.35" height="7.28" fill="#9cd678"/>
<rect x="236.60" y="468.85" width="7.35" height="7.28" fill="#9cd678"/>
<rect x="243.90" y="468.85" width="7.35" height="7.28" fill="#9cd678"/>
<rect x="251.20" y="468.85" width="7.35" height="7.28" fill="#ea7c32"/>
<rect x="258.50" y="468.85" width="7.35" height="7.28" fill="#a3cf6e"/>
<rect x="265.80" y="468.85" width="7.35" height="7.28" fill="#a3cf6e"/>
<rect x="273.10" y="468.85" width="7.35" height="7.28" fill="#a3cf6e"/>
<rect x="280.40" y="468.85" width="7.35" height="7.28" fill="#a3cf6e"/>
<rect x="287.70" y="468.85" width="7.35" height="7.28" fill="#9cd678"/>
<rect x="295.00" y="468.85" width="7.35" height="7.28" fill="#9cd678"/>
<rect x="302.30" y="468.85" width="7.35" height="7.28" fill="#9cd678"/>
<rect x="309.60" y="468.85" width="7.35" height="7.28" fill="#9bd779"/>
<rect x="316.90" y="468.85" width="7.35" height="7.28" fill="#a3cf6e"/>
<rect x="324.20" y="468.85" width="7.35" height="7.28" fill="#9bd779"/>
<rect x="331.50" y="468.85" width="7.35" height="7.28" fill="#9cd678"/>
<rect x="338.80" y="468.85" width="7.35" height="7.28" fill="#9cd678"/>
<rect x="346.10" y="468.85" width="7.35" height="7.28" fill="#9cd678"/>
<rect x="214.70" y="476.08" width="7.35" height="7.28" fill="#d4963f"/>
<rect x="222.00" y="476.08" width="7.35" height="7.28" fill="#d4963f"/>
<rect x="229.30" y="476.08" width="7.35" height="7.28" fill="#d4963f"/>
<rect x="236.60" y="476.08" width="7.35" height="7.28" fill="#c4a94b"/>
<rect x="243.90" y="476.08" width="7.35" height="7.28" fill="#d4963f"/>
<rect x="251.20" y="476.08" width="7.35" height="7.28" fill="#a3cf6e"/>
<rect x="258.50" y="476.08" width="7.35" height="7.28" fill="#ea7c32"/>
<rect x="265.80" y="476.08" width="7.35" height="7.28" fill="#e18838"/>
<rect x="273.10" y="476.08" width="7.35" height="7.28" fill="#d4963f"/>
<rect x="280.40" y="476.08" width="7.35" height="7.28" fill="#d4963f"/>
<rect x="287.70" y="476.08" width="7.35" height="7.28" fill="#c4a94b"/>
<rect x="295.00" y="476.08" width="7.35" height="7.28" fill="#a3cf6e"/>
<rect x="302.30" y="476.08" width="7.35" height="7.28" fill="#cc9e44"/>
<rect x="309.60" y="476.08" width="7.35" height="7.28" fill="#9bd779"/>
<rect x="316.90" y="476.08" width="7.35" height="7.28" fill="#a3cf6e"/>
<rect x="324.20" y="476.08" width="7.35" height="7.28" fill="#9bd779"/>
<rect x="331.50" y="476.08" width="7.35" height="7.28" fill="#c4a94b"/>
<rect x="338.80" y="476.08" width="7.35" height="7.28" fill="#a3cf6e"/>
<rect x="346.10" y="476.08" width="7.35" height="7.28" fill="#d4963f"/>
<rect x="214.70" y="483.31" width="7.35" height="7.28" fill="#d4963f"/>
<rect x="222.00" y="483.31" width="7.35" height="7.28" fill="#d4963f"/>
<rect x="229.30" y="483.31" width="7.35" height="7.28" fill="#d4963f"/>
<rect x="236.60" y="483.31" width="7.35" height="7.28" fill="#cc9e44"/>
<rect x="243.90" y="483.31" width="7.35" height="7.28" fill="#d4963f"/>
<rect x="251.20" y="483.31" width="7.35" height="7.28" fill="#a3cf6e"/>
<rect x="258.50" y="483.31" width="7.35" height="7.28" fill="#e18838"/>
<rect x="265.80" y="483.31" width="7.35" height="7.28" fill="#ea7c32"/>
<rect x="273.10" y="483.31" width="7.35" height="7.28" fill="#e18838"/>
<rect x="280.40" y="483.31" width="7.35" height="7.28" fill="#d4963f"/>
<rect x="287.70" y="483.31" width="7.35" height="7.28" fill="#d4963f"/>
<rect x="295.00" y="483.31" width="7.35" height="7.28" fill="#9cd678"/>
<rect x="302.30" y="483.31" width="7.35" height="7.28" fill="#aac864"/>
<rect x="309.60" y="483.31" width="7.35" height="7.28" fill="#9bd779"/>
<rect x="316.90" y="483.31" width="7.35" height="7.28" fill="#a3cf6e"/>
<rect x="324.20" y="483.31" width="7.35" height="7.28" fill="#9bd779"/>
<rect x="331.50" y="483.31" width="7.35" height="7.28" fill="#aac864"/>
<rect x="338.80" y="483.31" width="7.35" height="7.28" fill="#9cd678"/>
<rect x="346.10" y="483.31" width="7.35" height="7.28" fill="#b3be5b"/>
<rect x="214.70" y="490.54" width="7.35" height="7.28" fill="#d4963f"/>
<rect x="222.00" y="490.54" width="7.35" height="7.28" fill="#d4963f"/>
<rect x="229.30" y="490.54" width="7.35" height="7.28" fill="#d4963f"/>
<rect x="236.60" y="490.54" width="7.35" height="7.28" fill="#c4a94b"/>
<rect x="243.90" y="490.54" width="7.35" height="7.28" fill="#d4963f"/>
<rect x="251.20" y="490.54" width="7.35" height="7.28" fill="#a3cf6e"/>
<rect x="258.50" y="490.54" width="7.35" height="7.28" fill="#d4963f"/>
<rect x="265.80" y="490.54" width="7.35" height="7.28" fill="#e18838"/>
<rect x="273.10" y="490.54" width="7.35" height="7.28" fill="#e68236"/>
<rect x="280.40" y="490.54" width="7.35" height="7.28" fill="#e18838"/>
<rect x="287.70" y="490.54" width="7.35" height="7.28" fill="#aac864"/>
<rect x="295.00" y="490.54" width="7.35" height="7.28" fill="#a3cf6e"/>
<rect x="302.30" y="490.54" width="7.35" height="7.28" fill="#cc9e44"/>
<rect x="309.60" y="490.54" width="7.35" height="7.28" fill="#9bd779"/>
<rect x="316.90" y="490.54" width="7.35" height="7.28" fill="#a3cf6e"/>
<rect x="324.20" y="490.54" width="7.35" height="7.28" fill="#9bd779"/>
<rect x="331.50" y="490.54" width="7.35" height="7.28" fill="#c4a94b"/>
<rect x="338.80" y="490.54" width="7.35" height="7.28" fill="#9cd678"/>
<rect x="346.10" y="490.54" width="7.35" height="7.28" fill="#d4963f"/>
<rect x="214.70" y="497.77" width="7.35" height="7.28" fill="#d4963f"/>
<rect x="222.00" y="497.77" width="7.35" height="7.28" fill="#d4963f"/>
<rect x="229.30" y="497.77" width="7.35" height="7.28" fill="#d4963f"/>
<rect x="236.60" y="497.77" width="7.35" height="7.28" fill="#c4a94b"/>
<rect x="243.90" y="497.77" width="7.35" height="7.28" fill="#d4963f"/>
<rect x="251.20" y="497.77" width="7.35" height="7.28" fill="#a3cf6e"/>
<rect x="258.50" y="497.77" width="7.35" height="7.28" fill="#d4963f"/>
<rect x="265.80" y="497.77" width="7.35" height="7.28" fill="#d4963f"/>
<rect x="273.10" y="497.77" width="7.35" height="7.28" fill="#e18838"/>
<rect x="280.40" y="497.77" width="7.35" height="7.28" fill="#ea7c32"/>
<rect x="287.70" y="497.77" width="7.35" height="7.28" fill="#aac864"/>
<rect x="295.00" y="497.77" width="7.35" height="7.28" fill="#9cd678"/>
<rect x="302.30" y="497.77" width="7.35" height="7.28" fill="#aac864"/>
<rect x="309.60" y="497.77" width="7.35" height="7.28" fill="#9bd779"/>
<rect x="316.90" y="497.77" width="7.35" height="7.28" fill="#a3cf6e"/>
<rect x="324.20" y="497.77" width="7.35" height="7.28" fill="#9bd779"/>
<rect x="331.50" y="497.77" width="7.35" height="7.28" fill="#c4a94b"/>
<rect x="338.80" y="497.77" width="7.35" height="7.28" fill="#9cd678"/>
<rect x="346.10" y="497.77" width="7.35" height="7.28" fill="#aac864"/>
<rect x="214.70" y="505.00" width="7.35" height="7.28" fill="#c4a94b"/>
<rect x="222.00" y="505.00" width="7.35" height="7.28" fill="#cc9e44"/>
<rect x="229.30" y="505.00" width="7.35" height="7.28" fill="#cc9e44"/>
<rect x="236.60" y="505.00" width="7.35" height="7.28" fill="#9cd678"/>
<rect x="243.90" y="505.00" width="7.35" height="7.28" fill="#aac864"/>
<rect x="251.20" y="505.00" width="7.35" height="7.28" fill="#9cd678"/>
<rect x="258.50" y="505.00" width="7.35" height="7.28" fill="#c4a94b"/>
<rect x="265.80" y="505.00" width="7.35" height="7.28" fill="#d4963f"/>
<rect x="273.10" y="505.00" width="7.35" height="7.28" fill="#aac864"/>
<rect x="280.40" y="505.00" width="7.35" height="7.28" fill="#aac864"/>
<rect x="287.70" y="505.00" width="7.35" height="7.28" fill="#ea7c32"/>
<rect x="295.00" y="505.00" width="7.35" height="7.28" fill="#9cd678"/>
<rect x="302.30" y="505.00" width="7.35" height="7.28" fill="#9cd678"/>
<rect x="309.60" y="505.00" width="7.35" height="7.28" fill="#9bd779"/>
<rect x="316.90" y="505.00" width="7.35" height="7.28" fill="#9cd678"/>
<rect x="324.20" y="505.00" width="7.35" height="7.28" fill="#9bd779"/>
<rect x="331.50" y="505.00" width="7.35" height="7.28" fill="#9cd678"/>
<rect x="338.80" y="505.00" width="7.35" height="7.28" fill="#9cd678"/>
<rect x="346.10" y="505.00" width="7.35" height="7.28" fill="#9cd678"/>
<rect x="214.70" y="512.23" width="7.35" height="7.28" fill="#9cd678"/>
<rect x="222.00" y="512.23" width="7.35" height="7.28" fill="#9cd678"/>
<rect x="229.30" y="512.23" width="7.35" height="7.28" fill="#9cd678"/>
<rect x="236.60" y="512.23" width="7.35" height="7.28" fill="#9cd678"/>
<rect x="243.90" y="512.23" width="7.35" height="7.28" fill="#9cd678"/>
<rect x="251.20" y="512.23" width="7.35" height="7.28" fill="#9cd678"/>
<rect x="258.50" y="512.23" width="7.35" height="7.28" fill="#a3cf6e"/>
<rect x="265.80" y="512.23" width="7.35" height="7.28" fill="#9cd678"/>
<rect x="273.10" y="512.23" width="7.35" height="7.28" fill="#a3cf6e"/>
<rect x="280.40" y="512.23" width="7.35" height="7.28" fill="#9cd678"/>
<rect x="287.70" y="512.23" width="7.35" height="7.28" fill="#9cd678"/>
<rect x="295.00" y="512.23" width="7.35" height="7.28" fill="#ea7c32"/>
<rect x="302.30" y="512.23" width="7.35" height="7.28" fill="#c4a94b"/>
<rect x="309.60" y="512.23" width="7.35" height="7.28" fill="#9bd779"/>
<rect x="316.90" y="512.23" width="7.35" height="7.28" fill="#aac864"/>
<rect x="324.20" y="512.23" width="7.35" height="7.28" fill="#aac864"/>
<rect x="331.50" y="512.23" width="7.35" height="7.28" fill="#c4a94b"/>
<rect x="338.80" y="512.23" width="7.35" height="7.28" fill="#c4a94b"/>
<rect x="346.10" y="512.23" width="7.35" height="7.28" fill="#aac864"/>
<rect x="214.70" y="519.46" width="7.35" height="7.28" fill="#c4a94b"/>
<rect x="222.00" y="519.46" width="7.35" height="7.28" fill="#aac864"/>
<rect x="229.30" y="519.46" width="7.35" height="7.28" fill="#aac864"/>
<rect x="236.60" y="519.46" width="7.35" height="7.28" fill="#aac864"/>
<rect x="243.90" y="519.46" width="7.35" height="7.28" fill="#c4a94b"/>
<rect x="251.20" y="519.46" width="7.35" height="7.28" fill="#9cd678"/>
<rect x="258.50" y="519.46" width="7.35" height="7.28" fill="#cc9e44"/>
<rect x="265.80" y="519.46" width="7.35" height="7.28" fill="#aac864"/>
<rect x="273.10" y="519.46" width="7.35" height="7.28" fill="#cc9e44"/>
<rect x="280.40" y="519.46" width="7.35" height="7.28" fill="#aac864"/>
<rect x="287.70" y="519.46" width="7.35" height="7.28" fill="#9cd678"/>
<rect x="295.00" y="519.46" width="7.35" height="7.28" fill="#c4a94b"/>
<rect x="302.30" y="519.46" width="7.35" height="7.28" fill="#ea7c32"/>
<rect x="309.60" y="519.46" width="7.35" height="7.28" fill="#9bd779"/>
<rect x="316.90" y="519.46" width="7.35" height="7.28" fill="#aac864"/>
<rect x="324.20" y="519.46" width="7.35" height="7.28" fill="#aac864"/>
<rect x="331.50" y="519.46" width="7.35" height="7.28" fill="#cc9e44"/>
<rect x="338.80" y="519.46" width="7.35" height="7.28" fill="#c4a94b"/>
<rect x="346.10" y="519.46" width="7.35" height="7.28" fill="#c4a94b"/>
<rect x="214.70" y="526.69" width="7.35" height="7.28" fill="#9bd779"/>
<rect x="222.00" y="526.69" width="7.35" height="7.28" fill="#9bd779"/>
<rect x="229.30" y="526.69" width="7.35" height="7.28" fill="#9bd779"/>
<rect x="236.60" y="526.69" width="7.35" height="7.28" fill="#9bd779"/>
<rect x="243.90" y="526.69" width="7.35" height="7.28" fill="#9bd779"/>
<rect x="251.20" y="526.69" width="7.35" height="7.28" fill="#9bd779"/>
<rect x="258.50" y="526.69" width="7.35" height="7.28" fill="#9bd779"/>
<rect x="265.80" y="526.69" width="7.35" height="7.28" fill="#9bd779"/>
<rect x="273.10" y="526.69" width="7.35" height="7.28" fill="#9bd779"/>
<rect x="280.40" y="526.69" width="7.35" height="7.28" fill="#9bd779"/>
<rect x="287.70" y="526.69" width="7.35" height="7.28" fill="#9bd779"/>
<rect x="295.00" y="526.69" width="7.35" height="7.28" fill="#9bd779"/>
<rect x="302.30" y="526.69" width="7.35" height="7.28" fill="#9bd779"/>
<rect x="309.60" y="526.69" width="7.35" height="7.28" fill="#ea7c32"/>
<rect x="316.90" y="526.69" width="7.35" height="7.28" fill="#9bd779"/>
<rect x="324.20" y="526.69" width="7.35" height="7.28" fill="#9bd779"/>
<rect x="331.50" y="526.69" width="7.35" height="7.28" fill="#9bd779"/>
<rect x="338.80" y="526.69" width="7.35" height="7.28" fill="#9bd779"/>
<rect x="346.10" y="526.69" width="7.35" height="7.28" fill="#9bd779"/>
<rect x="214.70" y="533.92" width="7.35" height="7.28" fill="#a3cf6e"/>
<rect x="222.00" y="533.92" width="7.35" height="7.28" fill="#a3cf6e"/>
<rect x="229.30" y="533.92" width="7.35" height="7.28" fill="#a3cf6e"/>
<rect x="236.60" y="533.92" width="7.35" height="7.28" fill="#a3cf6e"/>
<rect x="243.90" y="533.92" width="7.35" height="7.28" fill="#a3cf6e"/>
<rect x="251.20" y="533.92" width="7.35" height="7.28" fill="#a3cf6e"/>
<rect x="258.50" y="533.92" width="7.35" height="7.28" fill="#a3cf6e"/>
<rect x="265.80" y="533.92" width="7.35" height="7.28" fill="#a3cf6e"/>
<rect x="273.10" y="533.92" width="7.35" height="7.28" fill="#a3cf6e"/>
<rect x="280.40" y="533.92" width="7.35" height="7.28" fill="#a3cf6e"/>
<rect x="287.70" y="533.92" width="7.35" height="7.28" fill="#9cd678"/>
<rect x="295.00" y="533.92" width="7.35" height="7.28" fill="#aac864"/>
<rect x="302.30" y="533.92" width="7.35" height="7.28" fill="#aac864"/>
<rect x="309.60" y="533.92" width="7.35" height="7.28" fill="#9bd779"/>
<rect x="316.90" y="533.92" width="7.35" height="7.28" fill="#ea7c32"/>
<rect x="324.20" y="533.92" width="7.35" height="7.28" fill="#a3cf6e"/>
<rect x="331.50" y="533.92" width="7.35" height="7.28" fill="#aac864"/>
<rect x="338.80" y="533.92" width="7.35" height="7.28" fill="#aac864"/>
<rect x="346.10" y="533.92" width="7.35" height="7.28" fill="#9cd678"/>
<rect x="214.70" y="541.15" width="7.35" height="7.28" fill="#9bd779"/>
<rect x="222.00" y="541.15" width="7.35" height="7.28" fill="#9bd779"/>
<rect x="229.30" y="541.15" width="7.35" height="7.28" fill="#9bd779"/>
<rect x="236.60" y="541.15" width="7.35" height="7.28" fill="#9bd779"/>
<rect x="243.90" y="541.15" width="7.35" height="7.28" fill="#9bd779"/>
<rect x="251.20" y="541.15" width="7.35" height="7.28" fill="#9bd779"/>
<rect x="258.50" y="541.15" width="7.35" height="7.28" fill="#9bd779"/>
<rect x="265.80" y="541.15" width="7.35" height="7.28" fill="#9bd779"/>
<rect x="273.10" y="541.15" width="7.35" height="7.28" fill="#9bd779"/>
<rect x="280.40" y="541.15" width="7.35" height="7.28" fill="#9bd779"/>
<rect x="287.70" y="541.15" width="7.35" height="7.28" fill="#9bd779"/>
<rect x="295.00" y="541.15" width="7.35" height="7.28" fill="#aac864"/>
<rect x="302.30" y="541.15" width="7.35" height="7.28" fill="#aac864"/>
<rect x="309.60" y="541.15" width="7.35" height="7.28" fill="#9bd779"/>
<rect x="316.90" y="541.15" width="7.35" height="7.28" fill="#a3cf6e"/>
<rect x="324.20" y="541.15" width="7.35" height="7.28" fill="#ea7c32"/>
<rect x="331.50" y="541.15" width="7.35" height="7.28" fill="#9cd678"/>
<rect x="338.80" y="541.15" width="7.35" height="7.28" fill="#9cd678"/>
<rect x="346.10" y="541.15" width="7.35" height="7.28" fill="#9cd678"/>
<rect x="214.70" y="548.38" width="7.35" height="7.28" fill="#c4a94b"/>
<rect x="222.00" y="548.38" width="7.35" height="7.28" fill="#b3be5b"/>
<rect x="229.30" y="548.38" width="7.35" height="7.28" fill="#b3be5b"/>
<rect x="236.60" y="548.38" width="7.35" height="7.28" fill="#aac864"/>
<rect x="243.90" y="548.38" width="7.35" height="7.28" fill="#c4a94b"/>
<rect x="251.20" y="548.38" width="7.35" height="7.28" fill="#9cd678"/>
<rect x="258.50" y="548.38" width="7.35" height="7.28" fill="#c4a94b"/>
<rect x="265.80" y="548.38" width="7.35" height="7.28" fill="#aac864"/>
<rect x="273.10" y="548.38" width="7.35" height="7.28" fill="#c4a94b"/>
<rect x="280.40" y="548.38" width="7.35" height="7.28" fill="#c4a94b"/>
<rect x="287.70" y="548.38" width="7.35" height="7.28" fill="#9cd678"/>
<rect x="295.00" y="548.38" width="7.35" height="7.28" fill="#c4a94b"/>
<rect x="302.30" y="548.38" width="7.35" height="7.28" fill="#cc9e44"/>
<rect x="309.60" y="548.38" width="7.35" height="7.28" fill="#9bd779"/>
<rect x="316.90" y="548.38" width="7.35" height="7.28" fill="#aac864"/>
<rect x="324.20" y="548.38" width="7.35" height="7.28" fill="#9cd678"/>
<rect x="331.50" y="548.38" width="7.35" height="7.28" fill="#ea7c32"/>
<rect x="338.80" y="548.38" width="7.35" height="7.28" fill="#aac864"/>
<rect x="346.10" y="548.38" width="7.35" height="7.28" fill="#c4a94b"/>
<rect x="214.70" y="555.61" width="7.35" height="7.28" fill="#9cd678"/>
<rect x="222.00" y="555.61" width="7.35" height="7.28" fill="#9cd678"/>
<rect x="229.30" y="555.61" width="7.35" height="7.28" fill="#9cd678"/>
<rect x="236.60" y="555.61" width="7.35" height="7.28" fill="#9cd678"/>
<rect x="243.90" y="555.61" width="7.35" height="7.28" fill="#9cd678"/>
<rect x="251.20" y="555.61" width="7.35" height="7.28" fill="#9cd678"/>
<rect x="258.50" y="555.61" width="7.35" height="7.28" fill="#a3cf6e"/>
<rect x="265.80" y="555.61" width="7.35" height="7.28" fill="#9cd678"/>
<rect x="273.10" y="555.61" width="7.35" height="7.28" fill="#9cd678"/>
<rect x="280.40" y="555.61" width="7.35" height="7.28" fill="#9cd678"/>
<rect x="287.70" y="555.61" width="7.35" height="7.28" fill="#9cd678"/>
<rect x="295.00" y="555.61" width="7.35" height="7.28" fill="#c4a94b"/>
<rect x="302.30" y="555.61" width="7.35" height="7.28" fill="#c4a94b"/>
<rect x="309.60" y="555.61" width="7.35" height="7.28" fill="#9bd779"/>
<rect x="316.90" y="555.61" width="7.35" height="7.28" fill="#aac864"/>
<rect x="324.20" y="555.61" width="7.35" height="7.28" fill="#9cd678"/>
<rect x="331.50" y="555.61" width="7.35" height="7.28" fill="#aac864"/>
<rect x="338.80" y="555.61" width="7.35" height="7.28" fill="#ea7c32"/>
<rect x="346.10" y="555.61" width="7.35" height="7.28" fill="#9cd678"/>
<rect x="214.70" y="562.84" width="7.35" height="7.28" fill="#cc9e44"/>
<rect x="222.00" y="562.84" width="7.35" height="7.28" fill="#b3be5b"/>
<rect x="229.30" y="562.84" width="7.35" height="7.28" fill="#aac864"/>
<rect x="236.60" y="562.84" width="7.35" height="7.28" fill="#aac864"/>
<rect x="243.90" y="562.84" width="7.35" height="7.28" fill="#b3be5b"/>
<rect x="251.20" y="562.84" width="7.35" height="7.28" fill="#9cd678"/>
<rect x="258.50" y="562.84" width="7.35" height="7.28" fill="#d4963f"/>
<rect x="265.80" y="562.84" width="7.35" height="7.28" fill="#b3be5b"/>
<rect x="273.10" y="562.84" width="7.35" height="7.28" fill="#d4963f"/>
<rect x="280.40" y="562.84" width="7.35" height="7.28" fill="#aac864"/>
<rect x="287.70" y="562.84" width="7.35" height="7.28" fill="#9cd678"/>
<rect x="295.00" y="562.84" width="7.35" height="7.28" fill="#aac864"/>
<rect x="302.30" y="562.84" width="7.35" height="7.28" fill="#c4a94b"/>
<rect x="309.60" y="562.84" width="7.35" height="7.28" fill="#9bd779"/>
<rect x="316.90" y="562.84" width="7.35" height="7.28" fill="#9cd678"/>
<rect x="324.20" y="562.84" width="7.35" height="7.28" fill="#9cd678"/>
<rect x="331.50" y="562.84" width="7.35" height="7.28" fill="#c4a94b"/>
<rect x="338.80" y="562.84" width="7.35" height="7.28" fill="#9cd678"/>
<rect x="346.10" y="562.84" width="7.35" height="7.28" fill="#ea7c32"/>
<line x1="222.00" y1="432.70" x2="222.00" y2="570.07" stroke="#fff" stroke-opacity="0.42" stroke-width="0.85"/>
<line x1="214.70" y1="439.93" x2="353.40" y2="439.93" stroke="#fff" stroke-opacity="0.42" stroke-width="0.85"/>
<line x1="229.30" y1="432.70" x2="229.30" y2="570.07" stroke="#fff" stroke-opacity="0.42" stroke-width="0.85"/>
<line x1="214.70" y1="447.16" x2="353.40" y2="447.16" stroke="#fff" stroke-opacity="0.42" stroke-width="0.85"/>
<line x1="236.60" y1="432.70" x2="236.60" y2="570.07" stroke="#fff" stroke-opacity="0.42" stroke-width="0.85"/>
<line x1="214.70" y1="454.39" x2="353.40" y2="454.39" stroke="#fff" stroke-opacity="0.42" stroke-width="0.85"/>
<line x1="243.90" y1="432.70" x2="243.90" y2="570.07" stroke="#fff" stroke-opacity="0.42" stroke-width="0.85"/>
<line x1="214.70" y1="461.62" x2="353.40" y2="461.62" stroke="#fff" stroke-opacity="0.42" stroke-width="0.85"/>
<line x1="251.20" y1="432.70" x2="251.20" y2="570.07" stroke="#fff" stroke-opacity="0.42" stroke-width="0.85"/>
<line x1="214.70" y1="468.85" x2="353.40" y2="468.85" stroke="#fff" stroke-opacity="0.42" stroke-width="0.85"/>
<line x1="258.50" y1="432.70" x2="258.50" y2="570.07" stroke="#fff" stroke-opacity="0.42" stroke-width="0.85"/>
<line x1="214.70" y1="476.08" x2="353.40" y2="476.08" stroke="#fff" stroke-opacity="0.42" stroke-width="0.85"/>
<line x1="265.80" y1="432.70" x2="265.80" y2="570.07" stroke="#fff" stroke-opacity="0.42" stroke-width="0.85"/>
<line x1="214.70" y1="483.31" x2="353.40" y2="483.31" stroke="#fff" stroke-opacity="0.42" stroke-width="0.85"/>
<line x1="273.10" y1="432.70" x2="273.10" y2="570.07" stroke="#fff" stroke-opacity="0.42" stroke-width="0.85"/>
<line x1="214.70" y1="490.54" x2="353.40" y2="490.54" stroke="#fff" stroke-opacity="0.42" stroke-width="0.85"/>
<line x1="280.40" y1="432.70" x2="280.40" y2="570.07" stroke="#fff" stroke-opacity="0.42" stroke-width="0.85"/>
<line x1="214.70" y1="497.77" x2="353.40" y2="497.77" stroke="#fff" stroke-opacity="0.42" stroke-width="0.85"/>
<line x1="287.70" y1="432.70" x2="287.70" y2="570.07" stroke="#fff" stroke-opacity="0.42" stroke-width="0.85"/>
<line x1="214.70" y1="505.00" x2="353.40" y2="505.00" stroke="#fff" stroke-opacity="0.42" stroke-width="0.85"/>
<line x1="295.00" y1="432.70" x2="295.00" y2="570.07" stroke="#fff" stroke-opacity="0.42" stroke-width="0.85"/>
<line x1="214.70" y1="512.23" x2="353.40" y2="512.23" stroke="#fff" stroke-opacity="0.42" stroke-width="0.85"/>
<line x1="302.30" y1="432.70" x2="302.30" y2="570.07" stroke="#fff" stroke-opacity="0.42" stroke-width="0.85"/>
<line x1="214.70" y1="519.46" x2="353.40" y2="519.46" stroke="#fff" stroke-opacity="0.42" stroke-width="0.85"/>
<line x1="309.60" y1="432.70" x2="309.60" y2="570.07" stroke="#fff" stroke-opacity="0.42" stroke-width="0.85"/>
<line x1="214.70" y1="526.69" x2="353.40" y2="526.69" stroke="#fff" stroke-opacity="0.42" stroke-width="0.85"/>
<line x1="316.90" y1="432.70" x2="316.90" y2="570.07" stroke="#fff" stroke-opacity="0.42" stroke-width="0.85"/>
<line x1="214.70" y1="533.92" x2="353.40" y2="533.92" stroke="#fff" stroke-opacity="0.42" stroke-width="0.85"/>
<line x1="324.20" y1="432.70" x2="324.20" y2="570.07" stroke="#fff" stroke-opacity="0.42" stroke-width="0.85"/>
<line x1="214.70" y1="541.15" x2="353.40" y2="541.15" stroke="#fff" stroke-opacity="0.42" stroke-width="0.85"/>
<line x1="331.50" y1="432.70" x2="331.50" y2="570.07" stroke="#fff" stroke-opacity="0.42" stroke-width="0.85"/>
<line x1="214.70" y1="548.38" x2="353.40" y2="548.38" stroke="#fff" stroke-opacity="0.42" stroke-width="0.85"/>
<line x1="338.80" y1="432.70" x2="338.80" y2="570.07" stroke="#fff" stroke-opacity="0.42" stroke-width="0.85"/>
<line x1="214.70" y1="555.61" x2="353.40" y2="555.61" stroke="#fff" stroke-opacity="0.42" stroke-width="0.85"/>
<line x1="346.10" y1="432.70" x2="346.10" y2="570.07" stroke="#fff" stroke-opacity="0.42" stroke-width="0.85"/>
<line x1="214.70" y1="562.84" x2="353.40" y2="562.84" stroke="#fff" stroke-opacity="0.42" stroke-width="0.85"/>
<rect x="214.70" y="432.70" width="43.80" height="43.38" fill="none" stroke="#3333b0" stroke-width="1"/>
<rect x="258.50" y="476.08" width="29.20" height="28.92" fill="none" stroke="#3333b0" stroke-width="1"/>
<rect x="287.70" y="505.00" width="65.70" height="65.07" fill="none" stroke="#3333b0" stroke-width="1"/>
<text x="87.7" y="260.8" font-size="10.4" text-anchor="middle" font-weight="bold" fill="#111">Control</text>
<text x="125.4" y="260.8" font-size="10.2" text-anchor="middle" font-weight="bold" fill="#111">T2D</text>
<text x="168.2" y="260.8" font-size="10.2" text-anchor="middle" font-weight="bold" fill="#111">T1D</text>
<text x="70.0" y="417.3" font-size="5.6" font-weight="bold" fill="#333" transform="rotate(-90 70.0 417.3)">C1</text>
<text x="77.2" y="417.3" font-size="5.6" font-weight="bold" fill="#333" transform="rotate(-90 77.2 417.3)">C2</text>
<text x="84.5" y="417.3" font-size="5.6" font-weight="bold" fill="#333" transform="rotate(-90 84.5 417.3)">C3</text>
<text x="91.8" y="417.3" font-size="5.6" font-weight="bold" fill="#333" transform="rotate(-90 91.8 417.3)">C4</text>
<text x="99.2" y="417.3" font-size="5.6" font-weight="bold" fill="#333" transform="rotate(-90 99.2 417.3)">C5</text>
<text x="106.4" y="417.3" font-size="5.6" font-weight="bold" fill="#333" transform="rotate(-90 106.4 417.3)">C6</text>
<text x="113.8" y="417.3" font-size="5.6" font-weight="bold" fill="#333" transform="rotate(-90 113.8 417.3)">P1</text>
<text x="121.0" y="417.3" font-size="5.6" font-weight="bold" fill="#333" transform="rotate(-90 121.0 417.3)">P2</text>
<text x="128.3" y="417.3" font-size="5.6" font-weight="bold" fill="#333" transform="rotate(-90 128.3 417.3)">P3</text>
<text x="135.6" y="417.3" font-size="5.6" font-weight="bold" fill="#333" transform="rotate(-90 135.6 417.3)">P4</text>
<text x="142.9" y="417.3" font-size="5.6" font-weight="bold" fill="#333" transform="rotate(-90 142.9 417.3)">P5</text>
<text x="150.2" y="417.3" font-size="5.6" font-weight="bold" fill="#333" transform="rotate(-90 150.2 417.3)">P6</text>
<text x="157.6" y="417.3" font-size="5.6" font-weight="bold" fill="#333" transform="rotate(-90 157.6 417.3)">P7</text>
<text x="164.8" y="417.3" font-size="5.6" font-weight="bold" fill="#333" transform="rotate(-90 164.8 417.3)">P8</text>
<text x="172.1" y="417.3" font-size="5.6" font-weight="bold" fill="#333" transform="rotate(-90 172.1 417.3)">P9</text>
<text x="179.4" y="417.3" font-size="5.6" font-weight="bold" fill="#333" transform="rotate(-90 179.4 417.3)">P10</text>
<text x="186.8" y="417.3" font-size="5.6" font-weight="bold" fill="#333" transform="rotate(-90 186.8 417.3)">P11</text>
<text x="194.1" y="417.3" font-size="5.6" font-weight="bold" fill="#333" transform="rotate(-90 194.1 417.3)">P12</text>
<text x="201.3" y="417.3" font-size="5.6" font-weight="bold" fill="#333" transform="rotate(-90 201.3 417.3)">P13</text>
<text x="237.0" y="258.9" font-size="10.4" text-anchor="middle" font-weight="bold" fill="#111">Control</text>
<text x="274.9" y="258.9" font-size="10.2" text-anchor="middle" font-weight="bold" fill="#111">T2D</text>
<text x="318.2" y="258.9" font-size="10.2" text-anchor="middle" font-weight="bold" fill="#111">T1D</text>
<text x="220.0" y="417.2" font-size="5.6" font-weight="bold" fill="#333" transform="rotate(-90 220.0 417.2)">C1</text>
<text x="227.3" y="417.2" font-size="5.6" font-weight="bold" fill="#333" transform="rotate(-90 227.3 417.2)">C2</text>
<text x="234.6" y="417.2" font-size="5.6" font-weight="bold" fill="#333" transform="rotate(-90 234.6 417.2)">C3</text>
<text x="241.9" y="417.2" font-size="5.6" font-weight="bold" fill="#333" transform="rotate(-90 241.9 417.2)">C4</text>
<text x="249.2" y="417.2" font-size="5.6" font-weight="bold" fill="#333" transform="rotate(-90 249.2 417.2)">C5</text>
<text x="256.5" y="417.2" font-size="5.6" font-weight="bold" fill="#333" transform="rotate(-90 256.5 417.2)">C6</text>
<text x="263.8" y="417.2" font-size="5.6" font-weight="bold" fill="#333" transform="rotate(-90 263.8 417.2)">P1</text>
<text x="271.1" y="417.2" font-size="5.6" font-weight="bold" fill="#333" transform="rotate(-90 271.1 417.2)">P2</text>
<text x="278.4" y="417.2" font-size="5.6" font-weight="bold" fill="#333" transform="rotate(-90 278.4 417.2)">P3</text>
<text x="285.7" y="417.2" font-size="5.6" font-weight="bold" fill="#333" transform="rotate(-90 285.7 417.2)">P4</text>
<text x="293.1" y="417.2" font-size="5.6" font-weight="bold" fill="#333" transform="rotate(-90 293.1 417.2)">P5</text>
<text x="300.4" y="417.2" font-size="5.6" font-weight="bold" fill="#333" transform="rotate(-90 300.4 417.2)">P6</text>
<text x="307.7" y="417.2" font-size="5.6" font-weight="bold" fill="#333" transform="rotate(-90 307.7 417.2)">P7</text>
<text x="315.0" y="417.2" font-size="5.6" font-weight="bold" fill="#333" transform="rotate(-90 315.0 417.2)">P8</text>
<text x="322.3" y="417.2" font-size="5.6" font-weight="bold" fill="#333" transform="rotate(-90 322.3 417.2)">P9</text>
<text x="329.6" y="417.2" font-size="5.6" font-weight="bold" fill="#333" transform="rotate(-90 329.6 417.2)">P10</text>
<text x="336.9" y="417.2" font-size="5.6" font-weight="bold" fill="#333" transform="rotate(-90 336.9 417.2)">P11</text>
<text x="344.2" y="417.2" font-size="5.6" font-weight="bold" fill="#333" transform="rotate(-90 344.2 417.2)">P12</text>
<text x="351.5" y="417.2" font-size="5.6" font-weight="bold" fill="#333" transform="rotate(-90 351.5 417.2)">P13</text>
<text x="87.7" y="430.0" font-size="10.4" text-anchor="middle" font-weight="bold" fill="#111">Control</text>
<text x="125.4" y="430.0" font-size="10.2" text-anchor="middle" font-weight="bold" fill="#111">T2D</text>
<text x="170.4" y="430.0" font-size="10.2" text-anchor="middle" font-weight="bold" fill="#111">T1D</text>
<text x="71.8" y="584.1" font-size="5.6" font-weight="bold" fill="#333" transform="rotate(-90 71.8 584.1)">C1</text>
<text x="78.9" y="584.1" font-size="5.6" font-weight="bold" fill="#333" transform="rotate(-90 78.9 584.1)">C2</text>
<text x="86.1" y="584.1" font-size="5.6" font-weight="bold" fill="#333" transform="rotate(-90 86.1 584.1)">C3</text>
<text x="93.3" y="584.1" font-size="5.6" font-weight="bold" fill="#333" transform="rotate(-90 93.3 584.1)">C4</text>
<text x="100.4" y="584.1" font-size="5.6" font-weight="bold" fill="#333" transform="rotate(-90 100.4 584.1)">C5</text>
<text x="107.6" y="584.1" font-size="5.6" font-weight="bold" fill="#333" transform="rotate(-90 107.6 584.1)">C6</text>
<text x="114.7" y="584.1" font-size="5.6" font-weight="bold" fill="#333" transform="rotate(-90 114.7 584.1)">P1</text>
<text x="121.9" y="584.1" font-size="5.6" font-weight="bold" fill="#333" transform="rotate(-90 121.9 584.1)">P2</text>
<text x="129.1" y="584.1" font-size="5.6" font-weight="bold" fill="#333" transform="rotate(-90 129.1 584.1)">P3</text>
<text x="136.2" y="584.1" font-size="5.6" font-weight="bold" fill="#333" transform="rotate(-90 136.2 584.1)">P4</text>
<text x="143.4" y="584.1" font-size="5.6" font-weight="bold" fill="#333" transform="rotate(-90 143.4 584.1)">P5</text>
<text x="150.5" y="584.1" font-size="5.6" font-weight="bold" fill="#333" transform="rotate(-90 150.5 584.1)">P6</text>
<text x="157.7" y="584.1" font-size="5.6" font-weight="bold" fill="#333" transform="rotate(-90 157.7 584.1)">P7</text>
<text x="164.9" y="584.1" font-size="5.6" font-weight="bold" fill="#333" transform="rotate(-90 164.9 584.1)">P8</text>
<text x="172.0" y="584.1" font-size="5.6" font-weight="bold" fill="#333" transform="rotate(-90 172.0 584.1)">P9</text>
<text x="179.2" y="584.1" font-size="5.6" font-weight="bold" fill="#333" transform="rotate(-90 179.2 584.1)">P10</text>
<text x="186.3" y="584.1" font-size="5.6" font-weight="bold" fill="#333" transform="rotate(-90 186.3 584.1)">P11</text>
<text x="193.5" y="584.1" font-size="5.6" font-weight="bold" fill="#333" transform="rotate(-90 193.5 584.1)">P12</text>
<text x="200.7" y="584.1" font-size="5.6" font-weight="bold" fill="#333" transform="rotate(-90 200.7 584.1)">P13</text>
<text x="238.6" y="428.9" font-size="10.4" text-anchor="middle" font-weight="bold" fill="#111">Control</text>
<text x="276.0" y="428.9" font-size="10.2" text-anchor="middle" font-weight="bold" fill="#111">T2D</text>
<text x="321.0" y="428.9" font-size="10.2" text-anchor="middle" font-weight="bold" fill="#111">T1D</text>
<text x="220.3" y="583.4" font-size="5.6" font-weight="bold" fill="#333" transform="rotate(-90 220.3 583.4)">C1</text>
<text x="227.6" y="583.4" font-size="5.6" font-weight="bold" fill="#333" transform="rotate(-90 227.6 583.4)">C2</text>
<text x="234.9" y="583.4" font-size="5.6" font-weight="bold" fill="#333" transform="rotate(-90 234.9 583.4)">C3</text>
<text x="242.2" y="583.4" font-size="5.6" font-weight="bold" fill="#333" transform="rotate(-90 242.2 583.4)">C4</text>
<text x="249.5" y="583.4" font-size="5.6" font-weight="bold" fill="#333" transform="rotate(-90 249.5 583.4)">C5</text>
<text x="256.9" y="583.4" font-size="5.6" font-weight="bold" fill="#333" transform="rotate(-90 256.9 583.4)">C6</text>
<text x="264.1" y="583.4" font-size="5.6" font-weight="bold" fill="#333" transform="rotate(-90 264.1 583.4)">P1</text>
<text x="271.4" y="583.4" font-size="5.6" font-weight="bold" fill="#333" transform="rotate(-90 271.4 583.4)">P2</text>
<text x="278.8" y="583.4" font-size="5.6" font-weight="bold" fill="#333" transform="rotate(-90 278.8 583.4)">P3</text>
<text x="286.0" y="583.4" font-size="5.6" font-weight="bold" fill="#333" transform="rotate(-90 286.0 583.4)">P4</text>
<text x="293.3" y="583.4" font-size="5.6" font-weight="bold" fill="#333" transform="rotate(-90 293.3 583.4)">P5</text>
<text x="300.6" y="583.4" font-size="5.6" font-weight="bold" fill="#333" transform="rotate(-90 300.6 583.4)">P6</text>
<text x="307.9" y="583.4" font-size="5.6" font-weight="bold" fill="#333" transform="rotate(-90 307.9 583.4)">P7</text>
<text x="315.2" y="583.4" font-size="5.6" font-weight="bold" fill="#333" transform="rotate(-90 315.2 583.4)">P8</text>
<text x="322.5" y="583.4" font-size="5.6" font-weight="bold" fill="#333" transform="rotate(-90 322.5 583.4)">P9</text>
<text x="329.8" y="583.4" font-size="5.6" font-weight="bold" fill="#333" transform="rotate(-90 329.8 583.4)">P10</text>
<text x="337.1" y="583.4" font-size="5.6" font-weight="bold" fill="#333" transform="rotate(-90 337.1 583.4)">P11</text>
<text x="344.4" y="583.4" font-size="5.6" font-weight="bold" fill="#333" transform="rotate(-90 344.4 583.4)">P12</text>
<text x="351.8" y="583.4" font-size="5.6" font-weight="bold" fill="#333" transform="rotate(-90 351.8 583.4)">P13</text>
<text x="50.6" y="273.0" font-size="5.8" text-anchor="start" fill="#222">C1</text>
<text x="50.6" y="280.2" font-size="5.8" text-anchor="start" fill="#222">C2</text>
<text x="50.6" y="287.4" font-size="5.8" text-anchor="start" fill="#222">C3</text>
<text x="50.6" y="294.5" font-size="5.8" text-anchor="start" fill="#222">C4</text>
<text x="50.6" y="301.7" font-size="5.8" text-anchor="start" fill="#222">C5</text>
<text x="50.6" y="308.9" font-size="5.8" text-anchor="start" fill="#222">C6</text>
<text x="50.6" y="316.1" font-size="5.8" text-anchor="start" fill="#222">P1</text>
<text x="50.6" y="323.3" font-size="5.8" text-anchor="start" fill="#222">P2</text>
<text x="50.6" y="330.4" font-size="5.8" text-anchor="start" fill="#222">P3</text>
<text x="50.6" y="337.6" font-size="5.8" text-anchor="start" fill="#222">P4</text>
<text x="50.6" y="344.8" font-size="5.8" text-anchor="start" fill="#222">P5</text>
<text x="50.6" y="352.0" font-size="5.8" text-anchor="start" fill="#222">P6</text>
<text x="50.6" y="359.2" font-size="5.8" text-anchor="start" fill="#222">P7</text>
<text x="50.6" y="366.3" font-size="5.8" text-anchor="start" fill="#222">P8</text>
<text x="50.6" y="373.5" font-size="5.8" text-anchor="start" fill="#222">P9</text>
<text x="50.6" y="380.7" font-size="5.8" text-anchor="start" fill="#222">P10</text>
<text x="50.6" y="387.9" font-size="5.8" text-anchor="start" fill="#222">P11</text>
<text x="50.6" y="395.1" font-size="5.8" text-anchor="start" fill="#222">P12</text>
<text x="50.6" y="402.2" font-size="5.8" text-anchor="start" fill="#222">P13</text>
<line x1="47.6" y1="274.1" x2="47.6" y2="309.40000000000003" stroke="#888" stroke-width="0.8"/>
<text x="42.2" y="293.6" font-size="10.4" font-weight="bold" text-anchor="middle" fill="#111" transform="rotate(-90 42.2 293.6)">Control</text>
<line x1="47.6" y1="312.70000000000005" x2="47.6" y2="337.70000000000005" stroke="#888" stroke-width="0.8"/>
<text x="42.2" y="326.3" font-size="10.4" font-weight="bold" text-anchor="middle" fill="#111" transform="rotate(-90 42.2 326.3)">T2D</text>
<line x1="47.6" y1="340.70000000000005" x2="47.6" y2="402.90000000000003" stroke="#888" stroke-width="0.8"/>
<text x="42.2" y="372.4" font-size="10.4" font-weight="bold" text-anchor="middle" fill="#111" transform="rotate(-90 42.2 372.4)">T1D</text>
<text x="53.7" y="440.3" font-size="5.8" text-anchor="start" fill="#222">C1</text>
<text x="53.7" y="447.5" font-size="5.8" text-anchor="start" fill="#222">C2</text>
<text x="53.7" y="454.7" font-size="5.8" text-anchor="start" fill="#222">C3</text>
<text x="53.7" y="461.8" font-size="5.8" text-anchor="start" fill="#222">C4</text>
<text x="53.7" y="469.0" font-size="5.8" text-anchor="start" fill="#222">C5</text>
<text x="53.7" y="476.2" font-size="5.8" text-anchor="start" fill="#222">C6</text>
<text x="53.7" y="483.4" font-size="5.8" text-anchor="start" fill="#222">P1</text>
<text x="53.7" y="490.6" font-size="5.8" text-anchor="start" fill="#222">P2</text>
<text x="53.7" y="497.7" font-size="5.8" text-anchor="start" fill="#222">P3</text>
<text x="53.7" y="504.9" font-size="5.8" text-anchor="start" fill="#222">P4</text>
<text x="53.7" y="512.1" font-size="5.8" text-anchor="start" fill="#222">P5</text>
<text x="53.7" y="519.3" font-size="5.8" text-anchor="start" fill="#222">P6</text>
<text x="53.7" y="526.5" font-size="5.8" text-anchor="start" fill="#222">P7</text>
<text x="53.7" y="533.6" font-size="5.8" text-anchor="start" fill="#222">P8</text>
<text x="53.7" y="540.8" font-size="5.8" text-anchor="start" fill="#222">P9</text>
<text x="53.7" y="548.0" font-size="5.8" text-anchor="start" fill="#222">P10</text>
<text x="53.7" y="555.2" font-size="5.8" text-anchor="start" fill="#222">P11</text>
<text x="53.7" y="562.4" font-size="5.8" text-anchor="start" fill="#222">P12</text>
<text x="53.7" y="569.5" font-size="5.8" text-anchor="start" fill="#222">P13</text>
<line x1="50.5" y1="442.2" x2="50.5" y2="477.5" stroke="#888" stroke-width="0.8"/>
<text x="45.7" y="461.7" font-size="10.4" font-weight="bold" text-anchor="middle" fill="#111" transform="rotate(-90 45.7 461.7)">Control</text>
<line x1="50.5" y1="480.8" x2="50.5" y2="505.79999999999995" stroke="#888" stroke-width="0.8"/>
<text x="45.7" y="494.4" font-size="10.4" font-weight="bold" text-anchor="middle" fill="#111" transform="rotate(-90 45.7 494.4)">T2D</text>
<line x1="50.5" y1="508.79999999999995" x2="50.5" y2="571.0" stroke="#888" stroke-width="0.8"/>
<text x="45.7" y="540.5" font-size="10.4" font-weight="bold" text-anchor="middle" fill="#111" transform="rotate(-90 45.7 540.5)">T1D</text>
<line x1="69.7" y1="588.31" x2="108.36" y2="588.31" stroke="#999" stroke-width="0.9"/>
<line x1="112.66" y1="588.31" x2="137.0" y2="588.31" stroke="#999" stroke-width="0.9"/>
<line x1="141.3" y1="588.31" x2="201.44" y2="588.31" stroke="#999" stroke-width="0.9"/>
<line x1="218.2" y1="587.5699999999999" x2="257.7" y2="587.5699999999999" stroke="#999" stroke-width="0.9"/>
<line x1="262.0" y1="587.5699999999999" x2="286.9" y2="587.5699999999999" stroke="#999" stroke-width="0.9"/>
<line x1="291.2" y1="587.5699999999999" x2="352.59999999999997" y2="587.5699999999999" stroke="#999" stroke-width="0.9"/>
<text x="129.5" y="601.8" font-size="11.9" text-anchor="middle" font-weight="bold" fill="#111">V usage correlation</text>
<text x="273.7" y="601.8" font-size="11.9" text-anchor="middle" font-weight="bold" fill="#111">J usage correlation</text>
<line x1="208.8" y1="252" x2="208.8" y2="591.4" stroke="#444" stroke-width="1.2"/>
<text x="2.1" y="340" font-size="11.3" text-anchor="start" fill="#222">CD4</text>
<text x="25.3" y="332.8" font-size="8.5" text-anchor="start" fill="#222">+</text>
<text x="2.9" y="508.5" font-size="11.3" text-anchor="start" fill="#222">CD8</text>
<text x="25.8" y="502.6" font-size="8.5" text-anchor="start" fill="#222">+</text>
<rect x="370.90" y="381.00" width="4.50" height="11.40" fill="#96dc7e"/>
<text x="0" y="0" font-size="6.0" text-anchor="start" fill="#333" transform="translate(377.2 388.9) scale(0.85 1)">0.1</text>
<rect x="370.90" y="392.38" width="4.50" height="11.40" fill="#98da7c"/>
<line x1="370.9" y1="392.38" x2="375.4" y2="392.38" stroke="#fff" stroke-opacity="0.45" stroke-width="0.8"/>
<text x="0" y="0" font-size="6.0" text-anchor="start" fill="#333" transform="translate(377.2 400.3) scale(0.85 1)">0.2</text>
<rect x="370.90" y="403.76" width="4.50" height="11.40" fill="#9ad87a"/>
<line x1="370.9" y1="403.76" x2="375.4" y2="403.76" stroke="#fff" stroke-opacity="0.45" stroke-width="0.8"/>
<text x="0" y="0" font-size="6.0" text-anchor="start" fill="#333" transform="translate(377.2 411.7) scale(0.85 1)">0.3</text>
<rect x="370.90" y="415.14" width="4.50" height="11.40" fill="#9cd678"/>
<line x1="370.9" y1="415.14" x2="375.4" y2="415.14" stroke="#fff" stroke-opacity="0.45" stroke-width="0.8"/>
<text x="0" y="0" font-size="6.0" text-anchor="start" fill="#333" transform="translate(377.2 423.0) scale(0.85 1)">0.4</text>
<rect x="370.90" y="426.52" width="4.50" height="11.40" fill="#a4ce6c"/>
<line x1="370.9" y1="426.52" x2="375.4" y2="426.52" stroke="#fff" stroke-opacity="0.45" stroke-width="0.8"/>
<text x="0" y="0" font-size="6.0" text-anchor="start" fill="#333" transform="translate(377.2 434.4) scale(0.85 1)">0.5</text>
<rect x="370.90" y="437.90" width="4.50" height="11.40" fill="#afc25f"/>
<line x1="370.9" y1="437.90" x2="375.4" y2="437.90" stroke="#fff" stroke-opacity="0.45" stroke-width="0.8"/>
<text x="0" y="0" font-size="6.0" text-anchor="start" fill="#333" transform="translate(377.2 445.8) scale(0.85 1)">0.6</text>
<rect x="370.90" y="449.28" width="4.50" height="11.40" fill="#bcb452"/>
<line x1="370.9" y1="449.28" x2="375.4" y2="449.28" stroke="#fff" stroke-opacity="0.45" stroke-width="0.8"/>
<text x="0" y="0" font-size="6.0" text-anchor="start" fill="#333" transform="translate(377.2 457.2) scale(0.85 1)">0.7</text>
<rect x="370.90" y="460.66" width="4.50" height="11.40" fill="#cc9e44"/>
<line x1="370.9" y1="460.66" x2="375.4" y2="460.66" stroke="#fff" stroke-opacity="0.45" stroke-width="0.8"/>
<text x="0" y="0" font-size="6.0" text-anchor="start" fill="#333" transform="translate(377.2 468.6) scale(0.85 1)">0.8</text>
<rect x="370.90" y="472.04" width="4.50" height="11.40" fill="#dc8e3a"/>
<line x1="370.9" y1="472.04" x2="375.4" y2="472.04" stroke="#fff" stroke-opacity="0.45" stroke-width="0.8"/>
<text x="0" y="0" font-size="6.0" text-anchor="start" fill="#333" transform="translate(377.2 479.9) scale(0.85 1)">0.9</text>
<rect x="370.90" y="483.42" width="4.50" height="11.40" fill="#ec7830"/>
<line x1="370.9" y1="483.42" x2="375.4" y2="483.42" stroke="#fff" stroke-opacity="0.45" stroke-width="0.8"/>
<text x="0" y="0" font-size="6.0" text-anchor="start" fill="#333" transform="translate(377.2 491.3) scale(0.85 1)">1.0</text>
<text x="366.9" y="438" font-size="8.6" text-anchor="middle" fill="#333" transform="rotate(-90 366.9 438)">Correlation</text>
<text x="393.6" y="250.6" font-size="14.5" text-anchor="start" fill="#111" style="stroke-width:0.4px">D</text>
<line x1="433.4" y1="264" x2="433.4" y2="395.3" stroke="#333" stroke-width="0.9"/>
<line x1="433.4" y1="395.3" x2="590" y2="395.3" stroke="#333" stroke-width="0.9"/>
<line x1="430.4" y1="395.3" x2="433.4" y2="395.3" stroke="#333" stroke-width="0.8"/>
<text x="429.09999999999997" y="398.7" font-size="9.5" text-anchor="end" fill="#222">0.0</text>
<line x1="431.7" y1="385.21000000000004" x2="433.4" y2="385.21000000000004" stroke="#333" stroke-width="0.6"/>
<line x1="430.4" y1="375.12" x2="433.4" y2="375.12" stroke="#333" stroke-width="0.8"/>
<text x="429.09999999999997" y="378.52" font-size="9.5" text-anchor="end" fill="#222">0.2</text>
<line x1="431.7" y1="365.03000000000003" x2="433.4" y2="365.03000000000003" stroke="#333" stroke-width="0.6"/>
<line x1="430.4" y1="354.94" x2="433.4" y2="354.94" stroke="#333" stroke-width="0.8"/>
<text x="429.09999999999997" y="358.34" font-size="9.5" text-anchor="end" fill="#222">0.4</text>
<line x1="431.7" y1="344.85" x2="433.4" y2="344.85" stroke="#333" stroke-width="0.6"/>
<line x1="430.4" y1="334.76" x2="433.4" y2="334.76" stroke="#333" stroke-width="0.8"/>
<text x="429.09999999999997" y="338.15999999999997" font-size="9.5" text-anchor="end" fill="#222">0.6</text>
<line x1="431.7" y1="324.67" x2="433.4" y2="324.67" stroke="#333" stroke-width="0.6"/>
<line x1="430.4" y1="314.58" x2="433.4" y2="314.58" stroke="#333" stroke-width="0.8"/>
<text x="429.09999999999997" y="317.97999999999996" font-size="9.5" text-anchor="end" fill="#222">0.8</text>
<line x1="431.7" y1="304.49" x2="433.4" y2="304.49" stroke="#333" stroke-width="0.6"/>
<line x1="430.4" y1="294.4" x2="433.4" y2="294.4" stroke="#333" stroke-width="0.8"/>
<text x="429.09999999999997" y="297.79999999999995" font-size="9.5" text-anchor="end" fill="#222">1.0</text>
<line x1="431.7" y1="284.31" x2="433.4" y2="284.31" stroke="#333" stroke-width="0.6"/>
<line x1="430.4" y1="274.22" x2="433.4" y2="274.22" stroke="#333" stroke-width="0.8"/>
<text x="429.09999999999997" y="277.62" font-size="9.5" text-anchor="end" fill="#222">1.2</text>
<line x1="459.85" y1="298.43600000000004" x2="459.85" y2="299.445" stroke="#111" stroke-width="1.1"/>
<line x1="459.85" y1="302.472" x2="459.85" y2="309.535" stroke="#111" stroke-width="1.1"/>
<line x1="456.35" y1="298.43600000000004" x2="463.35" y2="298.43600000000004" stroke="#111" stroke-width="1.1"/>
<line x1="456.35" y1="309.535" x2="463.35" y2="309.535" stroke="#111" stroke-width="1.1"/>
<rect x="443.5" y="299.4" width="32.7" height="3.0" fill="white" stroke="#111" stroke-width="1.2"/>
<line x1="443.5" y1="300.454" x2="476.2" y2="300.454" stroke="#111" stroke-width="1.2"/>
<circle cx="459.9" cy="301.5" r="0.8" fill="#111"/>
<line x1="459.85" y1="395.3" x2="459.85" y2="397.8" stroke="#333" stroke-width="0.9"/>
<text x="466.9" y="409.8" font-size="10.2" text-anchor="middle" font-weight="bold" fill="#111">Control</text>
<line x1="513.0" y1="296.418" x2="513.0" y2="298.43600000000004" stroke="#111" stroke-width="1.1"/>
<line x1="513.0" y1="299.445" x2="513.0" y2="306.50800000000004" stroke="#111" stroke-width="1.1"/>
<line x1="509.5" y1="296.418" x2="516.5" y2="296.418" stroke="#111" stroke-width="1.1"/>
<line x1="509.5" y1="306.50800000000004" x2="516.5" y2="306.50800000000004" stroke="#111" stroke-width="1.1"/>
<rect x="497.0" y="298.4" width="32.0" height="1.0" fill="white" stroke="#111" stroke-width="1.2"/>
<line x1="497.0" y1="298.94050000000004" x2="529.0" y2="298.94050000000004" stroke="#111" stroke-width="1.2"/>
<circle cx="513.0" cy="299.4" r="0.8" fill="#111"/>
<line x1="513.0" y1="395.3" x2="513.0" y2="397.8" stroke="#333" stroke-width="0.9"/>
<text x="519.3" y="409.8" font-size="10.2" text-anchor="middle" font-weight="bold" fill="#111">T2D</text>
<line x1="566.55" y1="306.50800000000004" x2="566.55" y2="330.724" stroke="#111" stroke-width="1.1"/>
<line x1="566.55" y1="358.976" x2="566.55" y2="386.219" stroke="#111" stroke-width="1.1"/>
<line x1="563.05" y1="306.50800000000004" x2="570.05" y2="306.50800000000004" stroke="#111" stroke-width="1.1"/>
<line x1="563.05" y1="386.219" x2="570.05" y2="386.219" stroke="#111" stroke-width="1.1"/>
<rect x="550.6" y="330.7" width="31.9" height="28.3" fill="white" stroke="#111" stroke-width="1.2"/>
<line x1="550.6" y1="340.814" x2="582.5" y2="340.814" stroke="#111" stroke-width="1.2"/>
<circle cx="566.5" cy="344.9" r="0.8" fill="#111"/>
<circle cx="566.5" cy="302.5" r="0.9" fill="#111"/>
<line x1="566.55" y1="395.3" x2="566.55" y2="397.8" stroke="#333" stroke-width="0.9"/>
<text x="566.7" y="409.8" font-size="10.2" text-anchor="middle" font-weight="bold" fill="#111">T1D</text>
<text x="509.7" y="263" font-size="11.9" text-anchor="middle" font-weight="bold" fill="#111">V usage correlation</text>
<text x="412.2" y="334.8" font-size="10.2" font-weight="bold" text-anchor="middle" fill="#111" transform="rotate(-90 412.2 334.8)">Correlation within groups</text>
<line x1="624.8" y1="264" x2="624.8" y2="395.3" stroke="#333" stroke-width="0.9"/>
<line x1="624.8" y1="395.3" x2="779" y2="395.3" stroke="#333" stroke-width="0.9"/>
<line x1="621.8" y1="395.3" x2="624.8" y2="395.3" stroke="#333" stroke-width="0.8"/>
<text x="620.5" y="398.7" font-size="9.5" text-anchor="end" fill="#222">0.0</text>
<line x1="623.0999999999999" y1="385.21000000000004" x2="624.8" y2="385.21000000000004" stroke="#333" stroke-width="0.6"/>
<line x1="621.8" y1="375.12" x2="624.8" y2="375.12" stroke="#333" stroke-width="0.8"/>
<text x="620.5" y="378.52" font-size="9.5" text-anchor="end" fill="#222">0.2</text>
<line x1="623.0999999999999" y1="365.03000000000003" x2="624.8" y2="365.03000000000003" stroke="#333" stroke-width="0.6"/>
<line x1="621.8" y1="354.94" x2="624.8" y2="354.94" stroke="#333" stroke-width="0.8"/>
<text x="620.5" y="358.34" font-size="9.5" text-anchor="end" fill="#222">0.4</text>
<line x1="623.0999999999999" y1="344.85" x2="624.8" y2="344.85" stroke="#333" stroke-width="0.6"/>
<line x1="621.8" y1="334.76" x2="624.8" y2="334.76" stroke="#333" stroke-width="0.8"/>
<text x="620.5" y="338.15999999999997" font-size="9.5" text-anchor="end" fill="#222">0.6</text>
<line x1="623.0999999999999" y1="324.67" x2="624.8" y2="324.67" stroke="#333" stroke-width="0.6"/>
<line x1="621.8" y1="314.58" x2="624.8" y2="314.58" stroke="#333" stroke-width="0.8"/>
<text x="620.5" y="317.97999999999996" font-size="9.5" text-anchor="end" fill="#222">0.8</text>
<line x1="623.0999999999999" y1="304.49" x2="624.8" y2="304.49" stroke="#333" stroke-width="0.6"/>
<line x1="621.8" y1="294.4" x2="624.8" y2="294.4" stroke="#333" stroke-width="0.8"/>
<text x="620.5" y="297.79999999999995" font-size="9.5" text-anchor="end" fill="#222">1.0</text>
<line x1="623.0999999999999" y1="284.31" x2="624.8" y2="284.31" stroke="#333" stroke-width="0.6"/>
<line x1="621.8" y1="274.22" x2="624.8" y2="274.22" stroke="#333" stroke-width="0.8"/>
<text x="620.5" y="277.62" font-size="9.5" text-anchor="end" fill="#222">1.2</text>
<line x1="651.6" y1="295.409" x2="651.6" y2="296.418" stroke="#111" stroke-width="1.1"/>
<line x1="651.6" y1="299.445" x2="651.6" y2="301.463" stroke="#111" stroke-width="1.1"/>
<line x1="648.1" y1="295.409" x2="655.1" y2="295.409" stroke="#111" stroke-width="1.1"/>
<line x1="648.1" y1="301.463" x2="655.1" y2="301.463" stroke="#111" stroke-width="1.1"/>
<rect x="635.0" y="296.4" width="33.2" height="3.0" fill="white" stroke="#111" stroke-width="1.2"/>
<line x1="635.0" y1="298.43600000000004" x2="668.2" y2="298.43600000000004" stroke="#111" stroke-width="1.2"/>
<circle cx="651.6" cy="298.4" r="0.8" fill="#111"/>
<circle cx="651.6" cy="306.5" r="0.9" fill="#111"/>
<line x1="651.6" y1="395.3" x2="651.6" y2="397.8" stroke="#333" stroke-width="0.9"/>
<text x="654.0" y="409.8" font-size="10.2" text-anchor="middle" font-weight="bold" fill="#111">Control</text>
<line x1="704.85" y1="295.409" x2="704.85" y2="295.409" stroke="#111" stroke-width="1.1"/>
<line x1="704.85" y1="296.418" x2="704.85" y2="296.418" stroke="#111" stroke-width="1.1"/>
<line x1="701.35" y1="295.409" x2="708.35" y2="295.409" stroke="#111" stroke-width="1.1"/>
<line x1="701.35" y1="296.418" x2="708.35" y2="296.418" stroke="#111" stroke-width="1.1"/>
<rect x="688.5" y="295.4" width="32.7" height="1.0" fill="white" stroke="#111" stroke-width="1.2"/>
<line x1="688.5" y1="295.9135" x2="721.2" y2="295.9135" stroke="#111" stroke-width="1.2"/>
<circle cx="704.9" cy="295.9" r="0.8" fill="#111"/>
<line x1="704.85" y1="395.3" x2="704.85" y2="397.8" stroke="#333" stroke-width="0.9"/>
<text x="706.6" y="409.8" font-size="10.2" text-anchor="middle" font-weight="bold" fill="#111">T2D</text>
<line x1="758.5" y1="316.598" x2="758.5" y2="338.796" stroke="#111" stroke-width="1.1"/>
<line x1="758.5" y1="380.165" x2="758.5" y2="395.3" stroke="#111" stroke-width="1.1"/>
<line x1="755.0" y1="316.598" x2="762.0" y2="316.598" stroke="#111" stroke-width="1.1"/>
<line x1="755.0" y1="395.3" x2="762.0" y2="395.3" stroke="#111" stroke-width="1.1"/>
<rect x="742.6" y="338.8" width="31.8" height="41.4" fill="white" stroke="#111" stroke-width="1.2"/>
<line x1="742.6" y1="354.94" x2="774.4" y2="354.94" stroke="#111" stroke-width="1.2"/>
<circle cx="758.5" cy="357.0" r="0.8" fill="#111"/>
<circle cx="758.5" cy="308.5" r="0.9" fill="#111"/>
<line x1="758.5" y1="395.3" x2="758.5" y2="397.8" stroke="#333" stroke-width="0.9"/>
<text x="754.0" y="409.8" font-size="10.2" text-anchor="middle" font-weight="bold" fill="#111">T1D</text>
<text x="700.5" y="263" font-size="11.9" text-anchor="middle" font-weight="bold" fill="#111">J usage correlation</text>
<text x="602.5" y="334.8" font-size="10.2" font-weight="bold" text-anchor="middle" fill="#111" transform="rotate(-90 602.5 334.8)">Correlation within groups</text>
<ellipse cx="705" cy="296" rx="3.2" ry="1.9" fill="#111"/>
<line x1="435.1" y1="443.8" x2="435.1" y2="574.8" stroke="#333" stroke-width="0.9"/>
<line x1="435.1" y1="574.8" x2="590" y2="574.8" stroke="#333" stroke-width="0.9"/>
<line x1="432.1" y1="574.8" x2="435.1" y2="574.8" stroke="#333" stroke-width="0.8"/>
<text x="430.8" y="578.1999999999999" font-size="9.5" text-anchor="end" fill="#222">-0.2</text>
<line x1="433.40000000000003" y1="566.0799999999999" x2="435.1" y2="566.0799999999999" stroke="#333" stroke-width="0.6"/>
<line x1="432.1" y1="557.3599999999999" x2="435.1" y2="557.3599999999999" stroke="#333" stroke-width="0.8"/>
<text x="430.8" y="560.7599999999999" font-size="9.5" text-anchor="end" fill="#222">0.0</text>
<line x1="433.40000000000003" y1="548.64" x2="435.1" y2="548.64" stroke="#333" stroke-width="0.6"/>
<line x1="432.1" y1="539.92" x2="435.1" y2="539.92" stroke="#333" stroke-width="0.8"/>
<text x="430.8" y="543.3199999999999" font-size="9.5" text-anchor="end" fill="#222">0.2</text>
<line x1="433.40000000000003" y1="531.1999999999999" x2="435.1" y2="531.1999999999999" stroke="#333" stroke-width="0.6"/>
<line x1="432.1" y1="522.4799999999999" x2="435.1" y2="522.4799999999999" stroke="#333" stroke-width="0.8"/>
<text x="430.8" y="525.8799999999999" font-size="9.5" text-anchor="end" fill="#222">0.4</text>
<line x1="433.40000000000003" y1="513.76" x2="435.1" y2="513.76" stroke="#333" stroke-width="0.6"/>
<line x1="432.1" y1="505.03999999999996" x2="435.1" y2="505.03999999999996" stroke="#333" stroke-width="0.8"/>
<text x="430.8" y="508.43999999999994" font-size="9.5" text-anchor="end" fill="#222">0.6</text>
<line x1="433.40000000000003" y1="496.31999999999994" x2="435.1" y2="496.31999999999994" stroke="#333" stroke-width="0.6"/>
<line x1="432.1" y1="487.59999999999997" x2="435.1" y2="487.59999999999997" stroke="#333" stroke-width="0.8"/>
<text x="430.8" y="490.99999999999994" font-size="9.5" text-anchor="end" fill="#222">0.8</text>
<line x1="433.40000000000003" y1="478.87999999999994" x2="435.1" y2="478.87999999999994" stroke="#333" stroke-width="0.6"/>
<line x1="432.1" y1="470.15999999999997" x2="435.1" y2="470.15999999999997" stroke="#333" stroke-width="0.8"/>
<text x="430.8" y="473.55999999999995" font-size="9.5" text-anchor="end" fill="#222">1.0</text>
<line x1="433.40000000000003" y1="461.43999999999994" x2="435.1" y2="461.43999999999994" stroke="#333" stroke-width="0.6"/>
<line x1="432.1" y1="452.71999999999997" x2="435.1" y2="452.71999999999997" stroke="#333" stroke-width="0.8"/>
<text x="430.8" y="456.11999999999995" font-size="9.5" text-anchor="end" fill="#222">1.2</text>
<line x1="462.5" y1="477.13599999999997" x2="462.5" y2="481.496" stroke="#111" stroke-width="1.1"/>
<line x1="462.5" y1="497.19199999999995" x2="462.5" y2="510.27199999999993" stroke="#111" stroke-width="1.1"/>
<line x1="459.0" y1="477.13599999999997" x2="466.0" y2="477.13599999999997" stroke="#111" stroke-width="1.1"/>
<line x1="459.0" y1="510.27199999999993" x2="466.0" y2="510.27199999999993" stroke="#111" stroke-width="1.1"/>
<rect x="446.4" y="481.5" width="32.2" height="15.7" fill="white" stroke="#111" stroke-width="1.2"/>
<line x1="446.4" y1="493.70399999999995" x2="478.6" y2="493.70399999999995" stroke="#111" stroke-width="1.2"/>
<circle cx="462.5" cy="492.8" r="0.8" fill="#111"/>
<line x1="462.5" y1="574.8" x2="462.5" y2="577.3" stroke="#333" stroke-width="0.9"/>
<text x="467.8" y="590.5" font-size="10.2" text-anchor="middle" font-weight="bold" fill="#111">Control</text>
<line x1="515.6" y1="481.496" x2="515.6" y2="491.9599999999999" stroke="#111" stroke-width="1.1"/>
<line x1="515.6" y1="513.76" x2="515.6" y2="525.968" stroke="#111" stroke-width="1.1"/>
<line x1="512.1" y1="481.496" x2="519.1" y2="481.496" stroke="#111" stroke-width="1.1"/>
<line x1="512.1" y1="525.968" x2="519.1" y2="525.968" stroke="#111" stroke-width="1.1"/>
<rect x="499.5" y="492.0" width="32.2" height="21.8" fill="white" stroke="#111" stroke-width="1.2"/>
<line x1="499.5" y1="510.27199999999993" x2="531.7" y2="510.27199999999993" stroke="#111" stroke-width="1.2"/>
<circle cx="515.6" cy="505.0" r="0.8" fill="#111"/>
<line x1="515.6" y1="574.8" x2="515.6" y2="577.3" stroke="#333" stroke-width="0.9"/>
<text x="514.8" y="590.5" font-size="10.2" text-anchor="middle" font-weight="bold" fill="#111">T2D</text>
<line x1="569.7" y1="491.08799999999997" x2="569.7" y2="500.67999999999995" stroke="#111" stroke-width="1.1"/>
<line x1="569.7" y1="533.8159999999999" x2="569.7" y2="559.976" stroke="#111" stroke-width="1.1"/>
<line x1="566.2" y1="491.08799999999997" x2="573.2" y2="491.08799999999997" stroke="#111" stroke-width="1.1"/>
<line x1="566.2" y1="559.976" x2="573.2" y2="559.976" stroke="#111" stroke-width="1.1"/>
<rect x="553.6" y="500.7" width="32.2" height="33.1" fill="white" stroke="#111" stroke-width="1.2"/>
<line x1="553.6" y1="512.016" x2="585.8" y2="512.016" stroke="#111" stroke-width="1.2"/>
<circle cx="569.7" cy="518.1" r="0.8" fill="#111"/>
<circle cx="569.7" cy="483.2" r="0.9" fill="#111"/>
<circle cx="569.7" cy="565.2" r="0.9" fill="#111"/>
<line x1="569.7" y1="574.8" x2="569.7" y2="577.3" stroke="#333" stroke-width="0.9"/>
<text x="567.2" y="590.5" font-size="10.2" text-anchor="middle" font-weight="bold" fill="#111">T1D</text>
<text x="508.4" y="437.5" font-size="11.9" text-anchor="middle" font-weight="bold" fill="#111">V usage correlation</text>
<text x="412.5" y="510.7" font-size="10.2" font-weight="bold" text-anchor="middle" fill="#111" transform="rotate(-90 412.5 510.7)">Correlation within groups</text>
<line x1="625.2" y1="443.8" x2="625.2" y2="574.8" stroke="#333" stroke-width="0.9"/>
<line x1="625.2" y1="574.8" x2="779" y2="574.8" stroke="#333" stroke-width="0.9"/>
<line x1="622.2" y1="574.8" x2="625.2" y2="574.8" stroke="#333" stroke-width="0.8"/>
<text x="620.9000000000001" y="578.1999999999999" font-size="9.5" text-anchor="end" fill="#222">-0.2</text>
<line x1="623.5" y1="566.0799999999999" x2="625.2" y2="566.0799999999999" stroke="#333" stroke-width="0.6"/>
<line x1="622.2" y1="557.3599999999999" x2="625.2" y2="557.3599999999999" stroke="#333" stroke-width="0.8"/>
<text x="620.9000000000001" y="560.7599999999999" font-size="9.5" text-anchor="end" fill="#222">0.0</text>
<line x1="623.5" y1="548.64" x2="625.2" y2="548.64" stroke="#333" stroke-width="0.6"/>
<line x1="622.2" y1="539.92" x2="625.2" y2="539.92" stroke="#333" stroke-width="0.8"/>
<text x="620.9000000000001" y="543.3199999999999" font-size="9.5" text-anchor="end" fill="#222">0.2</text>
<line x1="623.5" y1="531.1999999999999" x2="625.2" y2="531.1999999999999" stroke="#333" stroke-width="0.6"/>
<line x1="622.2" y1="522.4799999999999" x2="625.2" y2="522.4799999999999" stroke="#333" stroke-width="0.8"/>
<text x="620.9000000000001" y="525.8799999999999" font-size="9.5" text-anchor="end" fill="#222">0.4</text>
<line x1="623.5" y1="513.76" x2="625.2" y2="513.76" stroke="#333" stroke-width="0.6"/>
<line x1="622.2" y1="505.03999999999996" x2="625.2" y2="505.03999999999996" stroke="#333" stroke-width="0.8"/>
<text x="620.9000000000001" y="508.43999999999994" font-size="9.5" text-anchor="end" fill="#222">0.6</text>
<line x1="623.5" y1="496.31999999999994" x2="625.2" y2="496.31999999999994" stroke="#333" stroke-width="0.6"/>
<line x1="622.2" y1="487.59999999999997" x2="625.2" y2="487.59999999999997" stroke="#333" stroke-width="0.8"/>
<text x="620.9000000000001" y="490.99999999999994" font-size="9.5" text-anchor="end" fill="#222">0.8</text>
<line x1="623.5" y1="478.87999999999994" x2="625.2" y2="478.87999999999994" stroke="#333" stroke-width="0.6"/>
<line x1="622.2" y1="470.15999999999997" x2="625.2" y2="470.15999999999997" stroke="#333" stroke-width="0.8"/>
<text x="620.9000000000001" y="473.55999999999995" font-size="9.5" text-anchor="end" fill="#222">1.0</text>
<line x1="623.5" y1="461.43999999999994" x2="625.2" y2="461.43999999999994" stroke="#333" stroke-width="0.6"/>
<line x1="622.2" y1="452.71999999999997" x2="625.2" y2="452.71999999999997" stroke="#333" stroke-width="0.8"/>
<text x="620.9000000000001" y="456.11999999999995" font-size="9.5" text-anchor="end" fill="#222">1.2</text>
<line x1="651.75" y1="474.52" x2="651.75" y2="477.13599999999997" stroke="#111" stroke-width="1.1"/>
<line x1="651.75" y1="511.14399999999995" x2="651.75" y2="516.376" stroke="#111" stroke-width="1.1"/>
<line x1="648.25" y1="474.52" x2="655.25" y2="474.52" stroke="#111" stroke-width="1.1"/>
<line x1="648.25" y1="516.376" x2="655.25" y2="516.376" stroke="#111" stroke-width="1.1"/>
<rect x="635.5" y="477.1" width="32.5" height="34.0" fill="white" stroke="#111" stroke-width="1.2"/>
<line x1="635.5" y1="491.08799999999997" x2="668.0" y2="491.08799999999997" stroke="#111" stroke-width="1.2"/>
<circle cx="651.8" cy="495.4" r="0.8" fill="#111"/>
<circle cx="651.8" cy="471.0" r="0.9" fill="#111"/>
<circle cx="651.8" cy="531.2" r="0.9" fill="#111"/>
<line x1="651.75" y1="574.8" x2="651.75" y2="577.3" stroke="#333" stroke-width="0.9"/>
<text x="655.0" y="590.5" font-size="10.2" text-anchor="middle" font-weight="bold" fill="#111">Control</text>
<line x1="705.15" y1="471.90399999999994" x2="705.15" y2="478.87999999999994" stroke="#111" stroke-width="1.1"/>
<line x1="705.15" y1="512.016" x2="705.15" y2="518.1199999999999" stroke="#111" stroke-width="1.1"/>
<line x1="701.65" y1="471.90399999999994" x2="708.65" y2="471.90399999999994" stroke="#111" stroke-width="1.1"/>
<line x1="701.65" y1="518.1199999999999" x2="708.65" y2="518.1199999999999" stroke="#111" stroke-width="1.1"/>
<rect x="689.0" y="478.9" width="32.3" height="33.1" fill="white" stroke="#111" stroke-width="1.2"/>
<line x1="689.0" y1="484.9839999999999" x2="721.3" y2="484.9839999999999" stroke="#111" stroke-width="1.2"/>
<circle cx="705.1" cy="493.7" r="0.8" fill="#111"/>
<line x1="705.15" y1="574.8" x2="705.15" y2="577.3" stroke="#333" stroke-width="0.9"/>
<text x="706.9" y="590.5" font-size="10.2" text-anchor="middle" font-weight="bold" fill="#111">T2D</text>
<line x1="758.4" y1="481.496" x2="758.4" y2="493.70399999999995" stroke="#111" stroke-width="1.1"/>
<line x1="758.4" y1="533.8159999999999" x2="758.4" y2="563.4639999999999" stroke="#111" stroke-width="1.1"/>
<line x1="754.9" y1="481.496" x2="761.9" y2="481.496" stroke="#111" stroke-width="1.1"/>
<line x1="754.9" y1="563.4639999999999" x2="761.9" y2="563.4639999999999" stroke="#111" stroke-width="1.1"/>
<rect x="742.3" y="493.7" width="32.2" height="40.1" fill="white" stroke="#111" stroke-width="1.2"/>
<line x1="742.3" y1="515.5039999999999" x2="774.5" y2="515.5039999999999" stroke="#111" stroke-width="1.2"/>
<circle cx="758.4" cy="517.2" r="0.8" fill="#111"/>
<circle cx="758.4" cy="478.9" r="0.9" fill="#111"/>
<circle cx="758.4" cy="568.7" r="0.9" fill="#111"/>
<line x1="758.4" y1="574.8" x2="758.4" y2="577.3" stroke="#333" stroke-width="0.9"/>
<text x="756.3" y="590.5" font-size="10.2" text-anchor="middle" font-weight="bold" fill="#111">T1D</text>
<text x="702.5" y="437.5" font-size="11.9" text-anchor="middle" font-weight="bold" fill="#111">J usage correlation</text>
<text x="602.5" y="510.7" font-size="10.2" font-weight="bold" text-anchor="middle" fill="#111" transform="rotate(-90 602.5 510.7)">Correlation within groups</text>
<text x="370.3" y="338.7" font-size="11.3" text-anchor="start" fill="#222">CD4</text>
<text x="393" y="332.3" font-size="8.5" text-anchor="start" fill="#222">+</text>
<text x="369.2" y="514.5" font-size="11.3" text-anchor="start" fill="#222">CD8</text>
<text x="391.8" y="509.8" font-size="8.5" text-anchor="start" fill="#222">+</text>
</svg></body></html>
